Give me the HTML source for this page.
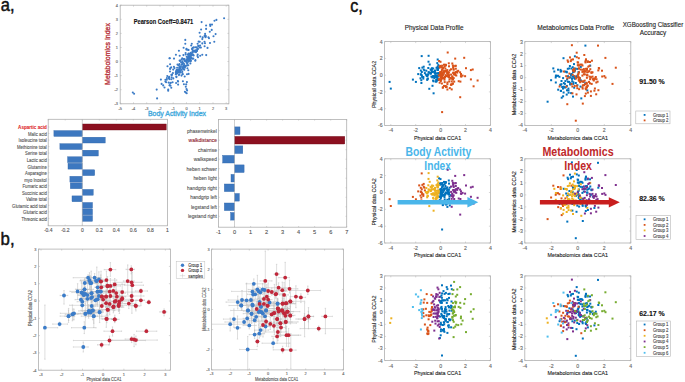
<!DOCTYPE html>
<html><head><meta charset="utf-8"><style>
html,body{margin:0;padding:0;background:#fff;width:685px;height:382px;overflow:hidden}
svg{display:block;font-family:"Liberation Sans",sans-serif}
</style></head><body>
<svg width="685" height="382" viewBox="0 0 685 382">
<rect width="685" height="382" fill="#fff"/>
<text x="0.8" y="10.7" font-size="17.5" fill="#111" textLength="13.8" lengthAdjust="spacingAndGlyphs" stroke="#111" stroke-width="0.45">a,</text>
<text x="0.6" y="244.7" font-size="17.5" fill="#111" textLength="14.0" lengthAdjust="spacingAndGlyphs" stroke="#111" stroke-width="0.45">b,</text>
<text x="350.2" y="11.6" font-size="17.5" fill="#111" textLength="12.6" lengthAdjust="spacingAndGlyphs" stroke="#111" stroke-width="0.45">c,</text>
<rect x="120.2" y="5.2" width="108.7" height="98.6" fill="none" stroke="#b0b0b0" stroke-width="0.8"/>
<line x1="120.2" y1="103.8" x2="120.2" y2="102.3" stroke="#b0b0b0" stroke-width="0.5"/>
<line x1="120.2" y1="5.2" x2="120.2" y2="6.7" stroke="#b0b0b0" stroke-width="0.5"/>
<text x="120.2" y="109.8" font-size="3.9" fill="#666" stroke="#666" stroke-width="0.12" text-anchor="middle">-5</text>
<line x1="133.5" y1="103.8" x2="133.5" y2="102.3" stroke="#b0b0b0" stroke-width="0.5"/>
<line x1="133.5" y1="5.2" x2="133.5" y2="6.7" stroke="#b0b0b0" stroke-width="0.5"/>
<text x="133.5" y="109.8" font-size="3.9" fill="#666" stroke="#666" stroke-width="0.12" text-anchor="middle">-4</text>
<line x1="146.7" y1="103.8" x2="146.7" y2="102.3" stroke="#b0b0b0" stroke-width="0.5"/>
<line x1="146.7" y1="5.2" x2="146.7" y2="6.7" stroke="#b0b0b0" stroke-width="0.5"/>
<text x="146.7" y="109.8" font-size="3.9" fill="#666" stroke="#666" stroke-width="0.12" text-anchor="middle">-3</text>
<line x1="160.0" y1="103.8" x2="160.0" y2="102.3" stroke="#b0b0b0" stroke-width="0.5"/>
<line x1="160.0" y1="5.2" x2="160.0" y2="6.7" stroke="#b0b0b0" stroke-width="0.5"/>
<text x="160.0" y="109.8" font-size="3.9" fill="#666" stroke="#666" stroke-width="0.12" text-anchor="middle">-2</text>
<line x1="173.2" y1="103.8" x2="173.2" y2="102.3" stroke="#b0b0b0" stroke-width="0.5"/>
<line x1="173.2" y1="5.2" x2="173.2" y2="6.7" stroke="#b0b0b0" stroke-width="0.5"/>
<text x="173.2" y="109.8" font-size="3.9" fill="#666" stroke="#666" stroke-width="0.12" text-anchor="middle">-1</text>
<line x1="186.5" y1="103.8" x2="186.5" y2="102.3" stroke="#b0b0b0" stroke-width="0.5"/>
<line x1="186.5" y1="5.2" x2="186.5" y2="6.7" stroke="#b0b0b0" stroke-width="0.5"/>
<text x="186.5" y="109.8" font-size="3.9" fill="#666" stroke="#666" stroke-width="0.12" text-anchor="middle">0</text>
<line x1="199.7" y1="103.8" x2="199.7" y2="102.3" stroke="#b0b0b0" stroke-width="0.5"/>
<line x1="199.7" y1="5.2" x2="199.7" y2="6.7" stroke="#b0b0b0" stroke-width="0.5"/>
<text x="199.7" y="109.8" font-size="3.9" fill="#666" stroke="#666" stroke-width="0.12" text-anchor="middle">1</text>
<line x1="213.0" y1="103.8" x2="213.0" y2="102.3" stroke="#b0b0b0" stroke-width="0.5"/>
<line x1="213.0" y1="5.2" x2="213.0" y2="6.7" stroke="#b0b0b0" stroke-width="0.5"/>
<text x="213.0" y="109.8" font-size="3.9" fill="#666" stroke="#666" stroke-width="0.12" text-anchor="middle">2</text>
<line x1="226.2" y1="103.8" x2="226.2" y2="102.3" stroke="#b0b0b0" stroke-width="0.5"/>
<line x1="226.2" y1="5.2" x2="226.2" y2="6.7" stroke="#b0b0b0" stroke-width="0.5"/>
<text x="226.2" y="109.8" font-size="3.9" fill="#666" stroke="#666" stroke-width="0.12" text-anchor="middle">3</text>
<line x1="120.2" y1="103.8" x2="121.7" y2="103.8" stroke="#b0b0b0" stroke-width="0.5"/>
<line x1="228.9" y1="103.8" x2="227.4" y2="103.8" stroke="#b0b0b0" stroke-width="0.5"/>
<text x="118.0" y="105.2" font-size="3.9" fill="#666" stroke="#666" stroke-width="0.12" text-anchor="end">-3</text>
<line x1="120.2" y1="89.7" x2="121.7" y2="89.7" stroke="#b0b0b0" stroke-width="0.5"/>
<line x1="228.9" y1="89.7" x2="227.4" y2="89.7" stroke="#b0b0b0" stroke-width="0.5"/>
<text x="118.0" y="91.1" font-size="3.9" fill="#666" stroke="#666" stroke-width="0.12" text-anchor="end">-2</text>
<line x1="120.2" y1="75.6" x2="121.7" y2="75.6" stroke="#b0b0b0" stroke-width="0.5"/>
<line x1="228.9" y1="75.6" x2="227.4" y2="75.6" stroke="#b0b0b0" stroke-width="0.5"/>
<text x="118.0" y="77.0" font-size="3.9" fill="#666" stroke="#666" stroke-width="0.12" text-anchor="end">-1</text>
<line x1="120.2" y1="61.5" x2="121.7" y2="61.5" stroke="#b0b0b0" stroke-width="0.5"/>
<line x1="228.9" y1="61.5" x2="227.4" y2="61.5" stroke="#b0b0b0" stroke-width="0.5"/>
<text x="118.0" y="62.9" font-size="3.9" fill="#666" stroke="#666" stroke-width="0.12" text-anchor="end">0</text>
<line x1="120.2" y1="47.5" x2="121.7" y2="47.5" stroke="#b0b0b0" stroke-width="0.5"/>
<line x1="228.9" y1="47.5" x2="227.4" y2="47.5" stroke="#b0b0b0" stroke-width="0.5"/>
<text x="118.0" y="48.9" font-size="3.9" fill="#666" stroke="#666" stroke-width="0.12" text-anchor="end">1</text>
<line x1="120.2" y1="33.4" x2="121.7" y2="33.4" stroke="#b0b0b0" stroke-width="0.5"/>
<line x1="228.9" y1="33.4" x2="227.4" y2="33.4" stroke="#b0b0b0" stroke-width="0.5"/>
<text x="118.0" y="34.8" font-size="3.9" fill="#666" stroke="#666" stroke-width="0.12" text-anchor="end">2</text>
<line x1="120.2" y1="19.3" x2="121.7" y2="19.3" stroke="#b0b0b0" stroke-width="0.5"/>
<line x1="228.9" y1="19.3" x2="227.4" y2="19.3" stroke="#b0b0b0" stroke-width="0.5"/>
<text x="118.0" y="20.7" font-size="3.9" fill="#666" stroke="#666" stroke-width="0.12" text-anchor="end">3</text>
<line x1="120.2" y1="5.2" x2="121.7" y2="5.2" stroke="#b0b0b0" stroke-width="0.5"/>
<line x1="228.9" y1="5.2" x2="227.4" y2="5.2" stroke="#b0b0b0" stroke-width="0.5"/>
<text x="118.0" y="6.6" font-size="3.9" fill="#666" stroke="#666" stroke-width="0.12" text-anchor="end">4</text>
<g fill="#3b7bc6"><circle cx="184.8" cy="60.9" r="1.05"/><circle cx="198.0" cy="57.3" r="1.05"/><circle cx="196.7" cy="50.5" r="1.05"/><circle cx="179.4" cy="64.1" r="1.05"/><circle cx="181.5" cy="64.5" r="1.05"/><circle cx="179.2" cy="67.7" r="1.05"/><circle cx="190.2" cy="53.8" r="1.05"/><circle cx="183.9" cy="63.6" r="1.05"/><circle cx="191.9" cy="54.9" r="1.05"/><circle cx="166.1" cy="82.3" r="1.05"/><circle cx="200.1" cy="45.6" r="1.05"/><circle cx="183.5" cy="69.1" r="1.05"/><circle cx="191.3" cy="53.5" r="1.05"/><circle cx="183.1" cy="67.4" r="1.05"/><circle cx="180.7" cy="72.5" r="1.05"/><circle cx="189.1" cy="57.6" r="1.05"/><circle cx="192.7" cy="47.9" r="1.05"/><circle cx="182.5" cy="61.3" r="1.05"/><circle cx="183.0" cy="67.7" r="1.05"/><circle cx="191.3" cy="53.9" r="1.05"/><circle cx="175.8" cy="74.3" r="1.05"/><circle cx="169.4" cy="79.1" r="1.05"/><circle cx="188.4" cy="59.5" r="1.05"/><circle cx="177.8" cy="81.1" r="1.05"/><circle cx="165.4" cy="81.5" r="1.05"/><circle cx="176.4" cy="76.5" r="1.05"/><circle cx="179.8" cy="71.6" r="1.05"/><circle cx="172.6" cy="82.2" r="1.05"/><circle cx="169.7" cy="85.3" r="1.05"/><circle cx="184.9" cy="67.8" r="1.05"/><circle cx="193.4" cy="51.2" r="1.05"/><circle cx="182.2" cy="58.3" r="1.05"/><circle cx="177.1" cy="71.1" r="1.05"/><circle cx="188.3" cy="55.0" r="1.05"/><circle cx="191.6" cy="58.0" r="1.05"/><circle cx="181.5" cy="75.6" r="1.05"/><circle cx="189.9" cy="57.8" r="1.05"/><circle cx="194.9" cy="51.6" r="1.05"/><circle cx="182.4" cy="67.8" r="1.05"/><circle cx="176.4" cy="70.3" r="1.05"/><circle cx="187.9" cy="57.7" r="1.05"/><circle cx="187.0" cy="65.4" r="1.05"/><circle cx="195.4" cy="60.0" r="1.05"/><circle cx="171.7" cy="77.3" r="1.05"/><circle cx="177.9" cy="71.2" r="1.05"/><circle cx="176.2" cy="73.6" r="1.05"/><circle cx="167.3" cy="76.0" r="1.05"/><circle cx="185.7" cy="54.5" r="1.05"/><circle cx="189.7" cy="60.6" r="1.05"/><circle cx="177.1" cy="67.7" r="1.05"/><circle cx="198.3" cy="45.9" r="1.05"/><circle cx="192.7" cy="52.5" r="1.05"/><circle cx="190.7" cy="52.8" r="1.05"/><circle cx="188.5" cy="61.7" r="1.05"/><circle cx="194.0" cy="51.0" r="1.05"/><circle cx="171.2" cy="67.3" r="1.05"/><circle cx="190.6" cy="54.1" r="1.05"/><circle cx="190.5" cy="60.8" r="1.05"/><circle cx="166.9" cy="78.1" r="1.05"/><circle cx="187.9" cy="54.5" r="1.05"/><circle cx="182.0" cy="64.5" r="1.05"/><circle cx="192.3" cy="58.8" r="1.05"/><circle cx="180.1" cy="60.9" r="1.05"/><circle cx="184.3" cy="69.8" r="1.05"/><circle cx="187.9" cy="58.1" r="1.05"/><circle cx="175.8" cy="72.4" r="1.05"/><circle cx="190.4" cy="63.5" r="1.05"/><circle cx="183.4" cy="59.1" r="1.05"/><circle cx="189.4" cy="57.4" r="1.05"/><circle cx="179.3" cy="74.3" r="1.05"/><circle cx="195.3" cy="50.4" r="1.05"/><circle cx="190.5" cy="59.9" r="1.05"/><circle cx="182.7" cy="74.3" r="1.05"/><circle cx="190.8" cy="60.8" r="1.05"/><circle cx="197.0" cy="50.3" r="1.05"/><circle cx="202.3" cy="43.4" r="1.05"/><circle cx="168.8" cy="78.3" r="1.05"/><circle cx="193.3" cy="55.0" r="1.05"/><circle cx="189.1" cy="57.1" r="1.05"/><circle cx="183.6" cy="65.7" r="1.05"/><circle cx="174.5" cy="68.1" r="1.05"/><circle cx="197.0" cy="50.9" r="1.05"/><circle cx="171.9" cy="74.7" r="1.05"/><circle cx="190.1" cy="55.7" r="1.05"/><circle cx="197.4" cy="56.0" r="1.05"/><circle cx="168.6" cy="82.6" r="1.05"/><circle cx="181.5" cy="59.6" r="1.05"/><circle cx="171.5" cy="74.9" r="1.05"/><circle cx="186.9" cy="62.7" r="1.05"/><circle cx="199.5" cy="47.5" r="1.05"/><circle cx="204.6" cy="46.3" r="1.05"/><circle cx="166.8" cy="79.8" r="1.05"/><circle cx="178.8" cy="72.5" r="1.05"/><circle cx="191.5" cy="55.6" r="1.05"/><circle cx="200.2" cy="55.8" r="1.05"/><circle cx="188.7" cy="53.5" r="1.05"/><circle cx="177.1" cy="73.4" r="1.05"/><circle cx="187.4" cy="68.2" r="1.05"/><circle cx="184.3" cy="65.0" r="1.05"/><circle cx="182.5" cy="67.5" r="1.05"/><circle cx="177.2" cy="70.2" r="1.05"/><circle cx="188.3" cy="65.3" r="1.05"/><circle cx="187.6" cy="58.9" r="1.05"/><circle cx="183.6" cy="47.8" r="1.05"/><circle cx="182.3" cy="71.9" r="1.05"/><circle cx="171.7" cy="74.7" r="1.05"/><circle cx="179.7" cy="69.9" r="1.05"/><circle cx="196.5" cy="51.1" r="1.05"/><circle cx="182.6" cy="74.0" r="1.05"/><circle cx="170.2" cy="83.1" r="1.05"/><circle cx="197.8" cy="48.7" r="1.05"/><circle cx="189.8" cy="58.8" r="1.05"/><circle cx="205.5" cy="35.7" r="1.05"/><circle cx="185.1" cy="66.4" r="1.05"/><circle cx="179.9" cy="67.4" r="1.05"/><circle cx="170.1" cy="64.3" r="1.05"/><circle cx="197.7" cy="54.5" r="1.05"/><circle cx="210.0" cy="43.0" r="1.05"/><circle cx="176.3" cy="71.9" r="1.05"/><circle cx="178.1" cy="70.3" r="1.05"/><circle cx="190.4" cy="54.1" r="1.05"/><circle cx="176.2" cy="71.2" r="1.05"/><circle cx="181.8" cy="69.9" r="1.05"/><circle cx="181.0" cy="66.2" r="1.05"/><circle cx="186.4" cy="49.6" r="1.05"/><circle cx="195.4" cy="47.2" r="1.05"/><circle cx="184.7" cy="76.5" r="1.05"/><circle cx="193.6" cy="55.5" r="1.05"/><circle cx="180.3" cy="71.9" r="1.05"/><circle cx="187.8" cy="57.7" r="1.05"/><circle cx="163.2" cy="85.4" r="1.05"/><circle cx="170.1" cy="68.9" r="1.05"/><circle cx="192.4" cy="51.7" r="1.05"/><circle cx="178.6" cy="65.4" r="1.05"/><circle cx="190.3" cy="57.3" r="1.05"/><circle cx="189.9" cy="58.7" r="1.05"/><circle cx="197.6" cy="49.3" r="1.05"/><circle cx="192.6" cy="49.9" r="1.05"/><circle cx="194.6" cy="51.4" r="1.05"/><circle cx="183.4" cy="66.5" r="1.05"/><circle cx="177.5" cy="64.6" r="1.05"/><circle cx="177.2" cy="70.0" r="1.05"/><circle cx="179.6" cy="68.9" r="1.05"/><circle cx="173.3" cy="78.4" r="1.05"/><circle cx="179.0" cy="71.7" r="1.05"/><circle cx="183.6" cy="67.6" r="1.05"/><circle cx="187.0" cy="74.3" r="1.05"/><circle cx="181.1" cy="62.3" r="1.05"/><circle cx="165.4" cy="79.8" r="1.05"/><circle cx="183.8" cy="65.5" r="1.05"/><circle cx="186.7" cy="56.7" r="1.05"/><circle cx="195.3" cy="51.2" r="1.05"/><circle cx="190.2" cy="56.4" r="1.05"/><circle cx="178.1" cy="81.5" r="1.05"/><circle cx="177.3" cy="71.9" r="1.05"/><circle cx="204.5" cy="41.8" r="1.05"/><circle cx="192.0" cy="48.9" r="1.05"/><circle cx="202.7" cy="37.4" r="1.05"/><circle cx="205.7" cy="36.4" r="1.05"/><circle cx="176.4" cy="77.1" r="1.05"/><circle cx="188.3" cy="70.2" r="1.05"/><circle cx="189.0" cy="56.7" r="1.05"/><circle cx="190.1" cy="58.2" r="1.05"/><circle cx="189.9" cy="54.0" r="1.05"/><circle cx="186.5" cy="62.4" r="1.05"/><circle cx="186.2" cy="61.1" r="1.05"/><circle cx="169.6" cy="85.3" r="1.05"/><circle cx="182.8" cy="63.3" r="1.05"/><circle cx="177.1" cy="73.1" r="1.05"/><circle cx="185.7" cy="60.9" r="1.05"/><circle cx="179.8" cy="66.2" r="1.05"/><circle cx="190.6" cy="58.3" r="1.05"/><circle cx="192.6" cy="54.3" r="1.05"/><circle cx="187.6" cy="60.8" r="1.05"/><circle cx="187.6" cy="57.2" r="1.05"/><circle cx="185.4" cy="60.5" r="1.05"/><circle cx="180.0" cy="70.7" r="1.05"/><circle cx="182.9" cy="68.1" r="1.05"/><circle cx="179.6" cy="60.5" r="1.05"/><circle cx="188.3" cy="60.5" r="1.05"/><circle cx="184.6" cy="59.0" r="1.05"/><circle cx="190.3" cy="56.3" r="1.05"/><circle cx="171.3" cy="79.3" r="1.05"/><circle cx="193.3" cy="58.6" r="1.05"/><circle cx="176.9" cy="70.6" r="1.05"/><circle cx="177.2" cy="69.7" r="1.05"/><circle cx="182.5" cy="62.8" r="1.05"/><circle cx="178.9" cy="75.1" r="1.05"/><circle cx="187.4" cy="63.7" r="1.05"/><circle cx="178.8" cy="69.8" r="1.05"/><circle cx="173.9" cy="66.7" r="1.05"/><circle cx="176.1" cy="83.0" r="1.05"/><circle cx="197.5" cy="49.0" r="1.05"/><circle cx="184.9" cy="65.8" r="1.05"/><circle cx="172.9" cy="73.1" r="1.05"/><circle cx="184.6" cy="66.0" r="1.05"/><circle cx="169.0" cy="77.2" r="1.05"/><circle cx="202.3" cy="39.1" r="1.05"/><circle cx="169.3" cy="76.9" r="1.05"/><circle cx="189.3" cy="57.1" r="1.05"/><circle cx="193.8" cy="47.4" r="1.05"/><circle cx="179.7" cy="68.7" r="1.05"/><circle cx="196.0" cy="52.3" r="1.05"/><circle cx="186.5" cy="48.8" r="1.05"/><circle cx="178.9" cy="50.7" r="1.05"/><circle cx="188.6" cy="54.2" r="1.05"/><circle cx="186.3" cy="60.7" r="1.05"/><circle cx="198.6" cy="41.6" r="1.05"/><circle cx="188.6" cy="73.9" r="1.05"/><circle cx="182.5" cy="62.8" r="1.05"/><circle cx="207.5" cy="47.9" r="1.05"/><circle cx="201.6" cy="22.1" r="1.05"/><circle cx="205.1" cy="33.9" r="1.05"/><circle cx="196.8" cy="47.4" r="1.05"/><circle cx="187.8" cy="59.3" r="1.05"/><circle cx="183.9" cy="84.3" r="1.05"/><circle cx="185.6" cy="53.0" r="1.05"/><circle cx="201.1" cy="29.5" r="1.05"/><circle cx="190.5" cy="61.4" r="1.05"/><circle cx="170.5" cy="68.1" r="1.05"/><circle cx="188.6" cy="50.0" r="1.05"/><circle cx="171.3" cy="87.7" r="1.05"/><circle cx="191.2" cy="45.5" r="1.05"/><circle cx="174.0" cy="58.6" r="1.05"/><circle cx="173.2" cy="69.6" r="1.05"/><circle cx="190.6" cy="55.3" r="1.05"/><circle cx="188.1" cy="49.9" r="1.05"/><circle cx="168.2" cy="90.7" r="1.05"/><circle cx="198.6" cy="46.1" r="1.05"/><circle cx="216.4" cy="19.9" r="1.05"/><circle cx="170.5" cy="85.7" r="1.05"/><circle cx="212.0" cy="24.6" r="1.05"/><circle cx="180.5" cy="68.4" r="1.05"/><circle cx="182.9" cy="81.3" r="1.05"/><circle cx="186.9" cy="59.3" r="1.05"/><circle cx="170.9" cy="82.8" r="1.05"/><circle cx="205.5" cy="37.2" r="1.05"/><circle cx="195.3" cy="60.8" r="1.05"/><circle cx="179.7" cy="55.8" r="1.05"/><circle cx="185.6" cy="66.3" r="1.05"/><circle cx="170.0" cy="71.5" r="1.05"/><circle cx="184.8" cy="65.9" r="1.05"/><circle cx="200.9" cy="47.6" r="1.05"/><circle cx="167.5" cy="66.3" r="1.05"/><circle cx="183.6" cy="59.5" r="1.05"/><circle cx="191.0" cy="57.9" r="1.05"/><circle cx="202.3" cy="54.7" r="1.05"/><circle cx="206.1" cy="28.9" r="1.05"/><circle cx="183.4" cy="55.1" r="1.05"/><circle cx="179.8" cy="68.2" r="1.05"/><circle cx="224.1" cy="18.3" r="1.05"/><circle cx="214.5" cy="20.7" r="1.05"/><circle cx="210.1" cy="24.5" r="1.05"/><circle cx="210.3" cy="25.9" r="1.05"/><circle cx="206.1" cy="25.5" r="1.05"/><circle cx="211.7" cy="29.9" r="1.05"/><circle cx="209.8" cy="31.7" r="1.05"/><circle cx="215.6" cy="34.1" r="1.05"/><circle cx="213.5" cy="36.2" r="1.05"/><circle cx="199.6" cy="32.7" r="1.05"/><circle cx="204.6" cy="35.9" r="1.05"/><circle cx="200.3" cy="36.5" r="1.05"/><circle cx="208.4" cy="37.3" r="1.05"/><circle cx="209.0" cy="38.3" r="1.05"/><circle cx="214.3" cy="41.8" r="1.05"/><circle cx="199.7" cy="41.8" r="1.05"/><circle cx="205.0" cy="43.2" r="1.05"/><circle cx="185.3" cy="39.9" r="1.05"/><circle cx="185.3" cy="43.8" r="1.05"/><circle cx="191.8" cy="43.8" r="1.05"/><circle cx="197.6" cy="43.8" r="1.05"/><circle cx="175.9" cy="54.8" r="1.05"/><circle cx="169.8" cy="58.3" r="1.05"/><circle cx="169.5" cy="58.2" r="1.05"/><circle cx="206.2" cy="55.1" r="1.05"/><circle cx="156.7" cy="89.6" r="1.05"/><circle cx="157.1" cy="98.4" r="1.05"/><circle cx="160.9" cy="79.6" r="1.05"/><circle cx="161.6" cy="83.9" r="1.05"/><circle cx="164.5" cy="87.5" r="1.05"/><circle cx="168.2" cy="89.6" r="1.05"/><circle cx="178.1" cy="84.6" r="1.05"/><circle cx="186.9" cy="82.1" r="1.05"/><circle cx="185.8" cy="86.8" r="1.05"/><circle cx="184.9" cy="91.8" r="1.05"/><circle cx="185.8" cy="92.5" r="1.05"/><circle cx="186.7" cy="93.2" r="1.05"/><circle cx="186.5" cy="89.0" r="1.05"/><circle cx="187.1" cy="90.4" r="1.05"/><circle cx="186.2" cy="84.4" r="1.05"/><circle cx="132.8" cy="92.5" r="1.05"/><circle cx="134.1" cy="93.7" r="1.05"/></g>
<text x="133.7" y="24.0" font-size="6.8" fill="#111" stroke="#111" stroke-width="0.12" font-weight="bold" textLength="59.6" lengthAdjust="spacingAndGlyphs">Pearson Coeff=0.8471</text>
<text x="110.4" y="54.0" font-size="7.9" fill="#b8333a" text-anchor="middle" textLength="61.8" lengthAdjust="spacingAndGlyphs" transform="rotate(-90 110.4 54.0)" stroke="#b8333a" stroke-width="0.35">Metabolomics Index</text>
<text x="148.0" y="116.0" font-size="7.5" fill="#42a9dc" textLength="58.0" lengthAdjust="spacingAndGlyphs" stroke="#42a9dc" stroke-width="0.35">Body Activity Index</text>
<rect x="48.2" y="119.3" width="119.2" height="106.5" fill="none" stroke="#b0b0b0" stroke-width="0.8"/>
<rect x="82.3" y="124.0" width="83.9" height="6.0" fill="#8c1020" stroke="#6e0c18" stroke-width="0.4"/>
<line x1="48.2" y1="127.0" x2="49.4" y2="127.0" stroke="#b0b0b0" stroke-width="0.5"/>
<text x="46.8" y="129.2" font-size="6.2" fill="#e0282a" stroke="#e0282a" stroke-width="0.12" text-anchor="end" font-weight="bold" textLength="28.7" lengthAdjust="spacingAndGlyphs">Aspartic acid</text>
<rect x="53.9" y="130.6" width="28.4" height="5.8" fill="#3d78c0" stroke="#2f64a8" stroke-width="0.4"/>
<line x1="48.2" y1="133.5" x2="49.4" y2="133.5" stroke="#b0b0b0" stroke-width="0.5"/>
<text x="46.8" y="135.8" font-size="5.4" fill="#555" stroke="#555" stroke-width="0.12" text-anchor="end" textLength="18.8" lengthAdjust="spacingAndGlyphs">Malic acid</text>
<rect x="82.3" y="137.2" width="22.9" height="5.8" fill="#3d78c0" stroke="#2f64a8" stroke-width="0.4"/>
<line x1="48.2" y1="140.1" x2="49.4" y2="140.1" stroke="#b0b0b0" stroke-width="0.5"/>
<text x="46.8" y="142.4" font-size="5.4" fill="#555" stroke="#555" stroke-width="0.12" text-anchor="end" textLength="28.3" lengthAdjust="spacingAndGlyphs">Isoleucine total</text>
<rect x="59.9" y="143.7" width="22.3" height="5.8" fill="#3d78c0" stroke="#2f64a8" stroke-width="0.4"/>
<line x1="48.2" y1="146.6" x2="49.4" y2="146.6" stroke="#b0b0b0" stroke-width="0.5"/>
<text x="46.8" y="148.9" font-size="5.4" fill="#555" stroke="#555" stroke-width="0.12" text-anchor="end" textLength="29.8" lengthAdjust="spacingAndGlyphs">Methionine total</text>
<rect x="82.3" y="150.2" width="16.0" height="5.8" fill="#3d78c0" stroke="#2f64a8" stroke-width="0.4"/>
<line x1="48.2" y1="153.1" x2="49.4" y2="153.1" stroke="#b0b0b0" stroke-width="0.5"/>
<text x="46.8" y="155.4" font-size="5.4" fill="#555" stroke="#555" stroke-width="0.12" text-anchor="end" textLength="21.7" lengthAdjust="spacingAndGlyphs">Serine total</text>
<rect x="67.6" y="156.8" width="14.6" height="5.8" fill="#3d78c0" stroke="#2f64a8" stroke-width="0.4"/>
<line x1="48.2" y1="159.7" x2="49.4" y2="159.7" stroke="#b0b0b0" stroke-width="0.5"/>
<text x="46.8" y="162.0" font-size="5.4" fill="#555" stroke="#555" stroke-width="0.12" text-anchor="end" textLength="20.1" lengthAdjust="spacingAndGlyphs">Lactic acid</text>
<rect x="68.0" y="163.3" width="14.3" height="5.8" fill="#3d78c0" stroke="#2f64a8" stroke-width="0.4"/>
<line x1="48.2" y1="166.2" x2="49.4" y2="166.2" stroke="#b0b0b0" stroke-width="0.5"/>
<text x="46.8" y="168.5" font-size="5.4" fill="#555" stroke="#555" stroke-width="0.12" text-anchor="end" textLength="19.3" lengthAdjust="spacingAndGlyphs">Glutamine</text>
<rect x="82.3" y="169.8" width="12.4" height="5.8" fill="#3d78c0" stroke="#2f64a8" stroke-width="0.4"/>
<line x1="48.2" y1="172.7" x2="49.4" y2="172.7" stroke="#b0b0b0" stroke-width="0.5"/>
<text x="46.8" y="175.0" font-size="5.4" fill="#555" stroke="#555" stroke-width="0.12" text-anchor="end" textLength="21.7" lengthAdjust="spacingAndGlyphs">Asparagine</text>
<rect x="69.9" y="176.3" width="12.3" height="5.8" fill="#3d78c0" stroke="#2f64a8" stroke-width="0.4"/>
<line x1="48.2" y1="179.2" x2="49.4" y2="179.2" stroke="#b0b0b0" stroke-width="0.5"/>
<text x="46.8" y="181.5" font-size="5.4" fill="#555" stroke="#555" stroke-width="0.12" text-anchor="end" textLength="22.5" lengthAdjust="spacingAndGlyphs">myo Inositol</text>
<rect x="70.3" y="182.9" width="11.9" height="5.8" fill="#3d78c0" stroke="#2f64a8" stroke-width="0.4"/>
<line x1="48.2" y1="185.8" x2="49.4" y2="185.8" stroke="#b0b0b0" stroke-width="0.5"/>
<text x="46.8" y="188.1" font-size="5.4" fill="#555" stroke="#555" stroke-width="0.12" text-anchor="end" textLength="24.3" lengthAdjust="spacingAndGlyphs">Fumaric acid</text>
<rect x="82.3" y="189.4" width="10.9" height="5.8" fill="#3d78c0" stroke="#2f64a8" stroke-width="0.4"/>
<line x1="48.2" y1="192.3" x2="49.4" y2="192.3" stroke="#b0b0b0" stroke-width="0.5"/>
<text x="46.8" y="194.6" font-size="5.4" fill="#555" stroke="#555" stroke-width="0.12" text-anchor="end" textLength="24.8" lengthAdjust="spacingAndGlyphs">Succinic acid</text>
<rect x="72.0" y="195.9" width="10.2" height="5.8" fill="#3d78c0" stroke="#2f64a8" stroke-width="0.4"/>
<line x1="48.2" y1="198.8" x2="49.4" y2="198.8" stroke="#b0b0b0" stroke-width="0.5"/>
<text x="46.8" y="201.1" font-size="5.4" fill="#555" stroke="#555" stroke-width="0.12" text-anchor="end" textLength="20.9" lengthAdjust="spacingAndGlyphs">Valine total</text>
<rect x="82.3" y="202.5" width="10.2" height="5.8" fill="#3d78c0" stroke="#2f64a8" stroke-width="0.4"/>
<line x1="48.2" y1="205.4" x2="49.4" y2="205.4" stroke="#b0b0b0" stroke-width="0.5"/>
<text x="46.8" y="207.7" font-size="5.4" fill="#555" stroke="#555" stroke-width="0.12" text-anchor="end" textLength="34.7" lengthAdjust="spacingAndGlyphs">Glutamic acid total</text>
<rect x="82.3" y="209.0" width="10.2" height="5.8" fill="#3d78c0" stroke="#2f64a8" stroke-width="0.4"/>
<line x1="48.2" y1="211.9" x2="49.4" y2="211.9" stroke="#b0b0b0" stroke-width="0.5"/>
<text x="46.8" y="214.2" font-size="5.4" fill="#555" stroke="#555" stroke-width="0.12" text-anchor="end" textLength="23.7" lengthAdjust="spacingAndGlyphs">Glutaric acid</text>
<rect x="82.3" y="215.5" width="10.2" height="5.8" fill="#3d78c0" stroke="#2f64a8" stroke-width="0.4"/>
<line x1="48.2" y1="218.4" x2="49.4" y2="218.4" stroke="#b0b0b0" stroke-width="0.5"/>
<text x="46.8" y="220.7" font-size="5.4" fill="#555" stroke="#555" stroke-width="0.12" text-anchor="end" textLength="25.3" lengthAdjust="spacingAndGlyphs">Threonic acid</text>
<line x1="82.3" y1="119.3" x2="82.3" y2="225.8" stroke="#b0b0b0" stroke-width="0.6"/>
<line x1="48.2" y1="119.3" x2="48.2" y2="120.5" stroke="#b0b0b0" stroke-width="0.5"/>
<line x1="48.2" y1="225.8" x2="48.2" y2="224.6" stroke="#b0b0b0" stroke-width="0.5"/>
<text x="48.2" y="232.3" font-size="5.0" fill="#555" stroke="#555" stroke-width="0.12" text-anchor="middle">-0.4</text>
<line x1="65.2" y1="119.3" x2="65.2" y2="120.5" stroke="#b0b0b0" stroke-width="0.5"/>
<line x1="65.2" y1="225.8" x2="65.2" y2="224.6" stroke="#b0b0b0" stroke-width="0.5"/>
<text x="65.2" y="232.3" font-size="5.0" fill="#555" stroke="#555" stroke-width="0.12" text-anchor="middle">-0.2</text>
<line x1="82.3" y1="119.3" x2="82.3" y2="120.5" stroke="#b0b0b0" stroke-width="0.5"/>
<line x1="82.3" y1="225.8" x2="82.3" y2="224.6" stroke="#b0b0b0" stroke-width="0.5"/>
<text x="82.3" y="232.3" font-size="5.0" fill="#555" stroke="#555" stroke-width="0.12" text-anchor="middle">0</text>
<line x1="99.3" y1="119.3" x2="99.3" y2="120.5" stroke="#b0b0b0" stroke-width="0.5"/>
<line x1="99.3" y1="225.8" x2="99.3" y2="224.6" stroke="#b0b0b0" stroke-width="0.5"/>
<text x="99.3" y="232.3" font-size="5.0" fill="#555" stroke="#555" stroke-width="0.12" text-anchor="middle">0.2</text>
<line x1="116.3" y1="119.3" x2="116.3" y2="120.5" stroke="#b0b0b0" stroke-width="0.5"/>
<line x1="116.3" y1="225.8" x2="116.3" y2="224.6" stroke="#b0b0b0" stroke-width="0.5"/>
<text x="116.3" y="232.3" font-size="5.0" fill="#555" stroke="#555" stroke-width="0.12" text-anchor="middle">0.4</text>
<line x1="133.3" y1="119.3" x2="133.3" y2="120.5" stroke="#b0b0b0" stroke-width="0.5"/>
<line x1="133.3" y1="225.8" x2="133.3" y2="224.6" stroke="#b0b0b0" stroke-width="0.5"/>
<text x="133.3" y="232.3" font-size="5.0" fill="#555" stroke="#555" stroke-width="0.12" text-anchor="middle">0.6</text>
<line x1="150.4" y1="119.3" x2="150.4" y2="120.5" stroke="#b0b0b0" stroke-width="0.5"/>
<line x1="150.4" y1="225.8" x2="150.4" y2="224.6" stroke="#b0b0b0" stroke-width="0.5"/>
<text x="150.4" y="232.3" font-size="5.0" fill="#555" stroke="#555" stroke-width="0.12" text-anchor="middle">0.8</text>
<line x1="167.4" y1="119.3" x2="167.4" y2="120.5" stroke="#b0b0b0" stroke-width="0.5"/>
<line x1="167.4" y1="225.8" x2="167.4" y2="224.6" stroke="#b0b0b0" stroke-width="0.5"/>
<text x="167.4" y="232.3" font-size="5.0" fill="#555" stroke="#555" stroke-width="0.12" text-anchor="middle">1</text>
<rect x="218.5" y="119.4" width="128.2" height="107.8" fill="none" stroke="#b0b0b0" stroke-width="0.8"/>
<rect x="234.5" y="126.9" width="5.5" height="7.6" fill="#3d78c0" stroke="#2f64a8" stroke-width="0.4"/>
<line x1="218.5" y1="130.7" x2="219.7" y2="130.7" stroke="#b0b0b0" stroke-width="0.5"/>
<line x1="346.7" y1="130.7" x2="345.5" y2="130.7" stroke="#b0b0b0" stroke-width="0.5"/>
<text x="216.9" y="132.8" font-size="5.8" fill="#555" stroke="#555" stroke-width="0.12" text-anchor="end" textLength="29.8" lengthAdjust="spacingAndGlyphs">phasenwinkel</text>
<rect x="234.5" y="136.4" width="110.3" height="7.6" fill="#8c1020" stroke="#6e0c18" stroke-width="0.4"/>
<line x1="218.5" y1="140.2" x2="219.7" y2="140.2" stroke="#b0b0b0" stroke-width="0.5"/>
<line x1="346.7" y1="140.2" x2="345.5" y2="140.2" stroke="#b0b0b0" stroke-width="0.5"/>
<text x="216.9" y="142.3" font-size="5.8" fill="#8c1a2a" stroke="#8c1a2a" stroke-width="0.12" text-anchor="end" textLength="28.3" lengthAdjust="spacingAndGlyphs">walkdistance</text>
<rect x="234.5" y="145.9" width="8.3" height="7.6" fill="#3d78c0" stroke="#2f64a8" stroke-width="0.4"/>
<line x1="218.5" y1="149.7" x2="219.7" y2="149.7" stroke="#b0b0b0" stroke-width="0.5"/>
<line x1="346.7" y1="149.7" x2="345.5" y2="149.7" stroke="#b0b0b0" stroke-width="0.5"/>
<text x="216.9" y="151.8" font-size="5.8" fill="#555" stroke="#555" stroke-width="0.12" text-anchor="end" textLength="18.8" lengthAdjust="spacingAndGlyphs">chairrise</text>
<rect x="222.7" y="155.4" width="11.9" height="7.6" fill="#3d78c0" stroke="#2f64a8" stroke-width="0.4"/>
<line x1="218.5" y1="159.2" x2="219.7" y2="159.2" stroke="#b0b0b0" stroke-width="0.5"/>
<line x1="346.7" y1="159.2" x2="345.5" y2="159.2" stroke="#b0b0b0" stroke-width="0.5"/>
<text x="216.9" y="161.3" font-size="5.8" fill="#555" stroke="#555" stroke-width="0.12" text-anchor="end" textLength="23.1" lengthAdjust="spacingAndGlyphs">walkspeed</text>
<rect x="234.5" y="164.9" width="9.6" height="7.6" fill="#3d78c0" stroke="#2f64a8" stroke-width="0.4"/>
<line x1="218.5" y1="168.7" x2="219.7" y2="168.7" stroke="#b0b0b0" stroke-width="0.5"/>
<line x1="346.7" y1="168.7" x2="345.5" y2="168.7" stroke="#b0b0b0" stroke-width="0.5"/>
<text x="216.9" y="170.8" font-size="5.8" fill="#555" stroke="#555" stroke-width="0.12" text-anchor="end" textLength="30.3" lengthAdjust="spacingAndGlyphs">heben schwer</text>
<rect x="231.0" y="174.4" width="3.5" height="7.6" fill="#3d78c0" stroke="#2f64a8" stroke-width="0.4"/>
<line x1="218.5" y1="178.2" x2="219.7" y2="178.2" stroke="#b0b0b0" stroke-width="0.5"/>
<line x1="346.7" y1="178.2" x2="345.5" y2="178.2" stroke="#b0b0b0" stroke-width="0.5"/>
<text x="216.9" y="180.3" font-size="5.8" fill="#555" stroke="#555" stroke-width="0.12" text-anchor="end" textLength="23.5" lengthAdjust="spacingAndGlyphs">heben light</text>
<rect x="224.3" y="184.0" width="10.3" height="7.6" fill="#3d78c0" stroke="#2f64a8" stroke-width="0.4"/>
<line x1="218.5" y1="187.8" x2="219.7" y2="187.8" stroke="#b0b0b0" stroke-width="0.5"/>
<line x1="346.7" y1="187.8" x2="345.5" y2="187.8" stroke="#b0b0b0" stroke-width="0.5"/>
<text x="216.9" y="189.9" font-size="5.8" fill="#555" stroke="#555" stroke-width="0.12" text-anchor="end" textLength="29.8" lengthAdjust="spacingAndGlyphs">handgrip right</text>
<rect x="234.5" y="193.5" width="4.8" height="7.6" fill="#3d78c0" stroke="#2f64a8" stroke-width="0.4"/>
<line x1="218.5" y1="197.3" x2="219.7" y2="197.3" stroke="#b0b0b0" stroke-width="0.5"/>
<line x1="346.7" y1="197.3" x2="345.5" y2="197.3" stroke="#b0b0b0" stroke-width="0.5"/>
<text x="216.9" y="199.4" font-size="5.8" fill="#555" stroke="#555" stroke-width="0.12" text-anchor="end" textLength="26.7" lengthAdjust="spacingAndGlyphs">handgrip left</text>
<rect x="224.3" y="203.0" width="10.3" height="7.6" fill="#3d78c0" stroke="#2f64a8" stroke-width="0.4"/>
<line x1="218.5" y1="206.8" x2="219.7" y2="206.8" stroke="#b0b0b0" stroke-width="0.5"/>
<line x1="346.7" y1="206.8" x2="345.5" y2="206.8" stroke="#b0b0b0" stroke-width="0.5"/>
<text x="216.9" y="208.9" font-size="5.8" fill="#555" stroke="#555" stroke-width="0.12" text-anchor="end" textLength="25.9" lengthAdjust="spacingAndGlyphs">legstand left</text>
<rect x="230.6" y="212.5" width="3.9" height="7.6" fill="#3d78c0" stroke="#2f64a8" stroke-width="0.4"/>
<line x1="218.5" y1="216.3" x2="219.7" y2="216.3" stroke="#b0b0b0" stroke-width="0.5"/>
<line x1="346.7" y1="216.3" x2="345.5" y2="216.3" stroke="#b0b0b0" stroke-width="0.5"/>
<text x="216.9" y="218.4" font-size="5.8" fill="#555" stroke="#555" stroke-width="0.12" text-anchor="end" textLength="29.0" lengthAdjust="spacingAndGlyphs">legstand right</text>
<line x1="234.5" y1="119.4" x2="234.5" y2="227.2" stroke="#b0b0b0" stroke-width="0.6"/>
<line x1="218.5" y1="119.4" x2="218.5" y2="120.6" stroke="#b0b0b0" stroke-width="0.5"/>
<line x1="218.5" y1="227.2" x2="218.5" y2="226.0" stroke="#b0b0b0" stroke-width="0.5"/>
<text x="218.5" y="234.4" font-size="5.6" fill="#555" stroke="#555" stroke-width="0.12" text-anchor="middle">-1</text>
<line x1="234.5" y1="119.4" x2="234.5" y2="120.6" stroke="#b0b0b0" stroke-width="0.5"/>
<line x1="234.5" y1="227.2" x2="234.5" y2="226.0" stroke="#b0b0b0" stroke-width="0.5"/>
<text x="234.5" y="234.4" font-size="5.6" fill="#555" stroke="#555" stroke-width="0.12" text-anchor="middle">0</text>
<line x1="250.6" y1="119.4" x2="250.6" y2="120.6" stroke="#b0b0b0" stroke-width="0.5"/>
<line x1="250.6" y1="227.2" x2="250.6" y2="226.0" stroke="#b0b0b0" stroke-width="0.5"/>
<text x="250.6" y="234.4" font-size="5.6" fill="#555" stroke="#555" stroke-width="0.12" text-anchor="middle">1</text>
<line x1="266.6" y1="119.4" x2="266.6" y2="120.6" stroke="#b0b0b0" stroke-width="0.5"/>
<line x1="266.6" y1="227.2" x2="266.6" y2="226.0" stroke="#b0b0b0" stroke-width="0.5"/>
<text x="266.6" y="234.4" font-size="5.6" fill="#555" stroke="#555" stroke-width="0.12" text-anchor="middle">2</text>
<line x1="282.6" y1="119.4" x2="282.6" y2="120.6" stroke="#b0b0b0" stroke-width="0.5"/>
<line x1="282.6" y1="227.2" x2="282.6" y2="226.0" stroke="#b0b0b0" stroke-width="0.5"/>
<text x="282.6" y="234.4" font-size="5.6" fill="#555" stroke="#555" stroke-width="0.12" text-anchor="middle">3</text>
<line x1="298.6" y1="119.4" x2="298.6" y2="120.6" stroke="#b0b0b0" stroke-width="0.5"/>
<line x1="298.6" y1="227.2" x2="298.6" y2="226.0" stroke="#b0b0b0" stroke-width="0.5"/>
<text x="298.6" y="234.4" font-size="5.6" fill="#555" stroke="#555" stroke-width="0.12" text-anchor="middle">4</text>
<line x1="314.6" y1="119.4" x2="314.6" y2="120.6" stroke="#b0b0b0" stroke-width="0.5"/>
<line x1="314.6" y1="227.2" x2="314.6" y2="226.0" stroke="#b0b0b0" stroke-width="0.5"/>
<text x="314.6" y="234.4" font-size="5.6" fill="#555" stroke="#555" stroke-width="0.12" text-anchor="middle">5</text>
<line x1="330.7" y1="119.4" x2="330.7" y2="120.6" stroke="#b0b0b0" stroke-width="0.5"/>
<line x1="330.7" y1="227.2" x2="330.7" y2="226.0" stroke="#b0b0b0" stroke-width="0.5"/>
<text x="330.7" y="234.4" font-size="5.6" fill="#555" stroke="#555" stroke-width="0.12" text-anchor="middle">6</text>
<line x1="346.7" y1="119.4" x2="346.7" y2="120.6" stroke="#b0b0b0" stroke-width="0.5"/>
<line x1="346.7" y1="227.2" x2="346.7" y2="226.0" stroke="#b0b0b0" stroke-width="0.5"/>
<text x="346.7" y="234.4" font-size="5.6" fill="#555" stroke="#555" stroke-width="0.12" text-anchor="middle">7</text>
<rect x="38.5" y="249.1" width="131.9" height="121.1" fill="none" stroke="#b0b0b0" stroke-width="0.8"/>
<line x1="41.0" y1="370.2" x2="41.0" y2="368.7" stroke="#b0b0b0" stroke-width="0.5"/>
<line x1="41.0" y1="249.1" x2="41.0" y2="250.6" stroke="#b0b0b0" stroke-width="0.5"/>
<text x="41.0" y="375.6" font-size="3.9" fill="#666" stroke="#666" stroke-width="0.12" text-anchor="middle">-3</text>
<line x1="61.7" y1="370.2" x2="61.7" y2="368.7" stroke="#b0b0b0" stroke-width="0.5"/>
<line x1="61.7" y1="249.1" x2="61.7" y2="250.6" stroke="#b0b0b0" stroke-width="0.5"/>
<text x="61.7" y="375.6" font-size="3.9" fill="#666" stroke="#666" stroke-width="0.12" text-anchor="middle">-2</text>
<line x1="82.5" y1="370.2" x2="82.5" y2="368.7" stroke="#b0b0b0" stroke-width="0.5"/>
<line x1="82.5" y1="249.1" x2="82.5" y2="250.6" stroke="#b0b0b0" stroke-width="0.5"/>
<text x="82.5" y="375.6" font-size="3.9" fill="#666" stroke="#666" stroke-width="0.12" text-anchor="middle">-1</text>
<line x1="103.2" y1="370.2" x2="103.2" y2="368.7" stroke="#b0b0b0" stroke-width="0.5"/>
<line x1="103.2" y1="249.1" x2="103.2" y2="250.6" stroke="#b0b0b0" stroke-width="0.5"/>
<text x="103.2" y="375.6" font-size="3.9" fill="#666" stroke="#666" stroke-width="0.12" text-anchor="middle">0</text>
<line x1="123.9" y1="370.2" x2="123.9" y2="368.7" stroke="#b0b0b0" stroke-width="0.5"/>
<line x1="123.9" y1="249.1" x2="123.9" y2="250.6" stroke="#b0b0b0" stroke-width="0.5"/>
<text x="123.9" y="375.6" font-size="3.9" fill="#666" stroke="#666" stroke-width="0.12" text-anchor="middle">1</text>
<line x1="144.7" y1="370.2" x2="144.7" y2="368.7" stroke="#b0b0b0" stroke-width="0.5"/>
<line x1="144.7" y1="249.1" x2="144.7" y2="250.6" stroke="#b0b0b0" stroke-width="0.5"/>
<text x="144.7" y="375.6" font-size="3.9" fill="#666" stroke="#666" stroke-width="0.12" text-anchor="middle">2</text>
<line x1="165.4" y1="370.2" x2="165.4" y2="368.7" stroke="#b0b0b0" stroke-width="0.5"/>
<line x1="165.4" y1="249.1" x2="165.4" y2="250.6" stroke="#b0b0b0" stroke-width="0.5"/>
<text x="165.4" y="375.6" font-size="3.9" fill="#666" stroke="#666" stroke-width="0.12" text-anchor="middle">3</text>
<line x1="38.5" y1="370.2" x2="40.0" y2="370.2" stroke="#b0b0b0" stroke-width="0.5"/>
<line x1="170.4" y1="370.2" x2="168.9" y2="370.2" stroke="#b0b0b0" stroke-width="0.5"/>
<text x="36.5" y="371.6" font-size="3.9" fill="#666" stroke="#666" stroke-width="0.12" text-anchor="end">-4</text>
<line x1="38.5" y1="352.9" x2="40.0" y2="352.9" stroke="#b0b0b0" stroke-width="0.5"/>
<line x1="170.4" y1="352.9" x2="168.9" y2="352.9" stroke="#b0b0b0" stroke-width="0.5"/>
<text x="36.5" y="354.3" font-size="3.9" fill="#666" stroke="#666" stroke-width="0.12" text-anchor="end">-3</text>
<line x1="38.5" y1="335.6" x2="40.0" y2="335.6" stroke="#b0b0b0" stroke-width="0.5"/>
<line x1="170.4" y1="335.6" x2="168.9" y2="335.6" stroke="#b0b0b0" stroke-width="0.5"/>
<text x="36.5" y="337.0" font-size="3.9" fill="#666" stroke="#666" stroke-width="0.12" text-anchor="end">-2</text>
<line x1="38.5" y1="318.3" x2="40.0" y2="318.3" stroke="#b0b0b0" stroke-width="0.5"/>
<line x1="170.4" y1="318.3" x2="168.9" y2="318.3" stroke="#b0b0b0" stroke-width="0.5"/>
<text x="36.5" y="319.7" font-size="3.9" fill="#666" stroke="#666" stroke-width="0.12" text-anchor="end">-1</text>
<line x1="38.5" y1="301.0" x2="40.0" y2="301.0" stroke="#b0b0b0" stroke-width="0.5"/>
<line x1="170.4" y1="301.0" x2="168.9" y2="301.0" stroke="#b0b0b0" stroke-width="0.5"/>
<text x="36.5" y="302.4" font-size="3.9" fill="#666" stroke="#666" stroke-width="0.12" text-anchor="end">0</text>
<line x1="38.5" y1="283.7" x2="40.0" y2="283.7" stroke="#b0b0b0" stroke-width="0.5"/>
<line x1="170.4" y1="283.7" x2="168.9" y2="283.7" stroke="#b0b0b0" stroke-width="0.5"/>
<text x="36.5" y="285.1" font-size="3.9" fill="#666" stroke="#666" stroke-width="0.12" text-anchor="end">1</text>
<line x1="38.5" y1="266.4" x2="40.0" y2="266.4" stroke="#b0b0b0" stroke-width="0.5"/>
<line x1="170.4" y1="266.4" x2="168.9" y2="266.4" stroke="#b0b0b0" stroke-width="0.5"/>
<text x="36.5" y="267.8" font-size="3.9" fill="#666" stroke="#666" stroke-width="0.12" text-anchor="end">2</text>
<line x1="38.5" y1="249.1" x2="40.0" y2="249.1" stroke="#b0b0b0" stroke-width="0.5"/>
<line x1="170.4" y1="249.1" x2="168.9" y2="249.1" stroke="#b0b0b0" stroke-width="0.5"/>
<text x="36.5" y="250.5" font-size="3.9" fill="#666" stroke="#666" stroke-width="0.12" text-anchor="end">3</text>
<text x="32.4" y="308.0" font-size="4.8" fill="#555" stroke="#555" stroke-width="0.12" text-anchor="middle" textLength="35.8" lengthAdjust="spacingAndGlyphs" transform="rotate(-90 32.4 308.0)">Physical data CCA2</text>
<text x="104.0" y="381.0" font-size="4.8" fill="#555" stroke="#555" stroke-width="0.12" text-anchor="middle" textLength="35.0" lengthAdjust="spacingAndGlyphs">Physical data CCA1</text>
<path d="M60.1 295.5H67.8M64.0 290.6V304.1M60.1 294.8V296.2M67.8 294.8V296.2M63.3 290.6H64.7M63.3 304.1H64.7M60.1 316.1H74.8M68.6 308.4V320.5M60.1 315.4V316.8M74.8 315.4V316.8M67.9 308.4H69.3M67.9 320.5H69.3M69.6 314.0H75.3M73.0 308.9V319.9M69.6 313.3V314.7M75.3 313.3V314.7M72.3 308.9H73.7M72.3 319.9H73.7M60.3 313.3H80.7M74.0 309.0V319.9M60.3 312.6V314.0M80.7 312.6V314.0M73.3 309.0H74.7M73.3 319.9H74.7M69.9 291.4H83.9M77.6 283.7V299.3M69.9 290.7V292.1M83.9 290.7V292.1M76.9 283.7H78.3M76.9 299.3H78.3M75.0 299.6H90.3M80.9 292.7V305.3M75.0 298.9V300.3M90.3 298.9V300.3M80.2 292.7H81.6M80.2 305.3H81.6M77.1 301.7H88.1M82.3 292.4V307.8M77.1 301.0V302.4M88.1 301.0V302.4M81.6 292.4H83.0M81.6 307.8H83.0M69.7 305.3H89.9M82.3 301.5V311.4M69.7 304.6V306.0M89.9 304.6V306.0M81.6 301.5H83.0M81.6 311.4H83.0M71.8 292.4H92.5M81.6 281.2V300.8M71.8 291.7V293.1M92.5 291.7V293.1M80.9 281.2H82.3M80.9 300.8H82.3M79.4 293.1H86.3M83.0 283.7V299.0M79.4 292.4V293.8M86.3 292.4V293.8M82.3 283.7H83.7M82.3 299.0H83.7M78.7 295.2H89.4M83.8 291.3V298.8M78.7 294.5V295.9M89.4 294.5V295.9M83.1 291.3H84.5M83.1 298.8H84.5M76.4 289.5H91.8M84.5 287.6V291.4M76.4 288.8V290.2M91.8 288.8V290.2M83.8 287.6H85.2M83.8 291.4H85.2M81.1 283.0H87.7M84.8 278.3V291.1M81.1 282.3V283.7M87.7 282.3V283.7M84.1 278.3H85.5M84.1 291.1H85.5M82.3 293.8H88.3M85.2 286.6V303.4M82.3 293.1V294.5M88.3 293.1V294.5M84.5 286.6H85.9M84.5 303.4H85.9M75.4 313.7H98.4M85.6 310.1V317.2M75.4 313.0V314.4M98.4 313.0V314.4M84.9 310.1H86.3M84.9 317.2H86.3M81.9 298.8H92.4M87.4 289.5V308.2M81.9 298.1V299.5M92.4 298.1V299.5M86.7 289.5H88.1M86.7 308.2H88.1M73.2 277.7H100.4M88.1 274.8V281.1M73.2 277.0V278.4M100.4 277.0V278.4M87.4 274.8H88.8M87.4 281.1H88.8M83.9 312.5H93.3M88.8 308.3V315.9M83.9 311.8V313.2M93.3 311.8V313.2M88.1 308.3H89.5M88.1 315.9H89.5M80.6 280.1H100.9M89.5 272.7V289.0M80.6 279.4V280.8M100.9 279.4V280.8M88.8 272.7H90.2M88.8 289.0H90.2M87.2 283.0H94.1M90.2 275.8V290.9M87.2 282.3V283.7M94.1 282.3V283.7M89.5 275.8H90.9M89.5 290.9H90.9M81.3 298.1H100.7M91.0 287.6V310.0M81.3 297.4V298.8M100.7 297.4V298.8M90.3 287.6H91.7M90.3 310.0H91.7M83.0 293.1H98.5M91.7 290.4V295.3M83.0 292.4V293.8M98.5 292.4V293.8M91.0 290.4H92.4M91.0 295.3H92.4M88.1 306.0H95.4M91.7 298.7V314.2M88.1 305.3V306.7M95.4 305.3V306.7M91.0 298.7H92.4M91.0 314.2H92.4M85.1 283.0H96.7M91.0 276.8V286.7M85.1 282.3V283.7M96.7 282.3V283.7M90.3 276.8H91.7M90.3 286.7H91.7M84.4 311.1H94.1M90.2 308.9V313.3M84.4 310.4V311.8M94.1 310.4V311.8M89.5 308.9H90.9M89.5 313.3H90.9M80.9 310.4H102.8M92.8 297.8V319.8M80.9 309.7V311.1M102.8 309.7V311.1M92.1 297.8H93.5M92.1 319.8H93.5M88.0 316.1H97.6M93.8 304.7V327.5M88.0 315.4V316.8M97.6 315.4V316.8M93.1 304.7H94.5M93.1 327.5H94.5M85.7 277.7H101.1M94.6 273.6V280.4M85.7 277.0V278.4M101.1 277.0V278.4M93.9 273.6H95.3M93.9 280.4H95.3M87.5 300.3H108.4M95.3 294.9V304.6M87.5 299.6V301.0M108.4 299.6V301.0M94.6 294.9H96.0M94.6 304.6H96.0M87.1 299.6H103.8M96.7 291.3V304.9M87.1 298.9V300.3M103.8 298.9V300.3M96.0 291.3H97.4M96.0 304.9H97.4M85.8 280.8H105.2M96.0 277.4V283.9M85.8 280.1V281.5M105.2 280.1V281.5M95.3 277.4H96.7M95.3 283.9H96.7M94.9 279.4H103.0M98.9 271.8V289.8M94.9 278.7V280.1M103.0 278.7V280.1M98.2 271.8H99.6M98.2 289.8H99.6M94.9 287.3H100.0M97.7 281.7V292.1M94.9 286.6V288.0M100.0 286.6V288.0M97.0 281.7H98.4M97.0 292.1H98.4M92.8 291.6H100.8M97.7 289.4V294.6M92.8 290.9V292.3M100.8 290.9V292.3M97.0 289.4H98.4M97.0 294.6H98.4M82.9 296.0H110.9M98.9 292.1V298.9M82.9 295.3V296.7M110.9 295.3V296.7M98.2 292.1H99.6M98.2 298.9H99.6M94.1 299.3H102.6M97.7 290.7V304.7M94.1 298.6V300.0M102.6 298.6V300.0M97.0 290.7H98.4M97.0 304.7H98.4M94.2 311.8H103.1M99.6 304.7V318.2M94.2 311.1V312.5M103.1 311.1V312.5M98.9 304.7H100.3M98.9 318.2H100.3M95.6 291.6H105.7M101.0 284.4V298.8M95.6 290.9V292.3M105.7 290.9V292.3M100.3 284.4H101.7M100.3 298.8H101.7M44.9 327.7H57.7M44.9 305.0V359.2M44.9 327.0V328.4M57.7 327.0V328.4M44.2 305.0H45.6M44.2 359.2H45.6M52.7 324.1H67.5M59.6 322.0V326.0M52.7 323.4V324.8M67.5 323.4V324.8M58.9 322.0H60.3M58.9 326.0H60.3M64.8 316.2H73.7M68.5 310.1V322.4M64.8 315.5V316.9M73.7 315.5V316.9M67.8 310.1H69.2M67.8 322.4H69.2M65.2 314.3H77.6M72.4 304.9V320.9M65.2 313.6V315.0M77.6 313.6V315.0M71.7 304.9H73.1M71.7 320.9H73.1M71.5 327.7H96.1M84.3 321.8V333.6M71.5 327.0V328.4M96.1 327.0V328.4M83.6 321.8H85.0M83.6 333.6H85.0M73.4 347.0H88.2M83.3 342.0V352.0M73.4 346.3V347.7M88.2 346.3V347.7M82.6 342.0H84.0M82.6 352.0H84.0M78.5 313.9H94.4M85.3 304.0V328.2M78.5 313.2V314.6M94.4 313.2V314.6M84.6 304.0H86.0M84.6 328.2H86.0M78.7 310.9H95.3M88.6 304.4V318.2M78.7 310.2V311.6M95.3 310.2V311.6M87.9 304.4H89.3M87.9 318.2H89.3M83.0 312.5H97.1M90.6 308.1V315.2M83.0 311.8V313.2M97.1 311.8V313.2M89.9 308.1H91.3M89.9 315.2H91.3M89.9 310.5H95.5M92.7 306.1V314.1M89.9 309.8V311.2M95.5 309.8V311.2M92.0 306.1H93.4M92.0 314.1H93.4M81.2 316.2H105.4M93.7 309.7V323.3M81.2 315.5V316.9M105.4 315.5V316.9M93.0 309.7H94.4M93.0 323.3H94.4M93.7 312.3H103.1M99.6 301.7V322.6M93.7 311.6V313.0M103.1 311.6V313.0M98.9 301.7H100.3M98.9 322.6H100.3M80.0 280.8H95.2M89.4 275.7V284.8M80.0 280.1V281.5M95.2 280.1V281.5M88.7 275.7H90.1M88.7 284.8H90.1M85.1 283.1H98.7M91.2 271.1V290.9M85.1 282.4V283.8M98.7 282.4V283.8M90.5 271.1H91.9M90.5 290.9H91.9M90.6 281.1H101.2M96.8 267.0V292.7M90.6 280.4V281.8M101.2 280.4V281.8M96.1 267.0H97.5M96.1 292.7H97.5M75.4 289.3H93.7M84.5 279.6V296.2M75.4 288.6V290.0M93.7 288.6V290.0M83.8 279.6H85.2M83.8 296.2H85.2M76.5 293.1H89.2M82.1 291.1V294.9M76.5 292.4V293.8M89.2 292.4V293.8M81.4 291.1H82.8M81.4 294.9H82.8M77.7 295.1H101.8M87.4 281.1V308.5M77.7 294.4V295.8M101.8 294.4V295.8M86.7 281.1H88.1M86.7 308.5H88.1M86.6 293.3H93.8M91.4 282.5V302.3M86.6 292.6V294.0M93.8 292.6V294.0M90.7 282.5H92.1M90.7 302.3H92.1M88.0 297.1H98.3M92.1 295.0V301.6M88.0 296.4V297.8M98.3 296.4V297.8M91.4 295.0H92.8M91.4 301.6H92.8M90.1 291.7H107.3M97.4 280.6V306.3M90.1 291.0V292.4M107.3 291.0V292.4M96.7 280.6H98.1M96.7 306.3H98.1M91.9 291.5H106.6M100.1 288.6V296.9M91.9 290.8V292.2M106.6 290.8V292.2M99.4 288.6H100.8M99.4 296.9H100.8M104.2 269.6H115.8M110.4 262.6V276.3M104.2 268.9V270.3M115.8 268.9V270.3M109.7 262.6H111.1M109.7 276.3H111.1M123.3 281.1H134.2M127.7 264.9V294.3M123.3 280.4V281.8M134.2 280.4V281.8M127.0 264.9H128.4M127.0 294.3H128.4M96.5 281.6H105.0M101.0 271.2V291.1M96.5 280.9V282.3M105.0 280.9V282.3M100.3 271.2H101.7M100.3 291.1H101.7M100.1 280.1H116.8M106.4 271.0V291.5M100.1 279.4V280.8M116.8 279.4V280.8M105.7 271.0H107.1M105.7 291.5H107.1M95.4 287.3H111.6M101.3 284.3V288.7M95.4 286.6V288.0M111.6 286.6V288.0M100.6 284.3H102.0M100.6 288.7H102.0M100.4 286.3H113.4M107.5 279.1V292.5M100.4 285.6V287.0M113.4 285.6V287.0M106.8 279.1H108.2M106.8 292.5H108.2M102.5 285.9H120.6M110.4 278.5V290.6M102.5 285.2V286.6M120.6 285.2V286.6M109.7 278.5H111.1M109.7 290.6H111.1M105.8 284.4H124.9M114.7 278.5V287.9M105.8 283.7V285.1M124.9 283.7V285.1M114.0 278.5H115.4M114.0 287.9H115.4M104.4 291.6H112.8M109.7 285.8V297.8M104.4 290.9V292.3M112.8 290.9V292.3M109.0 285.8H110.4M109.0 297.8H110.4M103.0 290.9H123.5M113.3 282.5V298.5M103.0 290.2V291.6M123.5 290.2V291.6M112.6 282.5H114.0M112.6 298.5H114.0M103.4 293.1H125.4M116.2 285.0V297.8M103.4 292.4V293.8M125.4 292.4V293.8M115.5 285.0H116.9M115.5 297.8H116.9M109.8 292.1H138.9M122.2 283.9V302.8M109.8 291.4V292.8M138.9 291.4V292.8M121.5 283.9H122.9M121.5 302.8H122.9M87.3 296.7H117.6M101.8 294.7V299.6M87.3 296.0V297.4M117.6 296.0V297.4M101.1 294.7H102.5M101.1 299.6H102.5M101.6 299.6H105.7M103.2 296.2V303.8M101.6 298.9V300.3M105.7 298.9V300.3M102.5 296.2H103.9M102.5 303.8H103.9M99.5 296.7H115.7M106.1 290.0V306.8M99.5 296.0V297.4M115.7 296.0V297.4M105.4 290.0H106.8M105.4 306.8H106.8M93.4 296.0H120.9M110.4 289.1V305.7M93.4 295.3V296.7M120.9 295.3V296.7M109.7 289.1H111.1M109.7 305.7H111.1M107.8 296.7H125.6M116.9 294.0V299.9M107.8 296.0V297.4M125.6 296.0V297.4M116.2 294.0H117.6M116.2 299.9H117.6M113.6 299.3H130.1M121.9 290.8V307.5M113.6 298.6V300.0M130.1 298.6V300.0M121.2 290.8H122.6M121.2 307.5H122.6M104.1 303.2H108.8M106.1 297.9V307.8M104.1 302.5V303.9M108.8 302.5V303.9M105.4 297.9H106.8M105.4 307.8H106.8M102.1 303.9H116.9M109.7 297.9V314.8M102.1 303.2V304.6M116.9 303.2V304.6M109.0 297.9H110.4M109.0 314.8H110.4M111.7 301.7H118.4M114.7 291.3V310.5M111.7 301.0V302.4M118.4 301.0V302.4M114.0 291.3H115.4M114.0 310.5H115.4M114.6 303.6H125.6M119.1 301.3V306.9M114.6 302.9V304.3M125.6 302.9V304.3M118.4 301.3H119.8M118.4 306.9H119.8M94.9 306.0H108.8M101.8 299.8V317.0M94.9 305.3V306.7M108.8 305.3V306.7M101.1 299.8H102.5M101.1 317.0H102.5M98.3 309.6H112.5M107.5 305.1V318.5M98.3 308.9V310.3M112.5 308.9V310.3M106.8 305.1H108.2M106.8 318.5H108.2M105.5 307.1H123.8M113.3 305.5V308.8M105.5 306.4V307.8M123.8 306.4V307.8M112.6 305.5H114.0M112.6 308.8H114.0M112.7 306.0H122.6M118.8 303.0V310.3M112.7 305.3V306.7M122.6 305.3V306.7M118.1 303.0H119.5M118.1 310.3H119.5M124.0 303.6H135.0M128.8 300.4V308.6M124.0 302.9V304.3M135.0 302.9V304.3M128.1 300.4H129.5M128.1 308.6H129.5M102.5 319.0H112.0M106.8 314.7V322.7M102.5 318.3V319.7M112.0 318.3V319.7M106.1 314.7H107.5M106.1 322.7H107.5M111.6 319.4H117.3M114.7 317.2V322.7M111.6 318.7V320.1M117.3 318.7V320.1M114.0 317.2H115.4M114.0 322.7H115.4M126.0 269.4H134.5M131.3 265.8V273.9M126.0 268.7V270.1M134.5 268.7V270.1M130.6 265.8H132.0M130.6 273.9H132.0M115.6 282.3H142.0M131.6 267.9V298.0M115.6 281.6V283.0M142.0 281.6V283.0M130.9 267.9H132.3M130.9 298.0H132.3M124.2 285.2H143.5M132.3 272.3V294.9M124.2 284.5V285.9M143.5 284.5V285.9M131.6 272.3H133.0M131.6 294.9H133.0M135.4 291.0H147.5M140.9 288.8V293.2M135.4 290.3V291.7M147.5 290.3V291.7M140.2 288.8H141.6M140.2 293.2H141.6M118.9 296.0H144.0M131.6 294.4V298.0M118.9 295.3V296.7M144.0 295.3V296.7M130.9 294.4H132.3M130.9 298.0H132.3M120.6 300.3H144.6M131.9 291.9V313.3M120.6 299.6V301.0M144.6 299.6V301.0M131.2 291.9H132.6M131.2 313.3H132.6M136.8 300.3H144.2M140.9 294.9V305.7M136.8 299.6V301.0M144.2 299.6V301.0M140.2 294.9H141.6M140.2 305.7H141.6M145.9 302.2H150.1M148.8 300.0V304.2M145.9 301.5V302.9M150.1 301.5V302.9M148.1 300.0H149.5M148.1 304.2H149.5M130.1 305.6H138.4M135.6 303.6V309.2M130.1 304.9V306.3M138.4 304.9V306.3M134.9 303.6H136.3M134.9 309.2H136.3M119.5 298.2H123.9M122.2 296.1V300.9M119.5 297.5V298.9M123.9 297.5V298.9M121.5 296.1H122.9M121.5 300.9H122.9M105.6 301.3H132.8M119.4 294.5V313.5M105.6 300.6V302.0M132.8 300.6V302.0M118.7 294.5H120.1M118.7 313.5H120.1M109.9 301.0H120.8M115.8 289.3V308.5M109.9 300.3V301.7M120.8 300.3V301.7M115.1 289.3H116.5M115.1 308.5H116.5M108.7 306.5H118.8M113.6 300.7V311.2M108.7 305.8V307.2M118.8 305.8V307.2M112.9 300.7H114.3M112.9 311.2H114.3M112.1 305.4H126.8M118.6 301.3V311.5M112.1 304.7V306.1M126.8 304.7V306.1M117.9 301.3H119.3M117.9 311.5H119.3M159.8 311.9H166.7M164.1 308.9V315.9M159.8 311.2V312.6M166.7 311.2V312.6M163.4 308.9H164.8M163.4 315.9H164.8M101.2 318.8H112.4M106.3 303.3V327.3M101.2 318.1V319.5M112.4 318.1V319.5M105.6 303.3H107.0M105.6 327.3H107.0M112.2 319.4H119.1M114.8 315.1V321.8M112.2 318.7V320.1M119.1 318.7V320.1M114.1 315.1H115.5M114.1 321.8H115.5M103.9 331.2H121.6M112.5 326.9V336.1M103.9 330.5V331.9M121.6 330.5V331.9M111.8 326.9H113.2M111.8 336.1H113.2M136.5 331.2H156.8M146.4 329.0V333.0M136.5 330.5V331.9M156.8 330.5V331.9M145.7 329.0H147.1M145.7 333.0H147.1M73.4 340.5H145.4M109.5 336.0V345.0M73.4 339.8V341.2M145.4 339.8V341.2M108.8 336.0H110.2M108.8 345.0H110.2M97.5 344.8H108.5M101.6 342.2V347.7M97.5 344.1V345.5M108.5 344.1V345.5M100.9 342.2H102.3M100.9 347.7H102.3M125.1 339.1H137.6M131.6 336.5V342.6M125.1 338.4V339.8M137.6 338.4V339.8M130.9 336.5H132.3M130.9 342.6H132.3M129.9 339.5H136.7M134.1 334.4V346.7M129.9 338.8V340.2M136.7 338.8V340.2M133.4 334.4H134.8M133.4 346.7H134.8M111.9 340.1H157.3M135.9 336.0V344.8M111.9 339.4V340.8M157.3 339.4V340.8M135.2 336.0H136.6M135.2 344.8H136.6M94.1 309.9H119.8M107.9 298.0V316.2M94.1 309.2V310.6M119.8 309.2V310.6M107.2 298.0H108.6M107.2 316.2H108.6M109.5 307.0H117.6M113.4 303.3V312.9M109.5 306.3V307.7M117.6 306.3V307.7M112.7 303.3H114.1M112.7 312.9H114.1M133.1 306.0H139.8M135.9 300.2V311.0M133.1 305.3V306.7M139.8 305.3V306.7M135.2 300.2H136.6M135.2 311.0H136.6M97.0 281.3H103.7M100.8 274.9V286.7M97.0 280.6V282.0M103.7 280.6V282.0M100.1 274.9H101.5M100.1 286.7H101.5M98.7 285.7H114.3M107.5 276.6V291.2M98.7 285.0V286.4M114.3 285.0V286.4M106.8 276.6H108.2M106.8 291.2H108.2M99.2 296.4H106.0M101.9 289.6V300.6M99.2 295.7V297.1M106.0 295.7V297.1M101.2 289.6H102.6M101.2 300.6H102.6M102.6 296.4H110.0M106.1 292.0V302.9M102.6 295.7V297.1M110.0 295.7V297.1M105.4 292.0H106.8M105.4 302.9H106.8" stroke="#bdbdbd" stroke-width="0.5" fill="none"/>
<g fill="#3b7cc8"><circle cx="64.0" cy="295.5" r="1.9"/><circle cx="68.6" cy="316.1" r="1.9"/><circle cx="73.0" cy="314.0" r="1.9"/><circle cx="74.0" cy="313.3" r="1.9"/><circle cx="77.6" cy="291.4" r="1.9"/><circle cx="80.9" cy="299.6" r="1.9"/><circle cx="82.3" cy="301.7" r="1.9"/><circle cx="82.3" cy="305.3" r="1.9"/><circle cx="81.6" cy="292.4" r="1.9"/><circle cx="83.0" cy="293.1" r="1.9"/><circle cx="83.8" cy="295.2" r="1.9"/><circle cx="84.5" cy="289.5" r="1.9"/><circle cx="84.8" cy="283.0" r="1.9"/><circle cx="85.2" cy="293.8" r="1.9"/><circle cx="85.6" cy="313.7" r="1.9"/><circle cx="87.4" cy="298.8" r="1.9"/><circle cx="88.1" cy="277.7" r="1.9"/><circle cx="88.8" cy="312.5" r="1.9"/><circle cx="89.5" cy="280.1" r="1.9"/><circle cx="90.2" cy="283.0" r="1.9"/><circle cx="91.0" cy="298.1" r="1.9"/><circle cx="91.7" cy="293.1" r="1.9"/><circle cx="91.7" cy="306.0" r="1.9"/><circle cx="91.0" cy="283.0" r="1.9"/><circle cx="90.2" cy="311.1" r="1.9"/><circle cx="92.8" cy="310.4" r="1.9"/><circle cx="93.8" cy="316.1" r="1.9"/><circle cx="94.6" cy="277.7" r="1.9"/><circle cx="95.3" cy="300.3" r="1.9"/><circle cx="96.7" cy="299.6" r="1.9"/><circle cx="96.0" cy="280.8" r="1.9"/><circle cx="98.9" cy="279.4" r="1.9"/><circle cx="97.7" cy="287.3" r="1.9"/><circle cx="97.7" cy="291.6" r="1.9"/><circle cx="98.9" cy="296.0" r="1.9"/><circle cx="97.7" cy="299.3" r="1.9"/><circle cx="99.6" cy="311.8" r="1.9"/><circle cx="101.0" cy="291.6" r="1.9"/><circle cx="44.9" cy="327.7" r="1.9"/><circle cx="59.6" cy="324.1" r="1.9"/><circle cx="68.5" cy="316.2" r="1.9"/><circle cx="72.4" cy="314.3" r="1.9"/><circle cx="84.3" cy="327.7" r="1.9"/><circle cx="83.3" cy="347.0" r="1.9"/><circle cx="85.3" cy="313.9" r="1.9"/><circle cx="88.6" cy="310.9" r="1.9"/><circle cx="90.6" cy="312.5" r="1.9"/><circle cx="92.7" cy="310.5" r="1.9"/><circle cx="93.7" cy="316.2" r="1.9"/><circle cx="99.6" cy="312.3" r="1.9"/><circle cx="89.4" cy="280.8" r="1.9"/><circle cx="91.2" cy="283.1" r="1.9"/><circle cx="96.8" cy="281.1" r="1.9"/><circle cx="84.5" cy="289.3" r="1.9"/><circle cx="82.1" cy="293.1" r="1.9"/><circle cx="87.4" cy="295.1" r="1.9"/><circle cx="91.4" cy="293.3" r="1.9"/><circle cx="92.1" cy="297.1" r="1.9"/><circle cx="97.4" cy="291.7" r="1.9"/><circle cx="100.1" cy="291.5" r="1.9"/></g>
<g fill="#c0273a"><circle cx="110.4" cy="269.6" r="1.9"/><circle cx="127.7" cy="281.1" r="1.9"/><circle cx="101.0" cy="281.6" r="1.9"/><circle cx="106.4" cy="280.1" r="1.9"/><circle cx="101.3" cy="287.3" r="1.9"/><circle cx="107.5" cy="286.3" r="1.9"/><circle cx="110.4" cy="285.9" r="1.9"/><circle cx="114.7" cy="284.4" r="1.9"/><circle cx="109.7" cy="291.6" r="1.9"/><circle cx="113.3" cy="290.9" r="1.9"/><circle cx="116.2" cy="293.1" r="1.9"/><circle cx="122.2" cy="292.1" r="1.9"/><circle cx="101.8" cy="296.7" r="1.9"/><circle cx="103.2" cy="299.6" r="1.9"/><circle cx="106.1" cy="296.7" r="1.9"/><circle cx="110.4" cy="296.0" r="1.9"/><circle cx="116.9" cy="296.7" r="1.9"/><circle cx="121.9" cy="299.3" r="1.9"/><circle cx="106.1" cy="303.2" r="1.9"/><circle cx="109.7" cy="303.9" r="1.9"/><circle cx="114.7" cy="301.7" r="1.9"/><circle cx="119.1" cy="303.6" r="1.9"/><circle cx="101.8" cy="306.0" r="1.9"/><circle cx="107.5" cy="309.6" r="1.9"/><circle cx="113.3" cy="307.1" r="1.9"/><circle cx="118.8" cy="306.0" r="1.9"/><circle cx="128.8" cy="303.6" r="1.9"/><circle cx="106.8" cy="319.0" r="1.9"/><circle cx="114.7" cy="319.4" r="1.9"/><circle cx="131.3" cy="269.4" r="1.9"/><circle cx="131.6" cy="282.3" r="1.9"/><circle cx="132.3" cy="285.2" r="1.9"/><circle cx="140.9" cy="291.0" r="1.9"/><circle cx="131.6" cy="296.0" r="1.9"/><circle cx="131.9" cy="300.3" r="1.9"/><circle cx="140.9" cy="300.3" r="1.9"/><circle cx="148.8" cy="302.2" r="1.9"/><circle cx="135.6" cy="305.6" r="1.9"/><circle cx="122.2" cy="298.2" r="1.9"/><circle cx="119.4" cy="301.3" r="1.9"/><circle cx="115.8" cy="301.0" r="1.9"/><circle cx="113.6" cy="306.5" r="1.9"/><circle cx="118.6" cy="305.4" r="1.9"/><circle cx="164.1" cy="311.9" r="1.9"/><circle cx="106.3" cy="318.8" r="1.9"/><circle cx="114.8" cy="319.4" r="1.9"/><circle cx="112.5" cy="331.2" r="1.9"/><circle cx="146.4" cy="331.2" r="1.9"/><circle cx="109.5" cy="340.5" r="1.9"/><circle cx="101.6" cy="344.8" r="1.9"/><circle cx="131.6" cy="339.1" r="1.9"/><circle cx="134.1" cy="339.5" r="1.9"/><circle cx="135.9" cy="340.1" r="1.9"/><circle cx="107.9" cy="309.9" r="1.9"/><circle cx="113.4" cy="307.0" r="1.9"/><circle cx="135.9" cy="306.0" r="1.9"/><circle cx="100.8" cy="281.3" r="1.9"/><circle cx="107.5" cy="285.7" r="1.9"/><circle cx="101.9" cy="296.4" r="1.9"/><circle cx="106.1" cy="296.4" r="1.9"/></g>
<rect x="176.2" y="261.3" width="28.6" height="17.2" fill="#fff" stroke="#c0c0c0" stroke-width="0.5"/>
<circle cx="182.5" cy="265.2" r="1.7" fill="#3b7cc8"/>
<circle cx="182.5" cy="270.4" r="1.7" fill="#c0273a"/>
<line x1="179.8" y1="275.7" x2="185.2" y2="275.7" stroke="#bbb" stroke-width="0.4"/>
<line x1="182.5" y1="273.6" x2="182.5" y2="277.8" stroke="#bbb" stroke-width="0.4"/>
<text x="188.3" y="267.0" font-size="5.0" fill="#333" stroke="#333" stroke-width="0.12" textLength="13.8" lengthAdjust="spacingAndGlyphs">Group 1</text>
<text x="188.3" y="272.2" font-size="5.0" fill="#333" stroke="#333" stroke-width="0.12" textLength="13.8" lengthAdjust="spacingAndGlyphs">Group 2</text>
<text x="188.3" y="277.5" font-size="5.0" fill="#333" stroke="#333" stroke-width="0.12" textLength="14.6" lengthAdjust="spacingAndGlyphs">samples</text>
<rect x="211.6" y="249.1" width="131.8" height="120.8" fill="none" stroke="#b0b0b0" stroke-width="0.8"/>
<line x1="211.6" y1="369.9" x2="211.6" y2="368.4" stroke="#b0b0b0" stroke-width="0.5"/>
<line x1="211.6" y1="249.1" x2="211.6" y2="250.6" stroke="#b0b0b0" stroke-width="0.5"/>
<text x="211.6" y="375.3" font-size="3.9" fill="#666" stroke="#666" stroke-width="0.12" text-anchor="middle">-3</text>
<line x1="230.4" y1="369.9" x2="230.4" y2="368.4" stroke="#b0b0b0" stroke-width="0.5"/>
<line x1="230.4" y1="249.1" x2="230.4" y2="250.6" stroke="#b0b0b0" stroke-width="0.5"/>
<text x="230.4" y="375.3" font-size="3.9" fill="#666" stroke="#666" stroke-width="0.12" text-anchor="middle">-2</text>
<line x1="249.3" y1="369.9" x2="249.3" y2="368.4" stroke="#b0b0b0" stroke-width="0.5"/>
<line x1="249.3" y1="249.1" x2="249.3" y2="250.6" stroke="#b0b0b0" stroke-width="0.5"/>
<text x="249.3" y="375.3" font-size="3.9" fill="#666" stroke="#666" stroke-width="0.12" text-anchor="middle">-1</text>
<line x1="268.1" y1="369.9" x2="268.1" y2="368.4" stroke="#b0b0b0" stroke-width="0.5"/>
<line x1="268.1" y1="249.1" x2="268.1" y2="250.6" stroke="#b0b0b0" stroke-width="0.5"/>
<text x="268.1" y="375.3" font-size="3.9" fill="#666" stroke="#666" stroke-width="0.12" text-anchor="middle">0</text>
<line x1="286.9" y1="369.9" x2="286.9" y2="368.4" stroke="#b0b0b0" stroke-width="0.5"/>
<line x1="286.9" y1="249.1" x2="286.9" y2="250.6" stroke="#b0b0b0" stroke-width="0.5"/>
<text x="286.9" y="375.3" font-size="3.9" fill="#666" stroke="#666" stroke-width="0.12" text-anchor="middle">1</text>
<line x1="305.7" y1="369.9" x2="305.7" y2="368.4" stroke="#b0b0b0" stroke-width="0.5"/>
<line x1="305.7" y1="249.1" x2="305.7" y2="250.6" stroke="#b0b0b0" stroke-width="0.5"/>
<text x="305.7" y="375.3" font-size="3.9" fill="#666" stroke="#666" stroke-width="0.12" text-anchor="middle">2</text>
<line x1="324.6" y1="369.9" x2="324.6" y2="368.4" stroke="#b0b0b0" stroke-width="0.5"/>
<line x1="324.6" y1="249.1" x2="324.6" y2="250.6" stroke="#b0b0b0" stroke-width="0.5"/>
<text x="324.6" y="375.3" font-size="3.9" fill="#666" stroke="#666" stroke-width="0.12" text-anchor="middle">3</text>
<line x1="343.4" y1="369.9" x2="343.4" y2="368.4" stroke="#b0b0b0" stroke-width="0.5"/>
<line x1="343.4" y1="249.1" x2="343.4" y2="250.6" stroke="#b0b0b0" stroke-width="0.5"/>
<text x="343.4" y="375.3" font-size="3.9" fill="#666" stroke="#666" stroke-width="0.12" text-anchor="middle">4</text>
<line x1="211.6" y1="369.9" x2="213.1" y2="369.9" stroke="#b0b0b0" stroke-width="0.5"/>
<line x1="343.4" y1="369.9" x2="341.9" y2="369.9" stroke="#b0b0b0" stroke-width="0.5"/>
<text x="209.6" y="371.3" font-size="3.9" fill="#666" stroke="#666" stroke-width="0.12" text-anchor="end">-3</text>
<line x1="211.6" y1="349.8" x2="213.1" y2="349.8" stroke="#b0b0b0" stroke-width="0.5"/>
<line x1="343.4" y1="349.8" x2="341.9" y2="349.8" stroke="#b0b0b0" stroke-width="0.5"/>
<text x="209.6" y="351.2" font-size="3.9" fill="#666" stroke="#666" stroke-width="0.12" text-anchor="end">-2</text>
<line x1="211.6" y1="329.6" x2="213.1" y2="329.6" stroke="#b0b0b0" stroke-width="0.5"/>
<line x1="343.4" y1="329.6" x2="341.9" y2="329.6" stroke="#b0b0b0" stroke-width="0.5"/>
<text x="209.6" y="331.0" font-size="3.9" fill="#666" stroke="#666" stroke-width="0.12" text-anchor="end">-1</text>
<line x1="211.6" y1="309.5" x2="213.1" y2="309.5" stroke="#b0b0b0" stroke-width="0.5"/>
<line x1="343.4" y1="309.5" x2="341.9" y2="309.5" stroke="#b0b0b0" stroke-width="0.5"/>
<text x="209.6" y="310.9" font-size="3.9" fill="#666" stroke="#666" stroke-width="0.12" text-anchor="end">0</text>
<line x1="211.6" y1="289.4" x2="213.1" y2="289.4" stroke="#b0b0b0" stroke-width="0.5"/>
<line x1="343.4" y1="289.4" x2="341.9" y2="289.4" stroke="#b0b0b0" stroke-width="0.5"/>
<text x="209.6" y="290.8" font-size="3.9" fill="#666" stroke="#666" stroke-width="0.12" text-anchor="end">1</text>
<line x1="211.6" y1="269.2" x2="213.1" y2="269.2" stroke="#b0b0b0" stroke-width="0.5"/>
<line x1="343.4" y1="269.2" x2="341.9" y2="269.2" stroke="#b0b0b0" stroke-width="0.5"/>
<text x="209.6" y="270.6" font-size="3.9" fill="#666" stroke="#666" stroke-width="0.12" text-anchor="end">2</text>
<line x1="211.6" y1="249.1" x2="213.1" y2="249.1" stroke="#b0b0b0" stroke-width="0.5"/>
<line x1="343.4" y1="249.1" x2="341.9" y2="249.1" stroke="#b0b0b0" stroke-width="0.5"/>
<text x="209.6" y="250.5" font-size="3.9" fill="#666" stroke="#666" stroke-width="0.12" text-anchor="end">3</text>
<text x="205.6" y="309.2" font-size="4.8" fill="#555" stroke="#555" stroke-width="0.12" text-anchor="middle" textLength="43.0" lengthAdjust="spacingAndGlyphs" transform="rotate(-90 205.6 309.2)">Metabolomics data CCA2</text>
<text x="276.6" y="380.8" font-size="4.8" fill="#555" stroke="#555" stroke-width="0.12" text-anchor="middle" textLength="43.0" lengthAdjust="spacingAndGlyphs">Metabolomics data CCA1</text>
<path d="M246.0 283.8H262.8M253.8 278.9V289.9M246.0 283.1V284.5M262.8 283.1V284.5M253.1 278.9H254.5M253.1 289.9H254.5M248.1 289.5H263.7M257.4 275.3V304.2M248.1 288.8V290.2M263.7 288.8V290.2M256.7 275.3H258.1M256.7 304.2H258.1M248.7 291.7H258.3M252.4 285.4V300.4M248.7 291.0V292.4M258.3 291.0V292.4M251.7 285.4H253.1M251.7 300.4H253.1M249.9 294.6H258.3M253.1 290.3V300.5M249.9 293.9V295.3M258.3 293.9V295.3M252.4 290.3H253.8M252.4 300.5H253.8M247.4 294.3H261.0M255.2 288.6V298.8M247.4 293.6V295.0M261.0 293.6V295.0M254.5 288.6H255.9M254.5 298.8H255.9M231.6 291.4H277.4M258.8 286.9V298.5M231.6 290.7V292.1M277.4 290.7V292.1M258.1 286.9H259.5M258.1 298.5H259.5M258.1 289.5H265.8M262.7 283.7V294.6M258.1 288.8V290.2M265.8 288.8V290.2M262.0 283.7H263.4M262.0 294.6H263.4M258.9 290.0H270.7M264.6 283.2V297.3M258.9 289.3V290.7M270.7 289.3V290.7M263.9 283.2H265.3M263.9 297.3H265.3M254.5 292.4H264.7M260.3 287.7V299.8M254.5 291.7V293.1M264.7 291.7V293.1M259.6 287.7H261.0M259.6 299.8H261.0M226.0 302.1H250.0M237.7 296.0V309.0M226.0 301.4V302.8M250.0 301.4V302.8M237.0 296.0H238.4M237.0 309.0H238.4M228.1 300.0H255.0M242.0 290.5V310.3M228.1 299.3V300.7M255.0 299.3V300.7M241.3 290.5H242.7M241.3 310.3H242.7M241.5 300.3H252.7M246.6 283.1V318.6M241.5 299.6V301.0M252.7 299.6V301.0M245.9 283.1H247.3M245.9 318.6H247.3M243.5 300.0H257.3M250.9 297.1V301.7M243.5 299.3V300.7M257.3 299.3V300.7M250.2 297.1H251.6M250.2 301.7H251.6M237.3 305.4H245.9M241.1 301.3V307.9M237.3 304.7V306.1M245.9 304.7V306.1M240.4 301.3H241.8M240.4 307.9H241.8M246.8 304.6H263.2M252.4 300.3V311.6M246.8 303.9V305.3M263.2 303.9V305.3M251.7 300.3H253.1M251.7 311.6H253.1M244.7 301.8H275.8M259.6 299.7V303.7M244.7 301.1V302.5M275.8 301.1V302.5M258.9 299.7H260.3M258.9 303.7H260.3M255.4 306.8H264.7M261.0 304.0V312.4M255.4 306.1V307.5M264.7 306.1V307.5M260.3 304.0H261.7M260.3 312.4H261.7M266.3 302.5H274.0M269.6 300.2V306.4M266.3 301.8V303.2M274.0 301.8V303.2M268.9 300.2H270.3M268.9 306.4H270.3M274.7 303.5H279.5M277.6 298.2V309.2M274.7 302.8V304.2M279.5 302.8V304.2M276.9 298.2H278.3M276.9 309.2H278.3M246.1 310.4H250.8M248.0 307.6V313.4M246.1 309.7V311.1M250.8 309.7V311.1M247.3 307.6H248.7M247.3 313.4H248.7M243.3 311.1H283.1M259.6 308.6V312.9M243.3 310.4V311.8M283.1 310.4V311.8M258.9 308.6H260.3M258.9 312.9H260.3M262.0 310.4H270.0M266.0 302.8V316.6M262.0 309.7V311.1M270.0 309.7V311.1M265.3 302.8H266.7M265.3 316.6H266.7M249.9 314.0H254.6M251.6 301.3V323.5M249.9 313.3V314.7M254.6 313.3V314.7M250.9 301.3H252.3M250.9 323.5H252.3M259.9 312.3H265.7M261.7 298.0V320.8M259.9 311.6V313.0M265.7 311.6V313.0M261.0 298.0H262.4M261.0 320.8H262.4M223.4 319.1H244.3M233.9 308.9V327.3M223.4 318.4V319.8M244.3 318.4V319.8M233.2 308.9H234.6M233.2 327.3H234.6M211.6 324.2H246.0M230.2 318.0V331.0M211.6 323.5V324.9M246.0 323.5V324.9M229.5 318.0H230.9M229.5 331.0H230.9M234.4 327.8H240.6M237.5 315.9V339.1M234.4 327.1V328.5M240.6 327.1V328.5M236.8 315.9H238.2M236.8 339.1H238.2M224.9 322.0H255.6M244.1 319.9V324.5M224.9 321.3V322.7M255.6 321.3V322.7M243.4 319.9H244.8M243.4 324.5H244.8M243.1 318.4H254.2M247.2 311.1V325.4M243.1 317.7V319.1M254.2 317.7V319.1M246.5 311.1H247.9M246.5 325.4H247.9M243.0 325.4H256.2M249.3 320.5V328.9M243.0 324.7V326.1M256.2 324.7V326.1M248.6 320.5H250.0M248.6 328.9H250.0M230.7 310.5H260.3M248.0 306.5V315.0M230.7 309.8V311.2M260.3 309.8V311.2M247.3 306.5H248.7M247.3 315.0H248.7M243.2 313.6H259.5M251.5 307.7V320.8M243.2 312.9V314.3M259.5 312.9V314.3M250.8 307.7H252.2M250.8 320.8H252.2M247.3 320.2H265.2M254.6 312.7V333.6M247.3 319.5V320.9M265.2 319.5V320.9M253.9 312.7H255.3M253.9 333.6H255.3M247.2 316.8H261.4M256.2 308.9V322.2M247.2 316.1V317.5M261.4 316.1V317.5M255.5 308.9H256.9M255.5 322.2H256.9M246.1 312.1H269.6M258.7 292.5V334.7M246.1 311.4V312.8M269.6 311.4V312.8M258.0 292.5H259.4M258.0 334.7H259.4M252.5 312.1H268.7M261.4 304.7V318.1M252.5 311.4V312.8M268.7 311.4V312.8M260.7 304.7H262.1M260.7 318.1H262.1M255.3 313.6H270.0M262.9 309.5V317.5M255.3 312.9V314.3M270.0 312.9V314.3M262.2 309.5H263.6M262.2 317.5H263.6M253.4 316.3H279.6M265.0 307.9V325.5M253.4 315.6V317.0M279.6 315.6V317.0M264.3 307.9H265.7M264.3 325.5H265.7M255.1 310.5H285.1M266.1 301.9V324.1M255.1 309.8V311.2M285.1 309.8V311.2M265.4 301.9H266.8M265.4 324.1H266.8M260.0 326.5H270.2M265.6 322.2V332.0M260.0 325.8V327.2M270.2 325.8V327.2M264.9 322.2H266.3M264.9 332.0H266.3M254.5 330.1H268.6M260.6 326.9V336.2M254.5 329.4V330.8M268.6 329.4V330.8M259.9 326.9H261.3M259.9 336.2H261.3M254.8 333.6H264.6M259.3 327.3V338.1M254.8 332.9V334.3M264.6 332.9V334.3M258.6 327.3H260.0M258.6 338.1H260.0M249.2 334.6H261.6M254.6 330.4V338.6M249.2 333.9V335.3M261.6 333.9V335.3M253.9 330.4H255.3M253.9 338.6H255.3M262.0 343.2H290.0M273.2 338.0V348.0M262.0 342.5V343.9M290.0 342.5V343.9M272.5 338.0H273.9M272.5 348.0H273.9M239.6 349.5H257.1M247.7 336.4V369.9M239.6 348.8V350.2M257.1 348.8V350.2M247.0 336.4H248.4M247.0 369.9H248.4M228.9 305.5H258.7M241.4 299.3V310.4M228.9 304.8V306.2M258.7 304.8V306.2M240.7 299.3H242.1M240.7 310.4H242.1M247.0 305.5H261.7M252.7 301.3V311.8M247.0 304.8V306.2M261.7 304.8V306.2M252.0 301.3H253.4M252.0 311.8H253.4M248.1 306.6H268.3M260.9 302.1V310.0M248.1 305.9V307.3M268.3 305.9V307.3M260.2 302.1H261.6M260.2 310.0H261.6M262.1 303.8H287.8M277.6 298.6V314.7M262.1 303.1V304.5M287.8 303.1V304.5M276.9 298.6H278.3M276.9 314.7H278.3M274.1 274.1H279.3M276.6 264.3V284.8M274.1 273.4V274.8M279.3 273.4V274.8M275.9 264.3H277.3M275.9 284.8H277.3M278.7 277.6H289.4M285.2 262.3V291.4M278.7 276.9V278.3M289.4 276.9V278.3M284.5 262.3H285.9M284.5 291.4H285.9M260.0 280.9H272.0M265.3 251.0V300.0M260.0 280.2V281.6M272.0 280.2V281.6M264.6 251.0H266.0M264.6 300.0H266.0M266.2 287.7H290.7M278.6 282.8V292.5M266.2 287.0V288.4M290.7 287.0V288.4M277.9 282.8H279.3M277.9 292.5H279.3M276.9 290.2H286.4M282.3 282.1V300.7M276.9 289.5V290.9M286.4 289.5V290.9M281.6 282.1H283.0M281.6 300.7H283.0M284.0 288.8H297.9M289.5 280.1V293.0M284.0 288.1V289.5M297.9 288.1V289.5M288.8 280.1H290.2M288.8 293.0H290.2M251.7 291.0H287.1M268.2 282.9V301.7M251.7 290.3V291.7M287.1 290.3V291.7M267.5 282.9H268.9M267.5 301.7H268.9M267.5 292.0H274.7M271.8 287.9V295.2M267.5 291.3V292.7M274.7 291.3V292.7M271.1 287.9H272.5M271.1 295.2H272.5M272.8 294.3H278.7M275.7 291.1V298.2M272.8 293.6V295.0M278.7 293.6V295.0M275.0 291.1H276.4M275.0 298.2H276.4M279.5 294.9H288.3M284.1 282.6V304.7M279.5 294.2V295.6M288.3 294.2V295.6M283.4 282.6H284.8M283.4 304.7H284.8M257.0 298.9H268.8M263.9 293.5V302.0M257.0 298.2V299.6M268.8 298.2V299.6M263.2 293.5H264.6M263.2 302.0H264.6M263.4 296.7H270.0M266.8 284.7V313.5M263.4 296.0V297.4M270.0 296.0V297.4M266.1 284.7H267.5M266.1 313.5H267.5M263.4 299.6H272.1M268.2 291.2V304.8M263.4 298.9V300.3M272.1 298.9V300.3M267.5 291.2H268.9M267.5 304.8H268.9M261.4 303.9H266.8M263.9 296.8V317.5M261.4 303.2V304.6M266.8 303.2V304.6M263.2 296.8H264.6M263.2 317.5H264.6M237.0 303.9H288.5M259.6 296.9V311.7M237.0 303.2V304.6M288.5 303.2V304.6M258.9 296.9H260.3M258.9 311.7H260.3M256.4 305.7H276.9M267.5 300.4V311.0M256.4 305.0V306.4M276.9 305.0V306.4M266.8 300.4H268.2M266.8 311.0H268.2M253.4 309.0H260.2M256.7 301.6V319.4M253.4 308.3V309.7M260.2 308.3V309.7M256.0 301.6H257.4M256.0 319.4H257.4M276.9 303.5H291.2M282.6 296.5V310.9M276.9 302.8V304.2M291.2 302.8V304.2M281.9 296.5H283.3M281.9 310.9H283.3M276.1 303.2H293.3M286.2 296.1V310.0M276.1 302.5V303.9M293.3 302.5V303.9M285.5 296.1H286.9M285.5 310.0H286.9M286.5 301.5H293.1M290.5 289.0V319.7M286.5 300.8V302.2M293.1 300.8V302.2M289.8 289.0H291.2M289.8 319.7H291.2M266.0 308.7H289.9M278.0 304.6V316.3M266.0 308.0V309.4M289.9 308.0V309.4M277.3 304.6H278.7M277.3 316.3H278.7M276.1 310.7H288.1M281.9 308.1V314.3M276.1 310.0V311.4M288.1 310.0V311.4M281.2 308.1H282.6M281.2 314.3H282.6M280.8 311.6H293.6M287.2 307.7V315.9M280.8 310.9V312.3M293.6 310.9V312.3M286.5 307.7H287.9M286.5 315.9H287.9M267.2 313.3H279.0M273.7 302.1V330.8M267.2 312.6V314.0M279.0 312.6V314.0M273.0 302.1H274.4M273.0 330.8H274.4M291.4 290.5H320.4M307.8 286.0V294.5M291.4 289.8V291.2M320.4 289.8V291.2M307.1 286.0H308.5M307.1 294.5H308.5M270.0 293.8H282.7M276.2 272.3V310.4M270.0 293.1V294.5M282.7 293.1V294.5M275.5 272.3H276.9M275.5 310.4H276.9M290.0 296.6H300.1M295.9 285.8V307.7M290.0 295.9V297.3M300.1 295.9V297.3M295.2 285.8H296.6M295.2 307.7H296.6M296.2 297.4H305.6M300.9 293.8V302.6M296.2 296.7V298.1M305.6 296.7V298.1M300.2 293.8H301.6M300.2 302.6H301.6M283.6 301.3H304.7M290.1 298.3V307.2M283.6 300.6V302.0M304.7 300.6V302.0M289.4 298.3H290.8M289.4 307.2H290.8M267.3 303.8H295.0M282.5 298.2V311.6M267.3 303.1V304.5M295.0 303.1V304.5M281.8 298.2H283.2M281.8 311.6H283.2M276.1 303.4H295.6M285.8 301.4V306.5M276.1 302.7V304.1M295.6 302.7V304.1M285.1 301.4H286.5M285.1 306.5H286.5M272.1 308.6H284.4M277.9 299.7V315.6M272.1 307.9V309.3M284.4 307.9V309.3M277.2 299.7H278.6M277.2 315.6H278.6M278.2 310.3H284.1M281.9 308.2V313.0M278.2 309.6V311.0M284.1 309.6V311.0M281.2 308.2H282.6M281.2 313.0H282.6M273.1 311.5H286.7M278.6 303.5V320.9M273.1 310.8V312.2M286.7 310.8V312.2M277.9 303.5H279.3M277.9 320.9H279.3M284.6 311.8H289.9M287.7 302.9V320.1M284.6 311.1V312.5M289.9 311.1V312.5M287.0 302.9H288.4M287.0 320.1H288.4M280.0 313.2H288.5M283.9 298.2V324.4M280.0 312.5V313.9M288.5 312.5V313.9M283.2 298.2H284.6M283.2 324.4H284.6M282.5 315.8H287.7M285.4 304.6V322.9M282.5 315.1V316.5M287.7 315.1V316.5M284.7 304.6H286.1M284.7 322.9H286.1M285.7 315.4H295.0M290.1 312.2V318.0M285.7 314.7V316.1M295.0 314.7V316.1M289.4 312.2H290.8M289.4 318.0H290.8M304.1 316.4H313.5M308.4 311.3V322.0M304.1 315.7V317.1M313.5 315.7V317.1M307.7 311.3H309.1M307.7 322.0H309.1M321.8 316.4H332.4M325.4 308.3V333.8M321.8 315.7V317.1M332.4 315.7V317.1M324.7 308.3H326.1M324.7 333.8H326.1M295.9 319.0H310.4M304.5 313.5V328.3M295.9 318.3V319.7M310.4 318.3V319.7M303.8 313.5H305.2M303.8 328.3H305.2M274.3 319.0H281.4M277.2 316.2V322.7M274.3 318.3V319.7M281.4 318.3V319.7M276.5 316.2H277.9M276.5 322.7H277.9M273.8 321.9H298.1M285.8 314.0V328.5M273.8 321.2V322.6M298.1 321.2V322.6M285.1 314.0H286.5M285.1 328.5H286.5M276.6 323.3H283.7M280.5 312.1V334.4M276.6 322.6V324.0M283.7 322.6V324.0M279.8 312.1H281.2M279.8 334.4H281.2M254.2 321.5H271.6M266.1 315.7V325.4M254.2 320.8V322.2M271.6 320.8V322.2M265.4 315.7H266.8M265.4 325.4H266.8M258.6 325.0H265.4M263.0 314.3V337.0M258.6 324.3V325.7M265.4 324.3V325.7M262.3 314.3H263.7M262.3 337.0H263.7M266.5 323.9H276.4M270.3 317.5V329.5M266.5 323.2V324.6M276.4 323.2V324.6M269.6 317.5H271.0M269.6 329.5H271.0M268.2 325.8H278.8M273.9 322.5V328.1M268.2 325.1V326.5M278.8 325.1V326.5M273.2 322.5H274.6M273.2 328.1H274.6M273.2 319.1H281.1M277.1 307.0V325.1M273.2 318.4V319.8M281.1 318.4V319.8M276.4 307.0H277.8M276.4 325.1H277.8M259.6 323.1H296.4M280.2 320.3V326.0M259.6 322.4V323.8M296.4 322.4V323.8M279.5 320.3H280.9M279.5 326.0H280.9M280.2 322.0H292.1M285.7 314.3V332.0M280.2 321.3V322.7M292.1 321.3V322.7M285.0 314.3H286.4M285.0 332.0H286.4M276.5 327.5H285.2M281.0 321.7V332.4M276.5 326.8V328.2M285.2 326.8V328.2M280.3 321.7H281.7M280.3 332.4H281.7M264.2 332.0H286.9M277.9 321.9V340.7M264.2 331.3V332.7M286.9 331.3V332.7M277.2 321.9H278.6M277.2 340.7H278.6M271.8 336.4H280.8M277.1 329.1V343.4M271.8 335.7V337.1M280.8 335.7V337.1M276.4 329.1H277.8M276.4 343.4H277.8M278.2 335.2H298.6M286.5 326.4V346.3M278.2 334.5V335.9M298.6 334.5V335.9M285.8 326.4H287.2M285.8 346.3H287.2M278.9 335.2H300.8M288.6 328.4V346.8M278.9 334.5V335.9M300.8 334.5V335.9M287.9 328.4H289.3M287.9 346.8H289.3M255.4 341.5H259.7M257.4 334.2V346.6M255.4 340.8V342.2M259.7 340.8V342.2M256.7 334.2H258.1M256.7 346.6H258.1M273.2 349.8H289.9M282.6 346.2V352.9M273.2 349.1V350.5M289.9 349.1V350.5M281.9 346.2H283.3M281.9 352.9H283.3M284.8 350.1H296.1M290.8 333.7V368.4M284.8 349.4V350.8M296.1 349.4V350.8M290.1 333.7H291.5M290.1 368.4H291.5M298.1 319.1H308.1M304.6 302.7V336.8M298.1 318.4V319.8M308.1 318.4V319.8M303.9 302.7H305.3M303.9 336.8H305.3M304.1 316.5H313.7M308.5 307.6V328.8M304.1 315.8V317.2M313.7 315.8V317.2M307.8 307.6H309.2M307.8 328.8H309.2M300.0 328.6H343.0M318.7 326.0V331.0M300.0 327.9V329.3M343.0 327.9V329.3M318.0 326.0H319.4M318.0 331.0H319.4M264.3 314.4H280.2M271.6 311.9V316.6M264.3 313.7V315.1M280.2 313.7V315.1M270.9 311.9H272.3M270.9 316.6H272.3M267.2 312.9H282.3M274.4 284.4V334.7M267.2 312.2V313.6M282.3 312.2V313.6M273.7 284.4H275.1M273.7 334.7H275.1M262.0 308.5H289.2M277.9 305.7V310.1M262.0 307.8V309.2M289.2 307.8V309.2M277.2 305.7H278.6M277.2 310.1H278.6M278.9 310.5H286.9M282.3 301.0V323.7M278.9 309.8V311.2M286.9 309.8V311.2M281.6 301.0H283.0M281.6 323.7H283.0M278.7 313.6H292.7M284.9 306.8V321.3M278.7 312.9V314.3M292.7 312.9V314.3M284.2 306.8H285.6M284.2 321.3H285.6M272.2 311.6H299.9M287.6 307.3V314.7M272.2 310.9V312.3M299.9 310.9V312.3M286.9 307.3H288.3M286.9 314.7H288.3M288.0 315.7H293.4M290.4 306.1V324.0M288.0 315.0V316.4M293.4 315.0V316.4M289.7 306.1H291.1M289.7 324.0H291.1M263.4 305.8H273.6M267.7 303.5V307.6M263.4 305.1V306.5M273.6 305.1V306.5M267.0 303.5H268.4M267.0 307.6H268.4" stroke="#bdbdbd" stroke-width="0.5" fill="none"/>
<g fill="#3b7cc8"><circle cx="253.8" cy="283.8" r="1.9"/><circle cx="257.4" cy="289.5" r="1.9"/><circle cx="252.4" cy="291.7" r="1.9"/><circle cx="253.1" cy="294.6" r="1.9"/><circle cx="255.2" cy="294.3" r="1.9"/><circle cx="258.8" cy="291.4" r="1.9"/><circle cx="262.7" cy="289.5" r="1.9"/><circle cx="264.6" cy="290.0" r="1.9"/><circle cx="260.3" cy="292.4" r="1.9"/><circle cx="237.7" cy="302.1" r="1.9"/><circle cx="242.0" cy="300.0" r="1.9"/><circle cx="246.6" cy="300.3" r="1.9"/><circle cx="250.9" cy="300.0" r="1.9"/><circle cx="241.1" cy="305.4" r="1.9"/><circle cx="252.4" cy="304.6" r="1.9"/><circle cx="259.6" cy="301.8" r="1.9"/><circle cx="261.0" cy="306.8" r="1.9"/><circle cx="269.6" cy="302.5" r="1.9"/><circle cx="277.6" cy="303.5" r="1.9"/><circle cx="248.0" cy="310.4" r="1.9"/><circle cx="259.6" cy="311.1" r="1.9"/><circle cx="266.0" cy="310.4" r="1.9"/><circle cx="251.6" cy="314.0" r="1.9"/><circle cx="261.7" cy="312.3" r="1.9"/><circle cx="233.9" cy="319.1" r="1.9"/><circle cx="230.2" cy="324.2" r="1.9"/><circle cx="237.5" cy="327.8" r="1.9"/><circle cx="244.1" cy="322.0" r="1.9"/><circle cx="247.2" cy="318.4" r="1.9"/><circle cx="249.3" cy="325.4" r="1.9"/><circle cx="248.0" cy="310.5" r="1.9"/><circle cx="251.5" cy="313.6" r="1.9"/><circle cx="254.6" cy="320.2" r="1.9"/><circle cx="256.2" cy="316.8" r="1.9"/><circle cx="258.7" cy="312.1" r="1.9"/><circle cx="261.4" cy="312.1" r="1.9"/><circle cx="262.9" cy="313.6" r="1.9"/><circle cx="265.0" cy="316.3" r="1.9"/><circle cx="266.1" cy="310.5" r="1.9"/><circle cx="265.6" cy="326.5" r="1.9"/><circle cx="260.6" cy="330.1" r="1.9"/><circle cx="259.3" cy="333.6" r="1.9"/><circle cx="254.6" cy="334.6" r="1.9"/><circle cx="273.2" cy="343.2" r="1.9"/><circle cx="247.7" cy="349.5" r="1.9"/><circle cx="241.4" cy="305.5" r="1.9"/><circle cx="252.7" cy="305.5" r="1.9"/><circle cx="260.9" cy="306.6" r="1.9"/><circle cx="277.6" cy="303.8" r="1.9"/></g>
<g fill="#c0273a"><circle cx="276.6" cy="274.1" r="1.9"/><circle cx="285.2" cy="277.6" r="1.9"/><circle cx="265.3" cy="280.9" r="1.9"/><circle cx="278.6" cy="287.7" r="1.9"/><circle cx="282.3" cy="290.2" r="1.9"/><circle cx="289.5" cy="288.8" r="1.9"/><circle cx="268.2" cy="291.0" r="1.9"/><circle cx="271.8" cy="292.0" r="1.9"/><circle cx="275.7" cy="294.3" r="1.9"/><circle cx="284.1" cy="294.9" r="1.9"/><circle cx="263.9" cy="298.9" r="1.9"/><circle cx="266.8" cy="296.7" r="1.9"/><circle cx="268.2" cy="299.6" r="1.9"/><circle cx="263.9" cy="303.9" r="1.9"/><circle cx="259.6" cy="303.9" r="1.9"/><circle cx="267.5" cy="305.7" r="1.9"/><circle cx="256.7" cy="309.0" r="1.9"/><circle cx="282.6" cy="303.5" r="1.9"/><circle cx="286.2" cy="303.2" r="1.9"/><circle cx="290.5" cy="301.5" r="1.9"/><circle cx="278.0" cy="308.7" r="1.9"/><circle cx="281.9" cy="310.7" r="1.9"/><circle cx="287.2" cy="311.6" r="1.9"/><circle cx="273.7" cy="313.3" r="1.9"/><circle cx="307.8" cy="290.5" r="1.9"/><circle cx="276.2" cy="293.8" r="1.9"/><circle cx="295.9" cy="296.6" r="1.9"/><circle cx="300.9" cy="297.4" r="1.9"/><circle cx="290.1" cy="301.3" r="1.9"/><circle cx="282.5" cy="303.8" r="1.9"/><circle cx="285.8" cy="303.4" r="1.9"/><circle cx="277.9" cy="308.6" r="1.9"/><circle cx="281.9" cy="310.3" r="1.9"/><circle cx="278.6" cy="311.5" r="1.9"/><circle cx="287.7" cy="311.8" r="1.9"/><circle cx="283.9" cy="313.2" r="1.9"/><circle cx="285.4" cy="315.8" r="1.9"/><circle cx="290.1" cy="315.4" r="1.9"/><circle cx="308.4" cy="316.4" r="1.9"/><circle cx="325.4" cy="316.4" r="1.9"/><circle cx="304.5" cy="319.0" r="1.9"/><circle cx="277.2" cy="319.0" r="1.9"/><circle cx="285.8" cy="321.9" r="1.9"/><circle cx="280.5" cy="323.3" r="1.9"/><circle cx="266.1" cy="321.5" r="1.9"/><circle cx="263.0" cy="325.0" r="1.9"/><circle cx="270.3" cy="323.9" r="1.9"/><circle cx="273.9" cy="325.8" r="1.9"/><circle cx="277.1" cy="319.1" r="1.9"/><circle cx="280.2" cy="323.1" r="1.9"/><circle cx="285.7" cy="322.0" r="1.9"/><circle cx="281.0" cy="327.5" r="1.9"/><circle cx="277.9" cy="332.0" r="1.9"/><circle cx="277.1" cy="336.4" r="1.9"/><circle cx="286.5" cy="335.2" r="1.9"/><circle cx="288.6" cy="335.2" r="1.9"/><circle cx="257.4" cy="341.5" r="1.9"/><circle cx="282.6" cy="349.8" r="1.9"/><circle cx="290.8" cy="350.1" r="1.9"/><circle cx="304.6" cy="319.1" r="1.9"/><circle cx="308.5" cy="316.5" r="1.9"/><circle cx="318.7" cy="328.6" r="1.9"/><circle cx="271.6" cy="314.4" r="1.9"/><circle cx="274.4" cy="312.9" r="1.9"/><circle cx="277.9" cy="308.5" r="1.9"/><circle cx="282.3" cy="310.5" r="1.9"/><circle cx="284.9" cy="313.6" r="1.9"/><circle cx="287.6" cy="311.6" r="1.9"/><circle cx="290.4" cy="315.7" r="1.9"/><circle cx="267.7" cy="305.8" r="1.9"/></g>
<text x="404.7" y="30.3" font-size="7.0" fill="#222" stroke="#222" stroke-width="0.12" textLength="58.9" lengthAdjust="spacingAndGlyphs">Physical Data Profile</text>
<text x="537.2" y="30.3" font-size="7.0" fill="#222" stroke="#222" stroke-width="0.12" textLength="77.1" lengthAdjust="spacingAndGlyphs">Metabolomics Data Profile</text>
<text x="622.7" y="26.8" font-size="7.0" fill="#222" stroke="#222" stroke-width="0.12" textLength="60.6" lengthAdjust="spacingAndGlyphs">XGBoosting Classifier</text>
<text x="639.8" y="35.0" font-size="7.0" fill="#222" stroke="#222" stroke-width="0.12" textLength="26.5" lengthAdjust="spacingAndGlyphs">Accuracy</text>
<text x="639.2" y="84.1" font-size="7.4" fill="#111" stroke="#111" stroke-width="0.12" font-weight="bold" textLength="25.6" lengthAdjust="spacingAndGlyphs">91.50 %</text>
<text x="639.2" y="201.4" font-size="7.4" fill="#111" stroke="#111" stroke-width="0.12" font-weight="bold" textLength="25.6" lengthAdjust="spacingAndGlyphs">82.36 %</text>
<text x="639.2" y="315.7" font-size="7.4" fill="#111" stroke="#111" stroke-width="0.12" font-weight="bold" textLength="25.6" lengthAdjust="spacingAndGlyphs">62.17 %</text>
<rect x="384.6" y="41.6" width="105.8" height="83.9" fill="none" stroke="#b0b0b0" stroke-width="0.8"/>
<line x1="390.8" y1="125.5" x2="390.8" y2="124.0" stroke="#b0b0b0" stroke-width="0.5"/>
<line x1="390.8" y1="41.6" x2="390.8" y2="43.1" stroke="#b0b0b0" stroke-width="0.5"/>
<text x="390.8" y="132.4" font-size="5.2" fill="#666" stroke="#666" stroke-width="0.12" text-anchor="middle">-4</text>
<line x1="415.7" y1="125.5" x2="415.7" y2="124.0" stroke="#b0b0b0" stroke-width="0.5"/>
<line x1="415.7" y1="41.6" x2="415.7" y2="43.1" stroke="#b0b0b0" stroke-width="0.5"/>
<text x="415.7" y="132.4" font-size="5.2" fill="#666" stroke="#666" stroke-width="0.12" text-anchor="middle">-2</text>
<line x1="440.6" y1="125.5" x2="440.6" y2="124.0" stroke="#b0b0b0" stroke-width="0.5"/>
<line x1="440.6" y1="41.6" x2="440.6" y2="43.1" stroke="#b0b0b0" stroke-width="0.5"/>
<text x="440.6" y="132.4" font-size="5.2" fill="#666" stroke="#666" stroke-width="0.12" text-anchor="middle">0</text>
<line x1="465.5" y1="125.5" x2="465.5" y2="124.0" stroke="#b0b0b0" stroke-width="0.5"/>
<line x1="465.5" y1="41.6" x2="465.5" y2="43.1" stroke="#b0b0b0" stroke-width="0.5"/>
<text x="465.5" y="132.4" font-size="5.2" fill="#666" stroke="#666" stroke-width="0.12" text-anchor="middle">2</text>
<line x1="490.4" y1="125.5" x2="490.4" y2="124.0" stroke="#b0b0b0" stroke-width="0.5"/>
<line x1="490.4" y1="41.6" x2="490.4" y2="43.1" stroke="#b0b0b0" stroke-width="0.5"/>
<text x="490.4" y="132.4" font-size="5.2" fill="#666" stroke="#666" stroke-width="0.12" text-anchor="middle">4</text>
<line x1="384.6" y1="125.5" x2="386.1" y2="125.5" stroke="#b0b0b0" stroke-width="0.5"/>
<line x1="490.4" y1="125.5" x2="488.9" y2="125.5" stroke="#b0b0b0" stroke-width="0.5"/>
<text x="382.6" y="127.4" font-size="5.2" fill="#666" stroke="#666" stroke-width="0.12" text-anchor="end">-6</text>
<line x1="384.6" y1="108.7" x2="386.1" y2="108.7" stroke="#b0b0b0" stroke-width="0.5"/>
<line x1="490.4" y1="108.7" x2="488.9" y2="108.7" stroke="#b0b0b0" stroke-width="0.5"/>
<text x="382.6" y="110.6" font-size="5.2" fill="#666" stroke="#666" stroke-width="0.12" text-anchor="end">-4</text>
<line x1="384.6" y1="91.9" x2="386.1" y2="91.9" stroke="#b0b0b0" stroke-width="0.5"/>
<line x1="490.4" y1="91.9" x2="488.9" y2="91.9" stroke="#b0b0b0" stroke-width="0.5"/>
<text x="382.6" y="93.8" font-size="5.2" fill="#666" stroke="#666" stroke-width="0.12" text-anchor="end">-2</text>
<line x1="384.6" y1="75.2" x2="386.1" y2="75.2" stroke="#b0b0b0" stroke-width="0.5"/>
<line x1="490.4" y1="75.2" x2="488.9" y2="75.2" stroke="#b0b0b0" stroke-width="0.5"/>
<text x="382.6" y="77.0" font-size="5.2" fill="#666" stroke="#666" stroke-width="0.12" text-anchor="end">0</text>
<line x1="384.6" y1="58.4" x2="386.1" y2="58.4" stroke="#b0b0b0" stroke-width="0.5"/>
<line x1="490.4" y1="58.4" x2="488.9" y2="58.4" stroke="#b0b0b0" stroke-width="0.5"/>
<text x="382.6" y="60.3" font-size="5.2" fill="#666" stroke="#666" stroke-width="0.12" text-anchor="end">2</text>
<line x1="384.6" y1="41.6" x2="386.1" y2="41.6" stroke="#b0b0b0" stroke-width="0.5"/>
<line x1="490.4" y1="41.6" x2="488.9" y2="41.6" stroke="#b0b0b0" stroke-width="0.5"/>
<text x="382.6" y="43.5" font-size="5.2" fill="#666" stroke="#666" stroke-width="0.12" text-anchor="end">4</text>
<text x="437.5" y="139.7" font-size="6.0" fill="#222" stroke="#222" stroke-width="0.12" text-anchor="middle" textLength="47.2" lengthAdjust="spacingAndGlyphs">Physical data CCA1</text>
<text x="376.0" y="84.5" font-size="5.9" fill="#222" stroke="#222" stroke-width="0.12" text-anchor="middle" textLength="47.2" lengthAdjust="spacingAndGlyphs" transform="rotate(-90 376.0 84.5)">Physical data CCA2</text>
<rect x="524.8" y="41.6" width="106.0" height="83.9" fill="none" stroke="#b0b0b0" stroke-width="0.8"/>
<line x1="524.8" y1="125.5" x2="524.8" y2="124.0" stroke="#b0b0b0" stroke-width="0.5"/>
<line x1="524.8" y1="41.6" x2="524.8" y2="43.1" stroke="#b0b0b0" stroke-width="0.5"/>
<text x="524.8" y="132.4" font-size="5.2" fill="#666" stroke="#666" stroke-width="0.12" text-anchor="middle">-4</text>
<line x1="551.3" y1="125.5" x2="551.3" y2="124.0" stroke="#b0b0b0" stroke-width="0.5"/>
<line x1="551.3" y1="41.6" x2="551.3" y2="43.1" stroke="#b0b0b0" stroke-width="0.5"/>
<text x="551.3" y="132.4" font-size="5.2" fill="#666" stroke="#666" stroke-width="0.12" text-anchor="middle">-2</text>
<line x1="577.8" y1="125.5" x2="577.8" y2="124.0" stroke="#b0b0b0" stroke-width="0.5"/>
<line x1="577.8" y1="41.6" x2="577.8" y2="43.1" stroke="#b0b0b0" stroke-width="0.5"/>
<text x="577.8" y="132.4" font-size="5.2" fill="#666" stroke="#666" stroke-width="0.12" text-anchor="middle">0</text>
<line x1="604.3" y1="125.5" x2="604.3" y2="124.0" stroke="#b0b0b0" stroke-width="0.5"/>
<line x1="604.3" y1="41.6" x2="604.3" y2="43.1" stroke="#b0b0b0" stroke-width="0.5"/>
<text x="604.3" y="132.4" font-size="5.2" fill="#666" stroke="#666" stroke-width="0.12" text-anchor="middle">2</text>
<line x1="630.8" y1="125.5" x2="630.8" y2="124.0" stroke="#b0b0b0" stroke-width="0.5"/>
<line x1="630.8" y1="41.6" x2="630.8" y2="43.1" stroke="#b0b0b0" stroke-width="0.5"/>
<text x="630.8" y="132.4" font-size="5.2" fill="#666" stroke="#666" stroke-width="0.12" text-anchor="middle">4</text>
<line x1="524.8" y1="125.5" x2="526.3" y2="125.5" stroke="#b0b0b0" stroke-width="0.5"/>
<line x1="630.8" y1="125.5" x2="629.3" y2="125.5" stroke="#b0b0b0" stroke-width="0.5"/>
<text x="522.8" y="127.4" font-size="5.2" fill="#666" stroke="#666" stroke-width="0.12" text-anchor="end">-4</text>
<line x1="524.8" y1="113.5" x2="526.3" y2="113.5" stroke="#b0b0b0" stroke-width="0.5"/>
<line x1="630.8" y1="113.5" x2="629.3" y2="113.5" stroke="#b0b0b0" stroke-width="0.5"/>
<text x="522.8" y="115.4" font-size="5.2" fill="#666" stroke="#666" stroke-width="0.12" text-anchor="end">-3</text>
<line x1="524.8" y1="101.5" x2="526.3" y2="101.5" stroke="#b0b0b0" stroke-width="0.5"/>
<line x1="630.8" y1="101.5" x2="629.3" y2="101.5" stroke="#b0b0b0" stroke-width="0.5"/>
<text x="522.8" y="103.4" font-size="5.2" fill="#666" stroke="#666" stroke-width="0.12" text-anchor="end">-2</text>
<line x1="524.8" y1="89.5" x2="526.3" y2="89.5" stroke="#b0b0b0" stroke-width="0.5"/>
<line x1="630.8" y1="89.5" x2="629.3" y2="89.5" stroke="#b0b0b0" stroke-width="0.5"/>
<text x="522.8" y="91.4" font-size="5.2" fill="#666" stroke="#666" stroke-width="0.12" text-anchor="end">-1</text>
<line x1="524.8" y1="77.6" x2="526.3" y2="77.6" stroke="#b0b0b0" stroke-width="0.5"/>
<line x1="630.8" y1="77.6" x2="629.3" y2="77.6" stroke="#b0b0b0" stroke-width="0.5"/>
<text x="522.8" y="79.4" font-size="5.2" fill="#666" stroke="#666" stroke-width="0.12" text-anchor="end">0</text>
<line x1="524.8" y1="65.6" x2="526.3" y2="65.6" stroke="#b0b0b0" stroke-width="0.5"/>
<line x1="630.8" y1="65.6" x2="629.3" y2="65.6" stroke="#b0b0b0" stroke-width="0.5"/>
<text x="522.8" y="67.4" font-size="5.2" fill="#666" stroke="#666" stroke-width="0.12" text-anchor="end">1</text>
<line x1="524.8" y1="53.6" x2="526.3" y2="53.6" stroke="#b0b0b0" stroke-width="0.5"/>
<line x1="630.8" y1="53.6" x2="629.3" y2="53.6" stroke="#b0b0b0" stroke-width="0.5"/>
<text x="522.8" y="55.5" font-size="5.2" fill="#666" stroke="#666" stroke-width="0.12" text-anchor="end">2</text>
<line x1="524.8" y1="41.6" x2="526.3" y2="41.6" stroke="#b0b0b0" stroke-width="0.5"/>
<line x1="630.8" y1="41.6" x2="629.3" y2="41.6" stroke="#b0b0b0" stroke-width="0.5"/>
<text x="522.8" y="43.5" font-size="5.2" fill="#666" stroke="#666" stroke-width="0.12" text-anchor="end">3</text>
<text x="577.8" y="139.7" font-size="6.0" fill="#222" stroke="#222" stroke-width="0.12" text-anchor="middle" textLength="60.5" lengthAdjust="spacingAndGlyphs">Metabolomics data CCA1</text>
<text x="516.2" y="84.5" font-size="5.9" fill="#222" stroke="#222" stroke-width="0.12" text-anchor="middle" textLength="61.5" lengthAdjust="spacingAndGlyphs" transform="rotate(-90 516.2 84.5)">Metabolomics data CCA2</text>
<rect x="384.6" y="158.8" width="105.8" height="84.2" fill="none" stroke="#b0b0b0" stroke-width="0.8"/>
<line x1="390.8" y1="243.0" x2="390.8" y2="241.5" stroke="#b0b0b0" stroke-width="0.5"/>
<line x1="390.8" y1="158.8" x2="390.8" y2="160.3" stroke="#b0b0b0" stroke-width="0.5"/>
<text x="390.8" y="249.9" font-size="5.2" fill="#666" stroke="#666" stroke-width="0.12" text-anchor="middle">-4</text>
<line x1="415.7" y1="243.0" x2="415.7" y2="241.5" stroke="#b0b0b0" stroke-width="0.5"/>
<line x1="415.7" y1="158.8" x2="415.7" y2="160.3" stroke="#b0b0b0" stroke-width="0.5"/>
<text x="415.7" y="249.9" font-size="5.2" fill="#666" stroke="#666" stroke-width="0.12" text-anchor="middle">-2</text>
<line x1="440.6" y1="243.0" x2="440.6" y2="241.5" stroke="#b0b0b0" stroke-width="0.5"/>
<line x1="440.6" y1="158.8" x2="440.6" y2="160.3" stroke="#b0b0b0" stroke-width="0.5"/>
<text x="440.6" y="249.9" font-size="5.2" fill="#666" stroke="#666" stroke-width="0.12" text-anchor="middle">0</text>
<line x1="465.5" y1="243.0" x2="465.5" y2="241.5" stroke="#b0b0b0" stroke-width="0.5"/>
<line x1="465.5" y1="158.8" x2="465.5" y2="160.3" stroke="#b0b0b0" stroke-width="0.5"/>
<text x="465.5" y="249.9" font-size="5.2" fill="#666" stroke="#666" stroke-width="0.12" text-anchor="middle">2</text>
<line x1="490.4" y1="243.0" x2="490.4" y2="241.5" stroke="#b0b0b0" stroke-width="0.5"/>
<line x1="490.4" y1="158.8" x2="490.4" y2="160.3" stroke="#b0b0b0" stroke-width="0.5"/>
<text x="490.4" y="249.9" font-size="5.2" fill="#666" stroke="#666" stroke-width="0.12" text-anchor="middle">4</text>
<line x1="384.6" y1="243.0" x2="386.1" y2="243.0" stroke="#b0b0b0" stroke-width="0.5"/>
<line x1="490.4" y1="243.0" x2="488.9" y2="243.0" stroke="#b0b0b0" stroke-width="0.5"/>
<text x="382.6" y="244.9" font-size="5.2" fill="#666" stroke="#666" stroke-width="0.12" text-anchor="end">-6</text>
<line x1="384.6" y1="226.2" x2="386.1" y2="226.2" stroke="#b0b0b0" stroke-width="0.5"/>
<line x1="490.4" y1="226.2" x2="488.9" y2="226.2" stroke="#b0b0b0" stroke-width="0.5"/>
<text x="382.6" y="228.0" font-size="5.2" fill="#666" stroke="#666" stroke-width="0.12" text-anchor="end">-4</text>
<line x1="384.6" y1="209.3" x2="386.1" y2="209.3" stroke="#b0b0b0" stroke-width="0.5"/>
<line x1="490.4" y1="209.3" x2="488.9" y2="209.3" stroke="#b0b0b0" stroke-width="0.5"/>
<text x="382.6" y="211.2" font-size="5.2" fill="#666" stroke="#666" stroke-width="0.12" text-anchor="end">-2</text>
<line x1="384.6" y1="192.5" x2="386.1" y2="192.5" stroke="#b0b0b0" stroke-width="0.5"/>
<line x1="490.4" y1="192.5" x2="488.9" y2="192.5" stroke="#b0b0b0" stroke-width="0.5"/>
<text x="382.6" y="194.4" font-size="5.2" fill="#666" stroke="#666" stroke-width="0.12" text-anchor="end">0</text>
<line x1="384.6" y1="175.6" x2="386.1" y2="175.6" stroke="#b0b0b0" stroke-width="0.5"/>
<line x1="490.4" y1="175.6" x2="488.9" y2="175.6" stroke="#b0b0b0" stroke-width="0.5"/>
<text x="382.6" y="177.5" font-size="5.2" fill="#666" stroke="#666" stroke-width="0.12" text-anchor="end">2</text>
<line x1="384.6" y1="158.8" x2="386.1" y2="158.8" stroke="#b0b0b0" stroke-width="0.5"/>
<line x1="490.4" y1="158.8" x2="488.9" y2="158.8" stroke="#b0b0b0" stroke-width="0.5"/>
<text x="382.6" y="160.7" font-size="5.2" fill="#666" stroke="#666" stroke-width="0.12" text-anchor="end">4</text>
<text x="437.5" y="257.2" font-size="6.0" fill="#222" stroke="#222" stroke-width="0.12" text-anchor="middle" textLength="47.2" lengthAdjust="spacingAndGlyphs">Physical data CCA1</text>
<text x="376.0" y="201.9" font-size="5.9" fill="#222" stroke="#222" stroke-width="0.12" text-anchor="middle" textLength="47.2" lengthAdjust="spacingAndGlyphs" transform="rotate(-90 376.0 201.9)">Physical data CCA2</text>
<rect x="524.8" y="158.8" width="106.0" height="84.2" fill="none" stroke="#b0b0b0" stroke-width="0.8"/>
<line x1="524.8" y1="243.0" x2="524.8" y2="241.5" stroke="#b0b0b0" stroke-width="0.5"/>
<line x1="524.8" y1="158.8" x2="524.8" y2="160.3" stroke="#b0b0b0" stroke-width="0.5"/>
<text x="524.8" y="249.9" font-size="5.2" fill="#666" stroke="#666" stroke-width="0.12" text-anchor="middle">-4</text>
<line x1="551.3" y1="243.0" x2="551.3" y2="241.5" stroke="#b0b0b0" stroke-width="0.5"/>
<line x1="551.3" y1="158.8" x2="551.3" y2="160.3" stroke="#b0b0b0" stroke-width="0.5"/>
<text x="551.3" y="249.9" font-size="5.2" fill="#666" stroke="#666" stroke-width="0.12" text-anchor="middle">-2</text>
<line x1="577.8" y1="243.0" x2="577.8" y2="241.5" stroke="#b0b0b0" stroke-width="0.5"/>
<line x1="577.8" y1="158.8" x2="577.8" y2="160.3" stroke="#b0b0b0" stroke-width="0.5"/>
<text x="577.8" y="249.9" font-size="5.2" fill="#666" stroke="#666" stroke-width="0.12" text-anchor="middle">0</text>
<line x1="604.3" y1="243.0" x2="604.3" y2="241.5" stroke="#b0b0b0" stroke-width="0.5"/>
<line x1="604.3" y1="158.8" x2="604.3" y2="160.3" stroke="#b0b0b0" stroke-width="0.5"/>
<text x="604.3" y="249.9" font-size="5.2" fill="#666" stroke="#666" stroke-width="0.12" text-anchor="middle">2</text>
<line x1="630.8" y1="243.0" x2="630.8" y2="241.5" stroke="#b0b0b0" stroke-width="0.5"/>
<line x1="630.8" y1="158.8" x2="630.8" y2="160.3" stroke="#b0b0b0" stroke-width="0.5"/>
<text x="630.8" y="249.9" font-size="5.2" fill="#666" stroke="#666" stroke-width="0.12" text-anchor="middle">4</text>
<line x1="524.8" y1="243.0" x2="526.3" y2="243.0" stroke="#b0b0b0" stroke-width="0.5"/>
<line x1="630.8" y1="243.0" x2="629.3" y2="243.0" stroke="#b0b0b0" stroke-width="0.5"/>
<text x="522.8" y="244.9" font-size="5.2" fill="#666" stroke="#666" stroke-width="0.12" text-anchor="end">-4</text>
<line x1="524.8" y1="231.0" x2="526.3" y2="231.0" stroke="#b0b0b0" stroke-width="0.5"/>
<line x1="630.8" y1="231.0" x2="629.3" y2="231.0" stroke="#b0b0b0" stroke-width="0.5"/>
<text x="522.8" y="232.8" font-size="5.2" fill="#666" stroke="#666" stroke-width="0.12" text-anchor="end">-3</text>
<line x1="524.8" y1="218.9" x2="526.3" y2="218.9" stroke="#b0b0b0" stroke-width="0.5"/>
<line x1="630.8" y1="218.9" x2="629.3" y2="218.9" stroke="#b0b0b0" stroke-width="0.5"/>
<text x="522.8" y="220.8" font-size="5.2" fill="#666" stroke="#666" stroke-width="0.12" text-anchor="end">-2</text>
<line x1="524.8" y1="206.9" x2="526.3" y2="206.9" stroke="#b0b0b0" stroke-width="0.5"/>
<line x1="630.8" y1="206.9" x2="629.3" y2="206.9" stroke="#b0b0b0" stroke-width="0.5"/>
<text x="522.8" y="208.8" font-size="5.2" fill="#666" stroke="#666" stroke-width="0.12" text-anchor="end">-1</text>
<line x1="524.8" y1="194.9" x2="526.3" y2="194.9" stroke="#b0b0b0" stroke-width="0.5"/>
<line x1="630.8" y1="194.9" x2="629.3" y2="194.9" stroke="#b0b0b0" stroke-width="0.5"/>
<text x="522.8" y="196.8" font-size="5.2" fill="#666" stroke="#666" stroke-width="0.12" text-anchor="end">0</text>
<line x1="524.8" y1="182.9" x2="526.3" y2="182.9" stroke="#b0b0b0" stroke-width="0.5"/>
<line x1="630.8" y1="182.9" x2="629.3" y2="182.9" stroke="#b0b0b0" stroke-width="0.5"/>
<text x="522.8" y="184.7" font-size="5.2" fill="#666" stroke="#666" stroke-width="0.12" text-anchor="end">1</text>
<line x1="524.8" y1="170.8" x2="526.3" y2="170.8" stroke="#b0b0b0" stroke-width="0.5"/>
<line x1="630.8" y1="170.8" x2="629.3" y2="170.8" stroke="#b0b0b0" stroke-width="0.5"/>
<text x="522.8" y="172.7" font-size="5.2" fill="#666" stroke="#666" stroke-width="0.12" text-anchor="end">2</text>
<line x1="524.8" y1="158.8" x2="526.3" y2="158.8" stroke="#b0b0b0" stroke-width="0.5"/>
<line x1="630.8" y1="158.8" x2="629.3" y2="158.8" stroke="#b0b0b0" stroke-width="0.5"/>
<text x="522.8" y="160.7" font-size="5.2" fill="#666" stroke="#666" stroke-width="0.12" text-anchor="end">3</text>
<text x="577.8" y="257.2" font-size="6.0" fill="#222" stroke="#222" stroke-width="0.12" text-anchor="middle" textLength="60.5" lengthAdjust="spacingAndGlyphs">Metabolomics data CCA1</text>
<text x="516.2" y="201.9" font-size="5.9" fill="#222" stroke="#222" stroke-width="0.12" text-anchor="middle" textLength="61.5" lengthAdjust="spacingAndGlyphs" transform="rotate(-90 516.2 201.9)">Metabolomics data CCA2</text>
<rect x="384.6" y="275.9" width="105.8" height="84.7" fill="none" stroke="#b0b0b0" stroke-width="0.8"/>
<line x1="390.8" y1="360.6" x2="390.8" y2="359.1" stroke="#b0b0b0" stroke-width="0.5"/>
<line x1="390.8" y1="275.9" x2="390.8" y2="277.4" stroke="#b0b0b0" stroke-width="0.5"/>
<text x="390.8" y="367.5" font-size="5.2" fill="#666" stroke="#666" stroke-width="0.12" text-anchor="middle">-4</text>
<line x1="415.7" y1="360.6" x2="415.7" y2="359.1" stroke="#b0b0b0" stroke-width="0.5"/>
<line x1="415.7" y1="275.9" x2="415.7" y2="277.4" stroke="#b0b0b0" stroke-width="0.5"/>
<text x="415.7" y="367.5" font-size="5.2" fill="#666" stroke="#666" stroke-width="0.12" text-anchor="middle">-2</text>
<line x1="440.6" y1="360.6" x2="440.6" y2="359.1" stroke="#b0b0b0" stroke-width="0.5"/>
<line x1="440.6" y1="275.9" x2="440.6" y2="277.4" stroke="#b0b0b0" stroke-width="0.5"/>
<text x="440.6" y="367.5" font-size="5.2" fill="#666" stroke="#666" stroke-width="0.12" text-anchor="middle">0</text>
<line x1="465.5" y1="360.6" x2="465.5" y2="359.1" stroke="#b0b0b0" stroke-width="0.5"/>
<line x1="465.5" y1="275.9" x2="465.5" y2="277.4" stroke="#b0b0b0" stroke-width="0.5"/>
<text x="465.5" y="367.5" font-size="5.2" fill="#666" stroke="#666" stroke-width="0.12" text-anchor="middle">2</text>
<line x1="490.4" y1="360.6" x2="490.4" y2="359.1" stroke="#b0b0b0" stroke-width="0.5"/>
<line x1="490.4" y1="275.9" x2="490.4" y2="277.4" stroke="#b0b0b0" stroke-width="0.5"/>
<text x="490.4" y="367.5" font-size="5.2" fill="#666" stroke="#666" stroke-width="0.12" text-anchor="middle">4</text>
<line x1="384.6" y1="360.6" x2="386.1" y2="360.6" stroke="#b0b0b0" stroke-width="0.5"/>
<line x1="490.4" y1="360.6" x2="488.9" y2="360.6" stroke="#b0b0b0" stroke-width="0.5"/>
<text x="382.6" y="362.5" font-size="5.2" fill="#666" stroke="#666" stroke-width="0.12" text-anchor="end">-4</text>
<line x1="384.6" y1="348.5" x2="386.1" y2="348.5" stroke="#b0b0b0" stroke-width="0.5"/>
<line x1="490.4" y1="348.5" x2="488.9" y2="348.5" stroke="#b0b0b0" stroke-width="0.5"/>
<text x="382.6" y="350.4" font-size="5.2" fill="#666" stroke="#666" stroke-width="0.12" text-anchor="end">-3</text>
<line x1="384.6" y1="336.4" x2="386.1" y2="336.4" stroke="#b0b0b0" stroke-width="0.5"/>
<line x1="490.4" y1="336.4" x2="488.9" y2="336.4" stroke="#b0b0b0" stroke-width="0.5"/>
<text x="382.6" y="338.3" font-size="5.2" fill="#666" stroke="#666" stroke-width="0.12" text-anchor="end">-2</text>
<line x1="384.6" y1="324.3" x2="386.1" y2="324.3" stroke="#b0b0b0" stroke-width="0.5"/>
<line x1="490.4" y1="324.3" x2="488.9" y2="324.3" stroke="#b0b0b0" stroke-width="0.5"/>
<text x="382.6" y="326.2" font-size="5.2" fill="#666" stroke="#666" stroke-width="0.12" text-anchor="end">-1</text>
<line x1="384.6" y1="312.2" x2="386.1" y2="312.2" stroke="#b0b0b0" stroke-width="0.5"/>
<line x1="490.4" y1="312.2" x2="488.9" y2="312.2" stroke="#b0b0b0" stroke-width="0.5"/>
<text x="382.6" y="314.1" font-size="5.2" fill="#666" stroke="#666" stroke-width="0.12" text-anchor="end">0</text>
<line x1="384.6" y1="300.1" x2="386.1" y2="300.1" stroke="#b0b0b0" stroke-width="0.5"/>
<line x1="490.4" y1="300.1" x2="488.9" y2="300.1" stroke="#b0b0b0" stroke-width="0.5"/>
<text x="382.6" y="302.0" font-size="5.2" fill="#666" stroke="#666" stroke-width="0.12" text-anchor="end">1</text>
<line x1="384.6" y1="288.0" x2="386.1" y2="288.0" stroke="#b0b0b0" stroke-width="0.5"/>
<line x1="490.4" y1="288.0" x2="488.9" y2="288.0" stroke="#b0b0b0" stroke-width="0.5"/>
<text x="382.6" y="289.9" font-size="5.2" fill="#666" stroke="#666" stroke-width="0.12" text-anchor="end">2</text>
<line x1="384.6" y1="275.9" x2="386.1" y2="275.9" stroke="#b0b0b0" stroke-width="0.5"/>
<line x1="490.4" y1="275.9" x2="488.9" y2="275.9" stroke="#b0b0b0" stroke-width="0.5"/>
<text x="382.6" y="277.8" font-size="5.2" fill="#666" stroke="#666" stroke-width="0.12" text-anchor="end">3</text>
<text x="437.5" y="374.8" font-size="6.0" fill="#222" stroke="#222" stroke-width="0.12" text-anchor="middle" textLength="47.2" lengthAdjust="spacingAndGlyphs">Physical data CCA1</text>
<text x="376.0" y="319.2" font-size="5.9" fill="#222" stroke="#222" stroke-width="0.12" text-anchor="middle" textLength="47.2" lengthAdjust="spacingAndGlyphs" transform="rotate(-90 376.0 319.2)">Physical data CCA2</text>
<rect x="524.8" y="275.9" width="106.0" height="84.7" fill="none" stroke="#b0b0b0" stroke-width="0.8"/>
<line x1="524.8" y1="360.6" x2="524.8" y2="359.1" stroke="#b0b0b0" stroke-width="0.5"/>
<line x1="524.8" y1="275.9" x2="524.8" y2="277.4" stroke="#b0b0b0" stroke-width="0.5"/>
<text x="524.8" y="367.5" font-size="5.2" fill="#666" stroke="#666" stroke-width="0.12" text-anchor="middle">-4</text>
<line x1="551.3" y1="360.6" x2="551.3" y2="359.1" stroke="#b0b0b0" stroke-width="0.5"/>
<line x1="551.3" y1="275.9" x2="551.3" y2="277.4" stroke="#b0b0b0" stroke-width="0.5"/>
<text x="551.3" y="367.5" font-size="5.2" fill="#666" stroke="#666" stroke-width="0.12" text-anchor="middle">-2</text>
<line x1="577.8" y1="360.6" x2="577.8" y2="359.1" stroke="#b0b0b0" stroke-width="0.5"/>
<line x1="577.8" y1="275.9" x2="577.8" y2="277.4" stroke="#b0b0b0" stroke-width="0.5"/>
<text x="577.8" y="367.5" font-size="5.2" fill="#666" stroke="#666" stroke-width="0.12" text-anchor="middle">0</text>
<line x1="604.3" y1="360.6" x2="604.3" y2="359.1" stroke="#b0b0b0" stroke-width="0.5"/>
<line x1="604.3" y1="275.9" x2="604.3" y2="277.4" stroke="#b0b0b0" stroke-width="0.5"/>
<text x="604.3" y="367.5" font-size="5.2" fill="#666" stroke="#666" stroke-width="0.12" text-anchor="middle">2</text>
<line x1="630.8" y1="360.6" x2="630.8" y2="359.1" stroke="#b0b0b0" stroke-width="0.5"/>
<line x1="630.8" y1="275.9" x2="630.8" y2="277.4" stroke="#b0b0b0" stroke-width="0.5"/>
<text x="630.8" y="367.5" font-size="5.2" fill="#666" stroke="#666" stroke-width="0.12" text-anchor="middle">4</text>
<line x1="524.8" y1="360.6" x2="526.3" y2="360.6" stroke="#b0b0b0" stroke-width="0.5"/>
<line x1="630.8" y1="360.6" x2="629.3" y2="360.6" stroke="#b0b0b0" stroke-width="0.5"/>
<text x="522.8" y="362.5" font-size="5.2" fill="#666" stroke="#666" stroke-width="0.12" text-anchor="end">-4</text>
<line x1="524.8" y1="348.5" x2="526.3" y2="348.5" stroke="#b0b0b0" stroke-width="0.5"/>
<line x1="630.8" y1="348.5" x2="629.3" y2="348.5" stroke="#b0b0b0" stroke-width="0.5"/>
<text x="522.8" y="350.4" font-size="5.2" fill="#666" stroke="#666" stroke-width="0.12" text-anchor="end">-3</text>
<line x1="524.8" y1="336.4" x2="526.3" y2="336.4" stroke="#b0b0b0" stroke-width="0.5"/>
<line x1="630.8" y1="336.4" x2="629.3" y2="336.4" stroke="#b0b0b0" stroke-width="0.5"/>
<text x="522.8" y="338.3" font-size="5.2" fill="#666" stroke="#666" stroke-width="0.12" text-anchor="end">-2</text>
<line x1="524.8" y1="324.3" x2="526.3" y2="324.3" stroke="#b0b0b0" stroke-width="0.5"/>
<line x1="630.8" y1="324.3" x2="629.3" y2="324.3" stroke="#b0b0b0" stroke-width="0.5"/>
<text x="522.8" y="326.2" font-size="5.2" fill="#666" stroke="#666" stroke-width="0.12" text-anchor="end">-1</text>
<line x1="524.8" y1="312.2" x2="526.3" y2="312.2" stroke="#b0b0b0" stroke-width="0.5"/>
<line x1="630.8" y1="312.2" x2="629.3" y2="312.2" stroke="#b0b0b0" stroke-width="0.5"/>
<text x="522.8" y="314.1" font-size="5.2" fill="#666" stroke="#666" stroke-width="0.12" text-anchor="end">0</text>
<line x1="524.8" y1="300.1" x2="526.3" y2="300.1" stroke="#b0b0b0" stroke-width="0.5"/>
<line x1="630.8" y1="300.1" x2="629.3" y2="300.1" stroke="#b0b0b0" stroke-width="0.5"/>
<text x="522.8" y="302.0" font-size="5.2" fill="#666" stroke="#666" stroke-width="0.12" text-anchor="end">1</text>
<line x1="524.8" y1="288.0" x2="526.3" y2="288.0" stroke="#b0b0b0" stroke-width="0.5"/>
<line x1="630.8" y1="288.0" x2="629.3" y2="288.0" stroke="#b0b0b0" stroke-width="0.5"/>
<text x="522.8" y="289.9" font-size="5.2" fill="#666" stroke="#666" stroke-width="0.12" text-anchor="end">2</text>
<line x1="524.8" y1="275.9" x2="526.3" y2="275.9" stroke="#b0b0b0" stroke-width="0.5"/>
<line x1="630.8" y1="275.9" x2="629.3" y2="275.9" stroke="#b0b0b0" stroke-width="0.5"/>
<text x="522.8" y="277.8" font-size="5.2" fill="#666" stroke="#666" stroke-width="0.12" text-anchor="end">3</text>
<text x="577.8" y="374.8" font-size="6.0" fill="#222" stroke="#222" stroke-width="0.12" text-anchor="middle" textLength="60.5" lengthAdjust="spacingAndGlyphs">Metabolomics data CCA1</text>
<text x="516.2" y="319.2" font-size="5.9" fill="#222" stroke="#222" stroke-width="0.12" text-anchor="middle" textLength="61.5" lengthAdjust="spacingAndGlyphs" transform="rotate(-90 516.2 319.2)">Metabolomics data CCA2</text>
<g fill="#0072bd"><rect x="436.4" y="77.9" width="2.0" height="2.0"/><rect x="435.7" y="80.3" width="2.0" height="2.0"/><rect x="426.8" y="77.6" width="2.0" height="2.0"/><rect x="430.9" y="67.2" width="2.0" height="2.0"/><rect x="435.2" y="76.0" width="2.0" height="2.0"/><rect x="437.6" y="72.5" width="2.0" height="2.0"/><rect x="432.2" y="67.5" width="2.0" height="2.0"/><rect x="424.9" y="73.6" width="2.0" height="2.0"/><rect x="431.0" y="71.0" width="2.0" height="2.0"/><rect x="418.2" y="67.1" width="2.0" height="2.0"/><rect x="417.2" y="73.1" width="2.0" height="2.0"/><rect x="437.1" y="79.0" width="2.0" height="2.0"/><rect x="435.5" y="74.7" width="2.0" height="2.0"/><rect x="434.2" y="69.6" width="2.0" height="2.0"/><rect x="436.5" y="75.1" width="2.0" height="2.0"/><rect x="433.1" y="75.2" width="2.0" height="2.0"/><rect x="437.7" y="73.6" width="2.0" height="2.0"/><rect x="425.3" y="69.7" width="2.0" height="2.0"/><rect x="419.5" y="77.3" width="2.0" height="2.0"/><rect x="430.6" y="68.8" width="2.0" height="2.0"/><rect x="432.0" y="75.1" width="2.0" height="2.0"/><rect x="420.8" y="71.0" width="2.0" height="2.0"/><rect x="414.9" y="80.9" width="2.0" height="2.0"/><rect x="423.9" y="72.1" width="2.0" height="2.0"/><rect x="421.4" y="66.6" width="2.0" height="2.0"/><rect x="411.9" y="78.6" width="2.0" height="2.0"/><rect x="420.3" y="79.2" width="2.0" height="2.0"/><rect x="433.3" y="77.1" width="2.0" height="2.0"/><rect x="434.2" y="75.9" width="2.0" height="2.0"/><rect x="437.4" y="72.0" width="2.0" height="2.0"/><rect x="427.6" y="54.8" width="2.0" height="2.0"/><rect x="427.3" y="67.0" width="2.0" height="2.0"/><rect x="436.2" y="75.6" width="2.0" height="2.0"/><rect x="432.4" y="75.8" width="2.0" height="2.0"/><rect x="432.9" y="70.8" width="2.0" height="2.0"/><rect x="419.9" y="73.6" width="2.0" height="2.0"/><rect x="434.9" y="80.7" width="2.0" height="2.0"/><rect x="437.1" y="66.5" width="2.0" height="2.0"/><rect x="435.3" y="72.4" width="2.0" height="2.0"/><rect x="419.9" y="73.3" width="2.0" height="2.0"/><rect x="420.4" y="82.0" width="2.0" height="2.0"/><rect x="429.9" y="72.3" width="2.0" height="2.0"/><rect x="431.5" y="84.8" width="2.0" height="2.0"/><rect x="437.3" y="64.1" width="2.0" height="2.0"/><rect x="436.8" y="69.0" width="2.0" height="2.0"/><rect x="437.5" y="74.9" width="2.0" height="2.0"/><rect x="428.7" y="63.5" width="2.0" height="2.0"/><rect x="429.6" y="68.5" width="2.0" height="2.0"/><rect x="436.6" y="77.1" width="2.0" height="2.0"/><rect x="432.1" y="79.6" width="2.0" height="2.0"/><rect x="435.2" y="78.9" width="2.0" height="2.0"/><rect x="423.4" y="69.4" width="2.0" height="2.0"/><rect x="426.8" y="73.6" width="2.0" height="2.0"/><rect x="422.7" y="65.7" width="2.0" height="2.0"/><rect x="434.3" y="74.1" width="2.0" height="2.0"/><rect x="420.9" y="74.4" width="2.0" height="2.0"/><rect x="425.7" y="74.7" width="2.0" height="2.0"/><rect x="435.7" y="79.1" width="2.0" height="2.0"/><rect x="435.5" y="66.8" width="2.0" height="2.0"/><rect x="432.6" y="80.3" width="2.0" height="2.0"/><rect x="430.4" y="69.2" width="2.0" height="2.0"/><rect x="430.7" y="68.7" width="2.0" height="2.0"/><rect x="433.8" y="69.8" width="2.0" height="2.0"/><rect x="426.6" y="77.7" width="2.0" height="2.0"/><rect x="429.3" y="72.0" width="2.0" height="2.0"/><rect x="436.5" y="68.5" width="2.0" height="2.0"/><rect x="426.3" y="74.9" width="2.0" height="2.0"/><rect x="433.7" y="71.9" width="2.0" height="2.0"/><rect x="434.2" y="72.4" width="2.0" height="2.0"/><rect x="429.7" y="72.7" width="2.0" height="2.0"/><rect x="427.5" y="60.7" width="2.0" height="2.0"/><rect x="426.2" y="78.9" width="2.0" height="2.0"/><rect x="434.5" y="76.2" width="2.0" height="2.0"/><rect x="432.6" y="92.3" width="2.0" height="2.0"/><rect x="419.8" y="69.5" width="2.0" height="2.0"/><rect x="427.3" y="73.4" width="2.0" height="2.0"/><rect x="436.6" y="72.5" width="2.0" height="2.0"/><rect x="422.7" y="68.5" width="2.0" height="2.0"/><rect x="430.4" y="75.6" width="2.0" height="2.0"/><rect x="436.3" y="62.1" width="2.0" height="2.0"/><rect x="422.3" y="77.6" width="2.0" height="2.0"/><rect x="428.3" y="87.8" width="2.0" height="2.0"/><rect x="436.8" y="69.0" width="2.0" height="2.0"/><rect x="431.3" y="76.4" width="2.0" height="2.0"/><rect x="433.8" y="71.2" width="2.0" height="2.0"/><rect x="436.7" y="67.9" width="2.0" height="2.0"/><rect x="427.9" y="71.4" width="2.0" height="2.0"/><rect x="437.7" y="66.8" width="2.0" height="2.0"/><rect x="426.2" y="75.0" width="2.0" height="2.0"/><rect x="420.7" y="55.1" width="2.0" height="2.0"/><rect x="427.6" y="71.2" width="2.0" height="2.0"/><rect x="436.6" y="65.8" width="2.0" height="2.0"/><rect x="422.3" y="76.0" width="2.0" height="2.0"/><rect x="430.5" y="71.2" width="2.0" height="2.0"/><rect x="436.7" y="58.5" width="2.0" height="2.0"/><rect x="421.1" y="75.8" width="2.0" height="2.0"/></g>
<g fill="#d95319"><rect x="438.7" y="81.7" width="2.0" height="2.0"/><rect x="451.2" y="75.4" width="2.0" height="2.0"/><rect x="443.6" y="70.5" width="2.0" height="2.0"/><rect x="446.1" y="72.0" width="2.0" height="2.0"/><rect x="450.1" y="83.7" width="2.0" height="2.0"/><rect x="443.0" y="63.7" width="2.0" height="2.0"/><rect x="444.7" y="85.0" width="2.0" height="2.0"/><rect x="448.7" y="69.4" width="2.0" height="2.0"/><rect x="448.1" y="74.9" width="2.0" height="2.0"/><rect x="444.0" y="75.9" width="2.0" height="2.0"/><rect x="454.8" y="64.8" width="2.0" height="2.0"/><rect x="441.3" y="68.2" width="2.0" height="2.0"/><rect x="452.6" y="71.7" width="2.0" height="2.0"/><rect x="454.0" y="73.0" width="2.0" height="2.0"/><rect x="438.2" y="78.2" width="2.0" height="2.0"/><rect x="446.4" y="88.5" width="2.0" height="2.0"/><rect x="451.3" y="62.5" width="2.0" height="2.0"/><rect x="438.4" y="78.7" width="2.0" height="2.0"/><rect x="437.8" y="78.4" width="2.0" height="2.0"/><rect x="443.2" y="76.4" width="2.0" height="2.0"/><rect x="444.2" y="76.2" width="2.0" height="2.0"/><rect x="443.0" y="84.9" width="2.0" height="2.0"/><rect x="444.4" y="67.7" width="2.0" height="2.0"/><rect x="439.8" y="80.0" width="2.0" height="2.0"/><rect x="469.9" y="78.4" width="2.0" height="2.0"/><rect x="452.0" y="78.5" width="2.0" height="2.0"/><rect x="437.9" y="74.4" width="2.0" height="2.0"/><rect x="447.4" y="74.1" width="2.0" height="2.0"/><rect x="454.7" y="71.2" width="2.0" height="2.0"/><rect x="443.2" y="77.2" width="2.0" height="2.0"/><rect x="440.0" y="70.9" width="2.0" height="2.0"/><rect x="439.5" y="76.2" width="2.0" height="2.0"/><rect x="464.1" y="75.2" width="2.0" height="2.0"/><rect x="457.2" y="69.8" width="2.0" height="2.0"/><rect x="450.0" y="68.3" width="2.0" height="2.0"/><rect x="441.1" y="77.5" width="2.0" height="2.0"/><rect x="452.4" y="65.3" width="2.0" height="2.0"/><rect x="440.0" y="75.1" width="2.0" height="2.0"/><rect x="451.5" y="76.2" width="2.0" height="2.0"/><rect x="438.1" y="60.0" width="2.0" height="2.0"/><rect x="455.2" y="70.9" width="2.0" height="2.0"/><rect x="438.9" y="66.4" width="2.0" height="2.0"/><rect x="459.1" y="71.3" width="2.0" height="2.0"/><rect x="451.5" y="77.9" width="2.0" height="2.0"/><rect x="454.8" y="67.7" width="2.0" height="2.0"/><rect x="454.0" y="72.5" width="2.0" height="2.0"/><rect x="440.6" y="75.8" width="2.0" height="2.0"/><rect x="446.4" y="81.5" width="2.0" height="2.0"/><rect x="441.9" y="86.3" width="2.0" height="2.0"/><rect x="453.1" y="73.3" width="2.0" height="2.0"/><rect x="469.9" y="69.1" width="2.0" height="2.0"/><rect x="456.3" y="70.4" width="2.0" height="2.0"/><rect x="441.2" y="64.7" width="2.0" height="2.0"/><rect x="451.9" y="64.5" width="2.0" height="2.0"/><rect x="439.9" y="73.1" width="2.0" height="2.0"/><rect x="445.7" y="85.9" width="2.0" height="2.0"/><rect x="452.1" y="66.4" width="2.0" height="2.0"/><rect x="440.5" y="76.6" width="2.0" height="2.0"/><rect x="448.5" y="78.3" width="2.0" height="2.0"/><rect x="463.2" y="56.8" width="2.0" height="2.0"/><rect x="445.7" y="70.1" width="2.0" height="2.0"/><rect x="461.6" y="74.6" width="2.0" height="2.0"/><rect x="441.7" y="66.8" width="2.0" height="2.0"/><rect x="452.7" y="68.7" width="2.0" height="2.0"/><rect x="450.7" y="88.4" width="2.0" height="2.0"/><rect x="447.8" y="62.3" width="2.0" height="2.0"/><rect x="444.6" y="74.2" width="2.0" height="2.0"/><rect x="444.6" y="63.7" width="2.0" height="2.0"/><rect x="456.2" y="71.6" width="2.0" height="2.0"/><rect x="452.6" y="71.9" width="2.0" height="2.0"/><rect x="450.5" y="77.6" width="2.0" height="2.0"/><rect x="451.8" y="82.6" width="2.0" height="2.0"/><rect x="472.6" y="85.3" width="2.0" height="2.0"/><rect x="446.4" y="83.2" width="2.0" height="2.0"/><rect x="446.2" y="69.1" width="2.0" height="2.0"/><rect x="440.9" y="75.3" width="2.0" height="2.0"/><rect x="450.1" y="73.6" width="2.0" height="2.0"/><rect x="448.2" y="80.5" width="2.0" height="2.0"/><rect x="441.8" y="86.7" width="2.0" height="2.0"/><rect x="439.7" y="64.9" width="2.0" height="2.0"/><rect x="465.0" y="67.2" width="2.0" height="2.0"/><rect x="442.1" y="66.9" width="2.0" height="2.0"/><rect x="453.2" y="80.6" width="2.0" height="2.0"/><rect x="440.1" y="78.8" width="2.0" height="2.0"/><rect x="442.9" y="77.1" width="2.0" height="2.0"/><rect x="448.8" y="87.1" width="2.0" height="2.0"/><rect x="439.3" y="72.4" width="2.0" height="2.0"/><rect x="443.4" y="71.4" width="2.0" height="2.0"/><rect x="452.3" y="71.9" width="2.0" height="2.0"/><rect x="445.2" y="74.9" width="2.0" height="2.0"/><rect x="443.5" y="78.7" width="2.0" height="2.0"/><rect x="459.2" y="96.2" width="2.0" height="2.0"/><rect x="440.9" y="82.5" width="2.0" height="2.0"/><rect x="446.8" y="72.8" width="2.0" height="2.0"/><rect x="452.4" y="67.7" width="2.0" height="2.0"/><rect x="457.7" y="80.2" width="2.0" height="2.0"/><rect x="447.3" y="75.8" width="2.0" height="2.0"/><rect x="450.7" y="80.4" width="2.0" height="2.0"/><rect x="441.0" y="72.4" width="2.0" height="2.0"/><rect x="446.6" y="71.4" width="2.0" height="2.0"/><rect x="447.1" y="74.6" width="2.0" height="2.0"/><rect x="460.0" y="73.0" width="2.0" height="2.0"/><rect x="440.5" y="66.1" width="2.0" height="2.0"/><rect x="454.2" y="57.6" width="2.0" height="2.0"/><rect x="440.2" y="74.7" width="2.0" height="2.0"/><rect x="454.4" y="74.1" width="2.0" height="2.0"/><rect x="442.9" y="70.1" width="2.0" height="2.0"/><rect x="445.8" y="75.0" width="2.0" height="2.0"/><rect x="451.8" y="82.7" width="2.0" height="2.0"/><rect x="443.6" y="65.8" width="2.0" height="2.0"/><rect x="447.8" y="73.8" width="2.0" height="2.0"/><rect x="441.0" y="76.4" width="2.0" height="2.0"/><rect x="439.0" y="71.2" width="2.0" height="2.0"/><rect x="452.9" y="73.2" width="2.0" height="2.0"/><rect x="440.9" y="71.3" width="2.0" height="2.0"/><rect x="440.8" y="74.4" width="2.0" height="2.0"/><rect x="459.4" y="80.6" width="2.0" height="2.0"/><rect x="439.7" y="73.5" width="2.0" height="2.0"/><rect x="444.9" y="64.1" width="2.0" height="2.0"/><rect x="447.3" y="71.3" width="2.0" height="2.0"/><rect x="442.8" y="71.0" width="2.0" height="2.0"/><rect x="460.3" y="75.6" width="2.0" height="2.0"/><rect x="443.2" y="76.8" width="2.0" height="2.0"/><rect x="444.5" y="64.6" width="2.0" height="2.0"/><rect x="441.9" y="74.0" width="2.0" height="2.0"/><rect x="442.0" y="67.5" width="2.0" height="2.0"/><rect x="454.2" y="64.9" width="2.0" height="2.0"/><rect x="443.0" y="71.6" width="2.0" height="2.0"/><rect x="440.9" y="69.2" width="2.0" height="2.0"/><rect x="440.2" y="77.6" width="2.0" height="2.0"/><rect x="439.8" y="75.3" width="2.0" height="2.0"/><rect x="448.0" y="65.3" width="2.0" height="2.0"/><rect x="447.9" y="71.6" width="2.0" height="2.0"/><rect x="439.5" y="60.8" width="2.0" height="2.0"/><rect x="471.7" y="68.5" width="2.0" height="2.0"/><rect x="440.3" y="71.0" width="2.0" height="2.0"/><rect x="455.3" y="74.5" width="2.0" height="2.0"/><rect x="452.7" y="77.1" width="2.0" height="2.0"/><rect x="449.6" y="76.9" width="2.0" height="2.0"/><rect x="444.9" y="86.1" width="2.0" height="2.0"/><rect x="442.5" y="73.1" width="2.0" height="2.0"/><rect x="459.9" y="75.1" width="2.0" height="2.0"/><rect x="444.5" y="70.0" width="2.0" height="2.0"/><rect x="449.9" y="83.7" width="2.0" height="2.0"/><rect x="438.7" y="65.2" width="2.0" height="2.0"/><rect x="445.5" y="74.5" width="2.0" height="2.0"/><rect x="450.8" y="83.4" width="2.0" height="2.0"/><rect x="448.0" y="76.2" width="2.0" height="2.0"/><rect x="443.7" y="81.1" width="2.0" height="2.0"/></g>
<g fill="#0072bd"><rect x="575.7" y="75.2" width="2.0" height="2.0"/><rect x="571.0" y="77.9" width="2.0" height="2.0"/><rect x="565.6" y="70.7" width="2.0" height="2.0"/><rect x="569.5" y="82.2" width="2.0" height="2.0"/><rect x="573.0" y="63.1" width="2.0" height="2.0"/><rect x="569.6" y="76.3" width="2.0" height="2.0"/><rect x="562.9" y="82.1" width="2.0" height="2.0"/><rect x="562.1" y="77.1" width="2.0" height="2.0"/><rect x="564.1" y="70.6" width="2.0" height="2.0"/><rect x="559.4" y="83.8" width="2.0" height="2.0"/><rect x="570.5" y="67.5" width="2.0" height="2.0"/><rect x="579.8" y="65.9" width="2.0" height="2.0"/><rect x="579.0" y="79.5" width="2.0" height="2.0"/><rect x="573.4" y="70.5" width="2.0" height="2.0"/><rect x="574.0" y="69.4" width="2.0" height="2.0"/><rect x="572.3" y="82.9" width="2.0" height="2.0"/><rect x="571.2" y="80.2" width="2.0" height="2.0"/><rect x="568.3" y="67.4" width="2.0" height="2.0"/><rect x="554.7" y="76.5" width="2.0" height="2.0"/><rect x="568.9" y="65.0" width="2.0" height="2.0"/><rect x="586.3" y="89.4" width="2.0" height="2.0"/><rect x="555.1" y="74.9" width="2.0" height="2.0"/><rect x="559.5" y="68.9" width="2.0" height="2.0"/><rect x="559.8" y="90.0" width="2.0" height="2.0"/><rect x="550.1" y="79.2" width="2.0" height="2.0"/><rect x="546.6" y="100.7" width="2.0" height="2.0"/><rect x="552.3" y="67.4" width="2.0" height="2.0"/><rect x="565.9" y="84.9" width="2.0" height="2.0"/><rect x="565.7" y="93.6" width="2.0" height="2.0"/><rect x="573.0" y="75.2" width="2.0" height="2.0"/><rect x="567.5" y="89.4" width="2.0" height="2.0"/><rect x="564.5" y="86.4" width="2.0" height="2.0"/><rect x="573.9" y="55.3" width="2.0" height="2.0"/><rect x="569.2" y="83.2" width="2.0" height="2.0"/><rect x="574.4" y="67.6" width="2.0" height="2.0"/><rect x="557.0" y="74.8" width="2.0" height="2.0"/><rect x="566.0" y="89.3" width="2.0" height="2.0"/><rect x="576.4" y="84.2" width="2.0" height="2.0"/><rect x="570.5" y="73.0" width="2.0" height="2.0"/><rect x="555.4" y="74.8" width="2.0" height="2.0"/><rect x="562.5" y="57.2" width="2.0" height="2.0"/><rect x="560.0" y="89.8" width="2.0" height="2.0"/><rect x="567.6" y="91.7" width="2.0" height="2.0"/><rect x="571.7" y="66.2" width="2.0" height="2.0"/><rect x="589.2" y="64.6" width="2.0" height="2.0"/><rect x="571.6" y="75.8" width="2.0" height="2.0"/><rect x="567.0" y="75.2" width="2.0" height="2.0"/><rect x="563.9" y="82.9" width="2.0" height="2.0"/><rect x="579.5" y="85.6" width="2.0" height="2.0"/><rect x="567.4" y="87.6" width="2.0" height="2.0"/><rect x="576.2" y="67.9" width="2.0" height="2.0"/><rect x="558.4" y="75.8" width="2.0" height="2.0"/><rect x="580.3" y="97.4" width="2.0" height="2.0"/><rect x="557.0" y="68.7" width="2.0" height="2.0"/><rect x="574.8" y="82.0" width="2.0" height="2.0"/><rect x="562.0" y="87.6" width="2.0" height="2.0"/><rect x="560.3" y="70.1" width="2.0" height="2.0"/><rect x="573.8" y="77.8" width="2.0" height="2.0"/><rect x="566.1" y="78.5" width="2.0" height="2.0"/><rect x="584.3" y="82.3" width="2.0" height="2.0"/><rect x="577.5" y="71.1" width="2.0" height="2.0"/><rect x="575.3" y="76.0" width="2.0" height="2.0"/><rect x="569.9" y="82.9" width="2.0" height="2.0"/><rect x="565.8" y="71.3" width="2.0" height="2.0"/><rect x="563.4" y="86.5" width="2.0" height="2.0"/><rect x="578.7" y="77.0" width="2.0" height="2.0"/><rect x="568.2" y="80.9" width="2.0" height="2.0"/><rect x="559.5" y="83.9" width="2.0" height="2.0"/><rect x="570.1" y="92.1" width="2.0" height="2.0"/><rect x="553.3" y="70.5" width="2.0" height="2.0"/><rect x="570.0" y="73.9" width="2.0" height="2.0"/><rect x="562.1" y="95.3" width="2.0" height="2.0"/><rect x="573.2" y="86.7" width="2.0" height="2.0"/><rect x="579.9" y="79.4" width="2.0" height="2.0"/><rect x="559.7" y="70.6" width="2.0" height="2.0"/><rect x="569.5" y="83.4" width="2.0" height="2.0"/><rect x="554.9" y="74.7" width="2.0" height="2.0"/><rect x="560.5" y="80.0" width="2.0" height="2.0"/><rect x="570.5" y="73.2" width="2.0" height="2.0"/><rect x="572.4" y="81.3" width="2.0" height="2.0"/><rect x="564.4" y="80.1" width="2.0" height="2.0"/><rect x="573.0" y="67.7" width="2.0" height="2.0"/><rect x="562.6" y="91.5" width="2.0" height="2.0"/><rect x="572.0" y="95.6" width="2.0" height="2.0"/><rect x="562.8" y="85.7" width="2.0" height="2.0"/><rect x="582.5" y="80.8" width="2.0" height="2.0"/><rect x="560.4" y="83.2" width="2.0" height="2.0"/><rect x="554.8" y="81.5" width="2.0" height="2.0"/><rect x="567.0" y="80.8" width="2.0" height="2.0"/><rect x="560.7" y="96.7" width="2.0" height="2.0"/><rect x="566.8" y="67.8" width="2.0" height="2.0"/><rect x="573.2" y="76.9" width="2.0" height="2.0"/><rect x="561.2" y="86.0" width="2.0" height="2.0"/><rect x="572.1" y="71.1" width="2.0" height="2.0"/><rect x="568.6" y="76.6" width="2.0" height="2.0"/><rect x="557.2" y="88.7" width="2.0" height="2.0"/></g>
<g fill="#d95319"><rect x="569.0" y="56.4" width="2.0" height="2.0"/><rect x="582.9" y="68.1" width="2.0" height="2.0"/><rect x="584.9" y="59.1" width="2.0" height="2.0"/><rect x="597.3" y="69.4" width="2.0" height="2.0"/><rect x="585.9" y="76.8" width="2.0" height="2.0"/><rect x="576.6" y="61.3" width="2.0" height="2.0"/><rect x="577.8" y="57.2" width="2.0" height="2.0"/><rect x="576.8" y="76.4" width="2.0" height="2.0"/><rect x="589.9" y="76.2" width="2.0" height="2.0"/><rect x="588.2" y="70.1" width="2.0" height="2.0"/><rect x="585.7" y="81.8" width="2.0" height="2.0"/><rect x="579.3" y="63.6" width="2.0" height="2.0"/><rect x="591.5" y="71.3" width="2.0" height="2.0"/><rect x="576.0" y="84.8" width="2.0" height="2.0"/><rect x="566.3" y="103.2" width="2.0" height="2.0"/><rect x="586.9" y="91.6" width="2.0" height="2.0"/><rect x="574.1" y="75.4" width="2.0" height="2.0"/><rect x="571.9" y="69.0" width="2.0" height="2.0"/><rect x="584.8" y="92.6" width="2.0" height="2.0"/><rect x="575.5" y="93.4" width="2.0" height="2.0"/><rect x="593.4" y="89.7" width="2.0" height="2.0"/><rect x="589.3" y="68.2" width="2.0" height="2.0"/><rect x="586.5" y="74.3" width="2.0" height="2.0"/><rect x="585.4" y="86.1" width="2.0" height="2.0"/><rect x="614.8" y="66.7" width="2.0" height="2.0"/><rect x="593.8" y="77.7" width="2.0" height="2.0"/><rect x="582.8" y="73.2" width="2.0" height="2.0"/><rect x="571.7" y="73.8" width="2.0" height="2.0"/><rect x="583.7" y="79.6" width="2.0" height="2.0"/><rect x="582.2" y="80.4" width="2.0" height="2.0"/><rect x="581.4" y="86.2" width="2.0" height="2.0"/><rect x="573.1" y="70.5" width="2.0" height="2.0"/><rect x="604.5" y="76.6" width="2.0" height="2.0"/><rect x="595.2" y="93.3" width="2.0" height="2.0"/><rect x="588.6" y="75.6" width="2.0" height="2.0"/><rect x="579.1" y="81.2" width="2.0" height="2.0"/><rect x="584.0" y="83.2" width="2.0" height="2.0"/><rect x="578.1" y="88.2" width="2.0" height="2.0"/><rect x="587.3" y="65.7" width="2.0" height="2.0"/><rect x="565.2" y="75.2" width="2.0" height="2.0"/><rect x="592.9" y="78.3" width="2.0" height="2.0"/><rect x="578.0" y="71.3" width="2.0" height="2.0"/><rect x="598.1" y="67.5" width="2.0" height="2.0"/><rect x="591.5" y="75.6" width="2.0" height="2.0"/><rect x="583.3" y="54.0" width="2.0" height="2.0"/><rect x="581.9" y="84.3" width="2.0" height="2.0"/><rect x="570.4" y="58.7" width="2.0" height="2.0"/><rect x="576.8" y="64.2" width="2.0" height="2.0"/><rect x="562.8" y="70.5" width="2.0" height="2.0"/><rect x="586.7" y="84.8" width="2.0" height="2.0"/><rect x="595.5" y="78.2" width="2.0" height="2.0"/><rect x="586.9" y="60.3" width="2.0" height="2.0"/><rect x="576.3" y="87.2" width="2.0" height="2.0"/><rect x="586.0" y="86.4" width="2.0" height="2.0"/><rect x="577.1" y="61.6" width="2.0" height="2.0"/><rect x="572.9" y="69.5" width="2.0" height="2.0"/><rect x="590.7" y="82.9" width="2.0" height="2.0"/><rect x="572.0" y="58.4" width="2.0" height="2.0"/><rect x="586.0" y="74.2" width="2.0" height="2.0"/><rect x="589.9" y="94.9" width="2.0" height="2.0"/><rect x="581.4" y="74.6" width="2.0" height="2.0"/><rect x="597.8" y="67.0" width="2.0" height="2.0"/><rect x="580.4" y="80.4" width="2.0" height="2.0"/><rect x="588.0" y="80.9" width="2.0" height="2.0"/><rect x="576.8" y="73.9" width="2.0" height="2.0"/><rect x="568.4" y="72.6" width="2.0" height="2.0"/><rect x="565.3" y="85.7" width="2.0" height="2.0"/><rect x="577.9" y="67.5" width="2.0" height="2.0"/><rect x="588.4" y="64.9" width="2.0" height="2.0"/><rect x="596.6" y="80.7" width="2.0" height="2.0"/><rect x="592.3" y="77.7" width="2.0" height="2.0"/><rect x="589.0" y="82.3" width="2.0" height="2.0"/><rect x="611.5" y="82.9" width="2.0" height="2.0"/><rect x="585.0" y="88.3" width="2.0" height="2.0"/><rect x="583.7" y="70.7" width="2.0" height="2.0"/><rect x="577.6" y="75.9" width="2.0" height="2.0"/><rect x="578.7" y="77.4" width="2.0" height="2.0"/><rect x="573.8" y="84.9" width="2.0" height="2.0"/><rect x="573.4" y="69.9" width="2.0" height="2.0"/><rect x="578.3" y="79.9" width="2.0" height="2.0"/><rect x="604.4" y="56.9" width="2.0" height="2.0"/><rect x="590.5" y="71.9" width="2.0" height="2.0"/><rect x="583.0" y="70.4" width="2.0" height="2.0"/><rect x="566.6" y="59.4" width="2.0" height="2.0"/><rect x="591.9" y="78.4" width="2.0" height="2.0"/><rect x="586.8" y="61.0" width="2.0" height="2.0"/><rect x="582.7" y="70.5" width="2.0" height="2.0"/><rect x="568.3" y="76.4" width="2.0" height="2.0"/><rect x="583.9" y="95.1" width="2.0" height="2.0"/><rect x="573.3" y="68.0" width="2.0" height="2.0"/><rect x="581.8" y="102.6" width="2.0" height="2.0"/><rect x="582.2" y="80.6" width="2.0" height="2.0"/><rect x="578.5" y="77.6" width="2.0" height="2.0"/><rect x="584.5" y="60.4" width="2.0" height="2.0"/><rect x="584.7" y="70.3" width="2.0" height="2.0"/><rect x="595.3" y="81.5" width="2.0" height="2.0"/><rect x="566.4" y="77.3" width="2.0" height="2.0"/><rect x="581.4" y="70.9" width="2.0" height="2.0"/><rect x="558.6" y="85.5" width="2.0" height="2.0"/><rect x="575.0" y="77.5" width="2.0" height="2.0"/><rect x="586.4" y="84.6" width="2.0" height="2.0"/><rect x="589.1" y="78.2" width="2.0" height="2.0"/><rect x="575.7" y="51.7" width="2.0" height="2.0"/><rect x="586.0" y="68.9" width="2.0" height="2.0"/><rect x="580.7" y="63.6" width="2.0" height="2.0"/><rect x="593.9" y="87.5" width="2.0" height="2.0"/><rect x="590.4" y="71.3" width="2.0" height="2.0"/><rect x="587.4" y="70.8" width="2.0" height="2.0"/><rect x="590.9" y="59.7" width="2.0" height="2.0"/><rect x="585.7" y="82.7" width="2.0" height="2.0"/><rect x="585.0" y="58.3" width="2.0" height="2.0"/><rect x="572.1" y="69.6" width="2.0" height="2.0"/><rect x="578.2" y="64.5" width="2.0" height="2.0"/><rect x="583.1" y="84.2" width="2.0" height="2.0"/><rect x="571.4" y="92.3" width="2.0" height="2.0"/><rect x="589.0" y="61.0" width="2.0" height="2.0"/><rect x="601.0" y="69.7" width="2.0" height="2.0"/><rect x="577.5" y="72.7" width="2.0" height="2.0"/><rect x="575.8" y="56.2" width="2.0" height="2.0"/><rect x="570.6" y="83.1" width="2.0" height="2.0"/><rect x="567.1" y="60.8" width="2.0" height="2.0"/><rect x="592.8" y="79.5" width="2.0" height="2.0"/><rect x="571.4" y="85.5" width="2.0" height="2.0"/><rect x="581.3" y="68.8" width="2.0" height="2.0"/><rect x="577.9" y="67.4" width="2.0" height="2.0"/><rect x="569.8" y="60.1" width="2.0" height="2.0"/><rect x="601.2" y="75.5" width="2.0" height="2.0"/><rect x="589.6" y="76.6" width="2.0" height="2.0"/><rect x="584.5" y="61.4" width="2.0" height="2.0"/><rect x="579.6" y="68.5" width="2.0" height="2.0"/><rect x="581.5" y="64.5" width="2.0" height="2.0"/><rect x="581.7" y="87.6" width="2.0" height="2.0"/><rect x="583.8" y="70.1" width="2.0" height="2.0"/><rect x="573.4" y="67.6" width="2.0" height="2.0"/><rect x="603.3" y="75.1" width="2.0" height="2.0"/><rect x="577.4" y="64.4" width="2.0" height="2.0"/><rect x="589.9" y="90.4" width="2.0" height="2.0"/><rect x="583.9" y="73.4" width="2.0" height="2.0"/><rect x="586.0" y="67.8" width="2.0" height="2.0"/><rect x="577.8" y="78.5" width="2.0" height="2.0"/><rect x="577.8" y="79.4" width="2.0" height="2.0"/><rect x="597.4" y="89.2" width="2.0" height="2.0"/><rect x="593.9" y="77.6" width="2.0" height="2.0"/><rect x="584.9" y="67.8" width="2.0" height="2.0"/><rect x="570.9" y="44.2" width="2.0" height="2.0"/><rect x="586.2" y="71.4" width="2.0" height="2.0"/><rect x="594.8" y="76.0" width="2.0" height="2.0"/><rect x="577.0" y="73.6" width="2.0" height="2.0"/><rect x="584.6" y="87.5" width="2.0" height="2.0"/></g>
<g fill="#0072bd"><rect x="438.7" y="199.1" width="2.0" height="2.0"/><rect x="443.6" y="187.8" width="2.0" height="2.0"/><rect x="446.1" y="189.4" width="2.0" height="2.0"/><rect x="443.0" y="180.9" width="2.0" height="2.0"/><rect x="444.7" y="202.4" width="2.0" height="2.0"/><rect x="448.7" y="186.7" width="2.0" height="2.0"/><rect x="448.1" y="192.2" width="2.0" height="2.0"/><rect x="444.0" y="193.2" width="2.0" height="2.0"/><rect x="441.3" y="185.5" width="2.0" height="2.0"/><rect x="438.2" y="195.6" width="2.0" height="2.0"/><rect x="446.4" y="205.9" width="2.0" height="2.0"/><rect x="438.4" y="196.0" width="2.0" height="2.0"/><rect x="437.8" y="195.8" width="2.0" height="2.0"/><rect x="443.2" y="193.8" width="2.0" height="2.0"/><rect x="444.2" y="193.6" width="2.0" height="2.0"/><rect x="443.0" y="202.2" width="2.0" height="2.0"/><rect x="444.4" y="185.0" width="2.0" height="2.0"/><rect x="439.8" y="197.4" width="2.0" height="2.0"/><rect x="437.9" y="191.8" width="2.0" height="2.0"/><rect x="447.4" y="191.4" width="2.0" height="2.0"/><rect x="443.2" y="194.6" width="2.0" height="2.0"/><rect x="440.0" y="188.2" width="2.0" height="2.0"/><rect x="439.5" y="193.6" width="2.0" height="2.0"/><rect x="441.1" y="194.8" width="2.0" height="2.0"/><rect x="440.0" y="192.4" width="2.0" height="2.0"/><rect x="438.1" y="177.3" width="2.0" height="2.0"/><rect x="438.9" y="183.7" width="2.0" height="2.0"/><rect x="440.6" y="193.2" width="2.0" height="2.0"/><rect x="446.4" y="198.8" width="2.0" height="2.0"/><rect x="441.9" y="203.6" width="2.0" height="2.0"/><rect x="441.2" y="182.0" width="2.0" height="2.0"/><rect x="439.9" y="190.4" width="2.0" height="2.0"/><rect x="445.7" y="203.3" width="2.0" height="2.0"/><rect x="440.5" y="193.9" width="2.0" height="2.0"/><rect x="448.5" y="195.6" width="2.0" height="2.0"/><rect x="445.7" y="187.4" width="2.0" height="2.0"/><rect x="441.7" y="184.1" width="2.0" height="2.0"/><rect x="447.8" y="179.5" width="2.0" height="2.0"/><rect x="444.6" y="191.5" width="2.0" height="2.0"/><rect x="444.6" y="181.0" width="2.0" height="2.0"/><rect x="446.4" y="200.5" width="2.0" height="2.0"/><rect x="446.2" y="186.4" width="2.0" height="2.0"/><rect x="440.9" y="192.6" width="2.0" height="2.0"/><rect x="448.2" y="197.9" width="2.0" height="2.0"/><rect x="441.8" y="204.1" width="2.0" height="2.0"/><rect x="439.7" y="182.2" width="2.0" height="2.0"/><rect x="442.1" y="184.2" width="2.0" height="2.0"/><rect x="440.1" y="196.1" width="2.0" height="2.0"/><rect x="442.9" y="194.4" width="2.0" height="2.0"/><rect x="448.8" y="204.4" width="2.0" height="2.0"/><rect x="439.3" y="189.7" width="2.0" height="2.0"/><rect x="443.4" y="188.7" width="2.0" height="2.0"/><rect x="445.2" y="192.2" width="2.0" height="2.0"/><rect x="443.5" y="196.1" width="2.0" height="2.0"/><rect x="440.9" y="199.9" width="2.0" height="2.0"/><rect x="446.8" y="190.1" width="2.0" height="2.0"/><rect x="447.3" y="193.2" width="2.0" height="2.0"/><rect x="441.0" y="189.7" width="2.0" height="2.0"/><rect x="446.6" y="188.7" width="2.0" height="2.0"/><rect x="447.1" y="191.9" width="2.0" height="2.0"/><rect x="440.5" y="183.4" width="2.0" height="2.0"/><rect x="440.2" y="192.0" width="2.0" height="2.0"/><rect x="442.9" y="187.4" width="2.0" height="2.0"/><rect x="445.8" y="192.3" width="2.0" height="2.0"/><rect x="443.6" y="183.1" width="2.0" height="2.0"/><rect x="447.8" y="191.1" width="2.0" height="2.0"/><rect x="441.0" y="193.7" width="2.0" height="2.0"/><rect x="439.0" y="188.5" width="2.0" height="2.0"/><rect x="440.9" y="188.6" width="2.0" height="2.0"/><rect x="440.8" y="191.7" width="2.0" height="2.0"/><rect x="439.7" y="190.8" width="2.0" height="2.0"/><rect x="444.9" y="181.4" width="2.0" height="2.0"/><rect x="447.3" y="188.6" width="2.0" height="2.0"/><rect x="442.8" y="188.3" width="2.0" height="2.0"/><rect x="443.2" y="194.1" width="2.0" height="2.0"/><rect x="444.5" y="181.9" width="2.0" height="2.0"/><rect x="441.9" y="191.4" width="2.0" height="2.0"/><rect x="442.0" y="184.8" width="2.0" height="2.0"/><rect x="443.0" y="188.9" width="2.0" height="2.0"/><rect x="440.9" y="186.5" width="2.0" height="2.0"/><rect x="440.2" y="194.9" width="2.0" height="2.0"/><rect x="439.8" y="192.6" width="2.0" height="2.0"/><rect x="448.0" y="182.6" width="2.0" height="2.0"/><rect x="447.9" y="188.9" width="2.0" height="2.0"/><rect x="439.5" y="178.1" width="2.0" height="2.0"/><rect x="440.3" y="188.3" width="2.0" height="2.0"/><rect x="449.6" y="194.2" width="2.0" height="2.0"/><rect x="444.9" y="203.5" width="2.0" height="2.0"/><rect x="442.5" y="190.4" width="2.0" height="2.0"/><rect x="444.5" y="187.3" width="2.0" height="2.0"/><rect x="449.9" y="201.1" width="2.0" height="2.0"/><rect x="438.7" y="182.5" width="2.0" height="2.0"/><rect x="445.5" y="191.8" width="2.0" height="2.0"/><rect x="448.0" y="193.5" width="2.0" height="2.0"/><rect x="443.7" y="198.4" width="2.0" height="2.0"/></g>
<g fill="#d95319"><rect x="418.2" y="184.4" width="2.0" height="2.0"/><rect x="417.2" y="190.4" width="2.0" height="2.0"/><rect x="419.5" y="194.6" width="2.0" height="2.0"/><rect x="420.8" y="188.3" width="2.0" height="2.0"/><rect x="414.9" y="198.3" width="2.0" height="2.0"/><rect x="423.9" y="189.4" width="2.0" height="2.0"/><rect x="421.4" y="183.9" width="2.0" height="2.0"/><rect x="411.9" y="195.9" width="2.0" height="2.0"/><rect x="420.3" y="196.6" width="2.0" height="2.0"/><rect x="419.9" y="190.9" width="2.0" height="2.0"/><rect x="419.9" y="190.6" width="2.0" height="2.0"/><rect x="420.4" y="199.4" width="2.0" height="2.0"/><rect x="423.4" y="186.7" width="2.0" height="2.0"/><rect x="422.7" y="182.9" width="2.0" height="2.0"/><rect x="420.9" y="191.7" width="2.0" height="2.0"/><rect x="419.8" y="186.8" width="2.0" height="2.0"/><rect x="422.7" y="185.8" width="2.0" height="2.0"/><rect x="422.3" y="194.9" width="2.0" height="2.0"/><rect x="420.7" y="172.4" width="2.0" height="2.0"/><rect x="422.3" y="193.3" width="2.0" height="2.0"/><rect x="421.1" y="193.1" width="2.0" height="2.0"/></g>
<g fill="#edb120"><rect x="436.4" y="195.2" width="2.0" height="2.0"/><rect x="435.7" y="197.7" width="2.0" height="2.0"/><rect x="426.8" y="194.9" width="2.0" height="2.0"/><rect x="430.9" y="184.5" width="2.0" height="2.0"/><rect x="435.2" y="193.4" width="2.0" height="2.0"/><rect x="437.6" y="189.8" width="2.0" height="2.0"/><rect x="432.2" y="184.8" width="2.0" height="2.0"/><rect x="424.9" y="191.0" width="2.0" height="2.0"/><rect x="431.0" y="188.3" width="2.0" height="2.0"/><rect x="437.1" y="196.3" width="2.0" height="2.0"/><rect x="435.5" y="192.0" width="2.0" height="2.0"/><rect x="434.2" y="186.9" width="2.0" height="2.0"/><rect x="436.5" y="192.4" width="2.0" height="2.0"/><rect x="433.1" y="192.5" width="2.0" height="2.0"/><rect x="437.7" y="190.9" width="2.0" height="2.0"/><rect x="425.3" y="187.0" width="2.0" height="2.0"/><rect x="430.6" y="186.1" width="2.0" height="2.0"/><rect x="432.0" y="192.4" width="2.0" height="2.0"/><rect x="433.3" y="194.4" width="2.0" height="2.0"/><rect x="434.2" y="193.3" width="2.0" height="2.0"/><rect x="437.4" y="189.3" width="2.0" height="2.0"/><rect x="427.6" y="172.1" width="2.0" height="2.0"/><rect x="427.3" y="184.3" width="2.0" height="2.0"/><rect x="436.2" y="192.9" width="2.0" height="2.0"/><rect x="432.4" y="193.1" width="2.0" height="2.0"/><rect x="432.9" y="188.1" width="2.0" height="2.0"/><rect x="434.9" y="198.0" width="2.0" height="2.0"/><rect x="437.1" y="183.8" width="2.0" height="2.0"/><rect x="435.3" y="189.8" width="2.0" height="2.0"/><rect x="429.9" y="189.6" width="2.0" height="2.0"/><rect x="431.5" y="202.1" width="2.0" height="2.0"/><rect x="437.3" y="181.4" width="2.0" height="2.0"/><rect x="436.8" y="186.3" width="2.0" height="2.0"/><rect x="437.5" y="192.2" width="2.0" height="2.0"/><rect x="428.7" y="180.8" width="2.0" height="2.0"/><rect x="429.6" y="185.8" width="2.0" height="2.0"/><rect x="436.6" y="194.4" width="2.0" height="2.0"/><rect x="432.1" y="196.9" width="2.0" height="2.0"/><rect x="435.2" y="196.3" width="2.0" height="2.0"/><rect x="426.8" y="191.0" width="2.0" height="2.0"/><rect x="434.3" y="191.4" width="2.0" height="2.0"/><rect x="425.7" y="192.0" width="2.0" height="2.0"/><rect x="435.7" y="196.5" width="2.0" height="2.0"/><rect x="435.5" y="184.1" width="2.0" height="2.0"/><rect x="432.6" y="197.7" width="2.0" height="2.0"/><rect x="430.4" y="186.5" width="2.0" height="2.0"/><rect x="430.7" y="186.0" width="2.0" height="2.0"/><rect x="433.8" y="187.1" width="2.0" height="2.0"/><rect x="426.6" y="195.0" width="2.0" height="2.0"/><rect x="429.3" y="189.3" width="2.0" height="2.0"/><rect x="436.5" y="185.8" width="2.0" height="2.0"/><rect x="426.3" y="192.2" width="2.0" height="2.0"/><rect x="433.7" y="189.2" width="2.0" height="2.0"/><rect x="434.2" y="189.7" width="2.0" height="2.0"/><rect x="429.7" y="190.0" width="2.0" height="2.0"/><rect x="427.5" y="177.9" width="2.0" height="2.0"/><rect x="426.2" y="196.3" width="2.0" height="2.0"/><rect x="434.5" y="193.5" width="2.0" height="2.0"/><rect x="432.6" y="209.7" width="2.0" height="2.0"/><rect x="427.3" y="190.7" width="2.0" height="2.0"/><rect x="436.6" y="189.8" width="2.0" height="2.0"/><rect x="430.4" y="192.9" width="2.0" height="2.0"/><rect x="436.3" y="179.4" width="2.0" height="2.0"/><rect x="428.3" y="205.1" width="2.0" height="2.0"/><rect x="436.8" y="186.3" width="2.0" height="2.0"/><rect x="431.3" y="193.7" width="2.0" height="2.0"/><rect x="433.8" y="188.5" width="2.0" height="2.0"/><rect x="436.7" y="185.2" width="2.0" height="2.0"/><rect x="427.9" y="188.7" width="2.0" height="2.0"/><rect x="437.7" y="184.1" width="2.0" height="2.0"/><rect x="426.2" y="192.4" width="2.0" height="2.0"/><rect x="427.6" y="188.5" width="2.0" height="2.0"/><rect x="436.6" y="183.1" width="2.0" height="2.0"/><rect x="430.5" y="188.5" width="2.0" height="2.0"/><rect x="436.7" y="175.7" width="2.0" height="2.0"/></g>
<g fill="#7e2f8e"><rect x="451.2" y="192.7" width="2.0" height="2.0"/><rect x="450.1" y="201.1" width="2.0" height="2.0"/><rect x="454.8" y="182.1" width="2.0" height="2.0"/><rect x="452.6" y="189.0" width="2.0" height="2.0"/><rect x="454.0" y="190.4" width="2.0" height="2.0"/><rect x="451.3" y="179.8" width="2.0" height="2.0"/><rect x="469.9" y="195.8" width="2.0" height="2.0"/><rect x="452.0" y="195.8" width="2.0" height="2.0"/><rect x="454.7" y="188.5" width="2.0" height="2.0"/><rect x="464.1" y="192.6" width="2.0" height="2.0"/><rect x="457.2" y="187.1" width="2.0" height="2.0"/><rect x="450.0" y="185.6" width="2.0" height="2.0"/><rect x="452.4" y="182.5" width="2.0" height="2.0"/><rect x="451.5" y="193.6" width="2.0" height="2.0"/><rect x="455.2" y="188.2" width="2.0" height="2.0"/><rect x="459.1" y="188.6" width="2.0" height="2.0"/><rect x="451.5" y="195.3" width="2.0" height="2.0"/><rect x="454.8" y="185.0" width="2.0" height="2.0"/><rect x="454.0" y="189.8" width="2.0" height="2.0"/><rect x="453.1" y="190.6" width="2.0" height="2.0"/><rect x="469.9" y="186.4" width="2.0" height="2.0"/><rect x="456.3" y="187.7" width="2.0" height="2.0"/><rect x="451.9" y="181.8" width="2.0" height="2.0"/><rect x="452.1" y="183.7" width="2.0" height="2.0"/><rect x="463.2" y="174.1" width="2.0" height="2.0"/><rect x="461.6" y="191.9" width="2.0" height="2.0"/><rect x="452.7" y="186.0" width="2.0" height="2.0"/><rect x="450.7" y="205.8" width="2.0" height="2.0"/><rect x="456.2" y="188.9" width="2.0" height="2.0"/><rect x="452.6" y="189.2" width="2.0" height="2.0"/><rect x="450.5" y="194.9" width="2.0" height="2.0"/><rect x="451.8" y="200.0" width="2.0" height="2.0"/><rect x="472.6" y="202.6" width="2.0" height="2.0"/><rect x="450.1" y="190.9" width="2.0" height="2.0"/><rect x="465.0" y="184.5" width="2.0" height="2.0"/><rect x="453.2" y="198.0" width="2.0" height="2.0"/><rect x="452.3" y="189.2" width="2.0" height="2.0"/><rect x="459.2" y="213.6" width="2.0" height="2.0"/><rect x="452.4" y="185.0" width="2.0" height="2.0"/><rect x="457.7" y="197.5" width="2.0" height="2.0"/><rect x="450.7" y="197.8" width="2.0" height="2.0"/><rect x="460.0" y="190.3" width="2.0" height="2.0"/><rect x="454.2" y="174.9" width="2.0" height="2.0"/><rect x="454.4" y="191.4" width="2.0" height="2.0"/><rect x="451.8" y="200.0" width="2.0" height="2.0"/><rect x="452.9" y="190.6" width="2.0" height="2.0"/><rect x="459.4" y="198.0" width="2.0" height="2.0"/><rect x="460.3" y="192.9" width="2.0" height="2.0"/><rect x="454.2" y="182.2" width="2.0" height="2.0"/><rect x="471.7" y="185.8" width="2.0" height="2.0"/><rect x="455.3" y="191.8" width="2.0" height="2.0"/><rect x="452.7" y="194.5" width="2.0" height="2.0"/><rect x="459.9" y="192.5" width="2.0" height="2.0"/><rect x="450.8" y="200.8" width="2.0" height="2.0"/></g>
<g fill="#0072bd"><rect x="569.0" y="173.7" width="2.0" height="2.0"/><rect x="584.9" y="176.3" width="2.0" height="2.0"/><rect x="597.3" y="186.7" width="2.0" height="2.0"/><rect x="576.6" y="178.6" width="2.0" height="2.0"/><rect x="577.8" y="174.5" width="2.0" height="2.0"/><rect x="576.8" y="193.7" width="2.0" height="2.0"/><rect x="589.9" y="193.5" width="2.0" height="2.0"/><rect x="588.2" y="187.4" width="2.0" height="2.0"/><rect x="579.3" y="180.8" width="2.0" height="2.0"/><rect x="566.3" y="220.6" width="2.0" height="2.0"/><rect x="586.9" y="209.0" width="2.0" height="2.0"/><rect x="571.9" y="186.3" width="2.0" height="2.0"/><rect x="584.8" y="210.0" width="2.0" height="2.0"/><rect x="575.5" y="210.8" width="2.0" height="2.0"/><rect x="593.4" y="207.0" width="2.0" height="2.0"/><rect x="589.3" y="185.5" width="2.0" height="2.0"/><rect x="586.5" y="191.6" width="2.0" height="2.0"/><rect x="585.4" y="203.4" width="2.0" height="2.0"/><rect x="582.8" y="190.5" width="2.0" height="2.0"/><rect x="571.7" y="191.1" width="2.0" height="2.0"/><rect x="582.2" y="197.7" width="2.0" height="2.0"/><rect x="581.4" y="203.5" width="2.0" height="2.0"/><rect x="573.1" y="187.8" width="2.0" height="2.0"/><rect x="579.1" y="198.6" width="2.0" height="2.0"/><rect x="578.1" y="205.6" width="2.0" height="2.0"/><rect x="565.2" y="192.5" width="2.0" height="2.0"/><rect x="578.0" y="188.6" width="2.0" height="2.0"/><rect x="570.4" y="176.0" width="2.0" height="2.0"/><rect x="576.8" y="181.5" width="2.0" height="2.0"/><rect x="562.8" y="187.8" width="2.0" height="2.0"/><rect x="576.3" y="204.6" width="2.0" height="2.0"/><rect x="577.1" y="178.9" width="2.0" height="2.0"/><rect x="572.9" y="186.8" width="2.0" height="2.0"/><rect x="572.0" y="175.7" width="2.0" height="2.0"/><rect x="586.0" y="191.6" width="2.0" height="2.0"/><rect x="581.4" y="191.9" width="2.0" height="2.0"/><rect x="580.4" y="197.7" width="2.0" height="2.0"/><rect x="568.4" y="190.0" width="2.0" height="2.0"/><rect x="565.3" y="203.1" width="2.0" height="2.0"/><rect x="577.9" y="184.8" width="2.0" height="2.0"/><rect x="585.0" y="205.6" width="2.0" height="2.0"/><rect x="583.7" y="188.1" width="2.0" height="2.0"/><rect x="577.6" y="193.2" width="2.0" height="2.0"/><rect x="573.8" y="202.2" width="2.0" height="2.0"/><rect x="573.4" y="187.2" width="2.0" height="2.0"/><rect x="578.3" y="197.3" width="2.0" height="2.0"/><rect x="590.5" y="189.2" width="2.0" height="2.0"/><rect x="566.6" y="176.7" width="2.0" height="2.0"/><rect x="591.9" y="195.7" width="2.0" height="2.0"/><rect x="586.8" y="178.3" width="2.0" height="2.0"/><rect x="582.7" y="187.8" width="2.0" height="2.0"/><rect x="568.3" y="193.7" width="2.0" height="2.0"/><rect x="573.3" y="185.3" width="2.0" height="2.0"/><rect x="581.8" y="220.0" width="2.0" height="2.0"/><rect x="578.5" y="194.9" width="2.0" height="2.0"/><rect x="584.5" y="177.6" width="2.0" height="2.0"/><rect x="566.4" y="194.7" width="2.0" height="2.0"/><rect x="558.6" y="202.9" width="2.0" height="2.0"/><rect x="575.0" y="194.8" width="2.0" height="2.0"/><rect x="586.4" y="202.0" width="2.0" height="2.0"/><rect x="575.7" y="169.0" width="2.0" height="2.0"/><rect x="580.7" y="180.9" width="2.0" height="2.0"/><rect x="590.4" y="188.6" width="2.0" height="2.0"/><rect x="587.4" y="188.1" width="2.0" height="2.0"/><rect x="585.7" y="200.0" width="2.0" height="2.0"/><rect x="585.0" y="175.6" width="2.0" height="2.0"/><rect x="572.1" y="186.9" width="2.0" height="2.0"/><rect x="578.2" y="181.8" width="2.0" height="2.0"/><rect x="571.4" y="209.6" width="2.0" height="2.0"/><rect x="589.0" y="178.3" width="2.0" height="2.0"/><rect x="577.5" y="190.0" width="2.0" height="2.0"/><rect x="575.8" y="173.4" width="2.0" height="2.0"/><rect x="570.6" y="200.5" width="2.0" height="2.0"/><rect x="567.1" y="178.1" width="2.0" height="2.0"/><rect x="571.4" y="202.9" width="2.0" height="2.0"/><rect x="581.3" y="186.1" width="2.0" height="2.0"/><rect x="577.9" y="184.7" width="2.0" height="2.0"/><rect x="569.8" y="177.3" width="2.0" height="2.0"/><rect x="589.6" y="193.9" width="2.0" height="2.0"/><rect x="584.5" y="178.7" width="2.0" height="2.0"/><rect x="579.6" y="185.8" width="2.0" height="2.0"/><rect x="581.5" y="181.8" width="2.0" height="2.0"/><rect x="581.7" y="204.9" width="2.0" height="2.0"/><rect x="583.8" y="187.4" width="2.0" height="2.0"/><rect x="573.4" y="184.9" width="2.0" height="2.0"/><rect x="577.4" y="181.7" width="2.0" height="2.0"/><rect x="586.0" y="185.1" width="2.0" height="2.0"/><rect x="577.8" y="195.9" width="2.0" height="2.0"/><rect x="577.8" y="196.8" width="2.0" height="2.0"/><rect x="593.9" y="195.0" width="2.0" height="2.0"/><rect x="584.9" y="185.1" width="2.0" height="2.0"/><rect x="570.9" y="161.4" width="2.0" height="2.0"/><rect x="586.2" y="188.7" width="2.0" height="2.0"/><rect x="577.0" y="190.9" width="2.0" height="2.0"/><rect x="584.6" y="204.8" width="2.0" height="2.0"/></g>
<g fill="#d95319"><rect x="559.4" y="201.2" width="2.0" height="2.0"/><rect x="570.5" y="184.7" width="2.0" height="2.0"/><rect x="554.7" y="193.8" width="2.0" height="2.0"/><rect x="555.1" y="192.3" width="2.0" height="2.0"/><rect x="559.5" y="186.2" width="2.0" height="2.0"/><rect x="559.8" y="207.4" width="2.0" height="2.0"/><rect x="550.1" y="196.5" width="2.0" height="2.0"/><rect x="546.6" y="218.1" width="2.0" height="2.0"/><rect x="552.3" y="184.7" width="2.0" height="2.0"/><rect x="557.0" y="192.2" width="2.0" height="2.0"/><rect x="555.4" y="192.1" width="2.0" height="2.0"/><rect x="562.5" y="174.4" width="2.0" height="2.0"/><rect x="558.4" y="193.2" width="2.0" height="2.0"/><rect x="557.0" y="186.0" width="2.0" height="2.0"/><rect x="562.0" y="205.0" width="2.0" height="2.0"/><rect x="559.7" y="187.9" width="2.0" height="2.0"/><rect x="560.5" y="197.4" width="2.0" height="2.0"/><rect x="564.4" y="197.4" width="2.0" height="2.0"/><rect x="560.7" y="214.1" width="2.0" height="2.0"/><rect x="561.2" y="203.3" width="2.0" height="2.0"/><rect x="557.2" y="206.1" width="2.0" height="2.0"/></g>
<g fill="#edb120"><rect x="575.7" y="192.5" width="2.0" height="2.0"/><rect x="571.0" y="195.2" width="2.0" height="2.0"/><rect x="565.6" y="188.0" width="2.0" height="2.0"/><rect x="569.5" y="199.6" width="2.0" height="2.0"/><rect x="573.0" y="180.4" width="2.0" height="2.0"/><rect x="569.6" y="193.6" width="2.0" height="2.0"/><rect x="562.9" y="199.5" width="2.0" height="2.0"/><rect x="562.1" y="194.4" width="2.0" height="2.0"/><rect x="564.1" y="187.9" width="2.0" height="2.0"/><rect x="579.8" y="183.2" width="2.0" height="2.0"/><rect x="579.0" y="196.8" width="2.0" height="2.0"/><rect x="573.4" y="187.8" width="2.0" height="2.0"/><rect x="574.0" y="186.7" width="2.0" height="2.0"/><rect x="572.3" y="200.3" width="2.0" height="2.0"/><rect x="571.2" y="197.6" width="2.0" height="2.0"/><rect x="568.3" y="184.6" width="2.0" height="2.0"/><rect x="568.9" y="182.3" width="2.0" height="2.0"/><rect x="586.3" y="206.8" width="2.0" height="2.0"/><rect x="565.9" y="202.2" width="2.0" height="2.0"/><rect x="565.7" y="211.0" width="2.0" height="2.0"/><rect x="573.0" y="192.5" width="2.0" height="2.0"/><rect x="567.5" y="206.7" width="2.0" height="2.0"/><rect x="564.5" y="203.7" width="2.0" height="2.0"/><rect x="573.9" y="172.6" width="2.0" height="2.0"/><rect x="569.2" y="200.5" width="2.0" height="2.0"/><rect x="574.4" y="184.9" width="2.0" height="2.0"/><rect x="566.0" y="206.7" width="2.0" height="2.0"/><rect x="576.4" y="201.6" width="2.0" height="2.0"/><rect x="570.5" y="190.3" width="2.0" height="2.0"/><rect x="560.0" y="207.2" width="2.0" height="2.0"/><rect x="567.6" y="209.1" width="2.0" height="2.0"/><rect x="571.7" y="183.5" width="2.0" height="2.0"/><rect x="589.2" y="181.9" width="2.0" height="2.0"/><rect x="571.6" y="193.1" width="2.0" height="2.0"/><rect x="567.0" y="192.6" width="2.0" height="2.0"/><rect x="563.9" y="200.3" width="2.0" height="2.0"/><rect x="579.5" y="203.0" width="2.0" height="2.0"/><rect x="567.4" y="204.9" width="2.0" height="2.0"/><rect x="576.2" y="185.2" width="2.0" height="2.0"/><rect x="580.3" y="214.8" width="2.0" height="2.0"/><rect x="574.8" y="199.4" width="2.0" height="2.0"/><rect x="560.3" y="187.4" width="2.0" height="2.0"/><rect x="573.8" y="195.1" width="2.0" height="2.0"/><rect x="566.1" y="195.9" width="2.0" height="2.0"/><rect x="584.3" y="199.6" width="2.0" height="2.0"/><rect x="577.5" y="188.4" width="2.0" height="2.0"/><rect x="575.3" y="193.4" width="2.0" height="2.0"/><rect x="569.9" y="200.2" width="2.0" height="2.0"/><rect x="565.8" y="188.7" width="2.0" height="2.0"/><rect x="563.4" y="203.9" width="2.0" height="2.0"/><rect x="578.7" y="194.3" width="2.0" height="2.0"/><rect x="568.2" y="198.2" width="2.0" height="2.0"/><rect x="559.5" y="201.3" width="2.0" height="2.0"/><rect x="570.1" y="209.5" width="2.0" height="2.0"/><rect x="553.3" y="187.8" width="2.0" height="2.0"/><rect x="570.0" y="191.2" width="2.0" height="2.0"/><rect x="562.1" y="212.7" width="2.0" height="2.0"/><rect x="573.2" y="204.1" width="2.0" height="2.0"/><rect x="579.9" y="196.7" width="2.0" height="2.0"/><rect x="569.5" y="200.7" width="2.0" height="2.0"/><rect x="554.9" y="192.0" width="2.0" height="2.0"/><rect x="570.5" y="190.5" width="2.0" height="2.0"/><rect x="572.4" y="198.6" width="2.0" height="2.0"/><rect x="573.0" y="185.0" width="2.0" height="2.0"/><rect x="562.6" y="208.9" width="2.0" height="2.0"/><rect x="572.0" y="213.0" width="2.0" height="2.0"/><rect x="562.8" y="203.0" width="2.0" height="2.0"/><rect x="582.5" y="198.1" width="2.0" height="2.0"/><rect x="560.4" y="200.6" width="2.0" height="2.0"/><rect x="554.8" y="198.8" width="2.0" height="2.0"/><rect x="567.0" y="198.1" width="2.0" height="2.0"/><rect x="566.8" y="185.1" width="2.0" height="2.0"/><rect x="573.2" y="194.2" width="2.0" height="2.0"/><rect x="572.1" y="188.4" width="2.0" height="2.0"/><rect x="568.6" y="193.9" width="2.0" height="2.0"/></g>
<g fill="#7e2f8e"><rect x="582.9" y="185.4" width="2.0" height="2.0"/><rect x="585.9" y="194.2" width="2.0" height="2.0"/><rect x="585.7" y="199.2" width="2.0" height="2.0"/><rect x="591.5" y="188.6" width="2.0" height="2.0"/><rect x="576.0" y="202.1" width="2.0" height="2.0"/><rect x="574.1" y="192.7" width="2.0" height="2.0"/><rect x="614.8" y="184.0" width="2.0" height="2.0"/><rect x="593.8" y="195.0" width="2.0" height="2.0"/><rect x="583.7" y="196.9" width="2.0" height="2.0"/><rect x="604.5" y="193.9" width="2.0" height="2.0"/><rect x="595.2" y="210.7" width="2.0" height="2.0"/><rect x="588.6" y="192.9" width="2.0" height="2.0"/><rect x="584.0" y="200.5" width="2.0" height="2.0"/><rect x="587.3" y="183.0" width="2.0" height="2.0"/><rect x="592.9" y="195.7" width="2.0" height="2.0"/><rect x="598.1" y="184.8" width="2.0" height="2.0"/><rect x="591.5" y="192.9" width="2.0" height="2.0"/><rect x="583.3" y="171.2" width="2.0" height="2.0"/><rect x="581.9" y="201.6" width="2.0" height="2.0"/><rect x="586.7" y="202.1" width="2.0" height="2.0"/><rect x="595.5" y="195.5" width="2.0" height="2.0"/><rect x="586.9" y="177.6" width="2.0" height="2.0"/><rect x="586.0" y="203.8" width="2.0" height="2.0"/><rect x="590.7" y="200.3" width="2.0" height="2.0"/><rect x="589.9" y="212.3" width="2.0" height="2.0"/><rect x="597.8" y="184.3" width="2.0" height="2.0"/><rect x="588.0" y="198.2" width="2.0" height="2.0"/><rect x="576.8" y="191.3" width="2.0" height="2.0"/><rect x="588.4" y="182.2" width="2.0" height="2.0"/><rect x="596.6" y="198.1" width="2.0" height="2.0"/><rect x="592.3" y="195.1" width="2.0" height="2.0"/><rect x="589.0" y="199.7" width="2.0" height="2.0"/><rect x="611.5" y="200.3" width="2.0" height="2.0"/><rect x="578.7" y="194.7" width="2.0" height="2.0"/><rect x="604.4" y="174.1" width="2.0" height="2.0"/><rect x="583.0" y="187.7" width="2.0" height="2.0"/><rect x="583.9" y="212.5" width="2.0" height="2.0"/><rect x="582.2" y="197.9" width="2.0" height="2.0"/><rect x="584.7" y="187.6" width="2.0" height="2.0"/><rect x="595.3" y="198.8" width="2.0" height="2.0"/><rect x="581.4" y="188.2" width="2.0" height="2.0"/><rect x="589.1" y="195.5" width="2.0" height="2.0"/><rect x="586.0" y="186.2" width="2.0" height="2.0"/><rect x="593.9" y="204.9" width="2.0" height="2.0"/><rect x="590.9" y="176.9" width="2.0" height="2.0"/><rect x="583.1" y="201.6" width="2.0" height="2.0"/><rect x="601.0" y="187.0" width="2.0" height="2.0"/><rect x="592.8" y="196.9" width="2.0" height="2.0"/><rect x="601.2" y="192.9" width="2.0" height="2.0"/><rect x="603.3" y="192.4" width="2.0" height="2.0"/><rect x="589.9" y="207.8" width="2.0" height="2.0"/><rect x="583.9" y="190.7" width="2.0" height="2.0"/><rect x="597.4" y="206.6" width="2.0" height="2.0"/><rect x="594.8" y="193.3" width="2.0" height="2.0"/></g>
<g fill="#0072bd"><rect x="443.6" y="310.1" width="2.0" height="2.0"/><rect x="446.1" y="298.2" width="2.0" height="2.0"/><rect x="450.1" y="326.3" width="2.0" height="2.0"/><rect x="443.0" y="299.3" width="2.0" height="2.0"/><rect x="444.7" y="319.8" width="2.0" height="2.0"/><rect x="448.7" y="292.7" width="2.0" height="2.0"/><rect x="448.1" y="306.4" width="2.0" height="2.0"/><rect x="444.0" y="308.1" width="2.0" height="2.0"/><rect x="441.3" y="310.3" width="2.0" height="2.0"/><rect x="446.4" y="288.1" width="2.0" height="2.0"/><rect x="443.2" y="321.6" width="2.0" height="2.0"/><rect x="444.2" y="318.2" width="2.0" height="2.0"/><rect x="443.0" y="315.0" width="2.0" height="2.0"/><rect x="444.4" y="299.3" width="2.0" height="2.0"/><rect x="439.8" y="323.6" width="2.0" height="2.0"/><rect x="447.4" y="293.0" width="2.0" height="2.0"/><rect x="443.2" y="323.4" width="2.0" height="2.0"/><rect x="440.0" y="323.3" width="2.0" height="2.0"/><rect x="439.5" y="301.5" width="2.0" height="2.0"/><rect x="450.0" y="284.6" width="2.0" height="2.0"/><rect x="441.1" y="292.4" width="2.0" height="2.0"/><rect x="440.0" y="328.4" width="2.0" height="2.0"/><rect x="438.9" y="337.0" width="2.0" height="2.0"/><rect x="440.6" y="308.1" width="2.0" height="2.0"/><rect x="446.4" y="331.9" width="2.0" height="2.0"/><rect x="441.9" y="324.0" width="2.0" height="2.0"/><rect x="441.2" y="299.3" width="2.0" height="2.0"/><rect x="439.9" y="330.2" width="2.0" height="2.0"/><rect x="445.7" y="315.2" width="2.0" height="2.0"/><rect x="440.5" y="305.9" width="2.0" height="2.0"/><rect x="448.5" y="309.6" width="2.0" height="2.0"/><rect x="445.7" y="286.1" width="2.0" height="2.0"/><rect x="441.7" y="316.4" width="2.0" height="2.0"/><rect x="450.7" y="309.7" width="2.0" height="2.0"/><rect x="447.8" y="324.3" width="2.0" height="2.0"/><rect x="444.6" y="306.1" width="2.0" height="2.0"/><rect x="444.6" y="319.2" width="2.0" height="2.0"/><rect x="450.5" y="300.5" width="2.0" height="2.0"/><rect x="446.4" y="321.0" width="2.0" height="2.0"/><rect x="446.2" y="313.1" width="2.0" height="2.0"/><rect x="440.9" y="296.8" width="2.0" height="2.0"/><rect x="450.1" y="306.9" width="2.0" height="2.0"/><rect x="448.2" y="313.0" width="2.0" height="2.0"/><rect x="441.8" y="299.5" width="2.0" height="2.0"/><rect x="439.7" y="300.4" width="2.0" height="2.0"/><rect x="442.1" y="329.7" width="2.0" height="2.0"/><rect x="440.1" y="300.2" width="2.0" height="2.0"/><rect x="442.9" y="329.2" width="2.0" height="2.0"/><rect x="448.8" y="319.3" width="2.0" height="2.0"/><rect x="439.3" y="300.6" width="2.0" height="2.0"/><rect x="443.4" y="330.8" width="2.0" height="2.0"/><rect x="445.2" y="308.4" width="2.0" height="2.0"/><rect x="443.5" y="310.8" width="2.0" height="2.0"/><rect x="440.9" y="301.8" width="2.0" height="2.0"/><rect x="446.8" y="321.1" width="2.0" height="2.0"/><rect x="447.3" y="305.0" width="2.0" height="2.0"/><rect x="450.7" y="305.3" width="2.0" height="2.0"/><rect x="441.0" y="284.3" width="2.0" height="2.0"/><rect x="446.6" y="299.3" width="2.0" height="2.0"/><rect x="447.1" y="324.7" width="2.0" height="2.0"/><rect x="440.5" y="294.5" width="2.0" height="2.0"/><rect x="440.2" y="306.9" width="2.0" height="2.0"/><rect x="442.9" y="328.0" width="2.0" height="2.0"/><rect x="445.8" y="301.9" width="2.0" height="2.0"/><rect x="443.6" y="292.9" width="2.0" height="2.0"/><rect x="447.8" y="326.3" width="2.0" height="2.0"/><rect x="441.0" y="314.6" width="2.0" height="2.0"/><rect x="439.0" y="315.6" width="2.0" height="2.0"/><rect x="440.9" y="314.4" width="2.0" height="2.0"/><rect x="440.8" y="307.9" width="2.0" height="2.0"/><rect x="439.7" y="334.3" width="2.0" height="2.0"/><rect x="444.9" y="318.4" width="2.0" height="2.0"/><rect x="447.3" y="313.5" width="2.0" height="2.0"/><rect x="442.8" y="321.2" width="2.0" height="2.0"/><rect x="443.2" y="316.0" width="2.0" height="2.0"/><rect x="444.5" y="318.2" width="2.0" height="2.0"/><rect x="441.9" y="329.0" width="2.0" height="2.0"/><rect x="442.0" y="315.7" width="2.0" height="2.0"/><rect x="443.0" y="317.1" width="2.0" height="2.0"/><rect x="440.9" y="308.3" width="2.0" height="2.0"/><rect x="440.2" y="301.9" width="2.0" height="2.0"/><rect x="439.8" y="321.7" width="2.0" height="2.0"/><rect x="448.0" y="318.3" width="2.0" height="2.0"/><rect x="447.9" y="306.0" width="2.0" height="2.0"/><rect x="439.5" y="295.7" width="2.0" height="2.0"/><rect x="440.3" y="312.9" width="2.0" height="2.0"/><rect x="449.6" y="318.5" width="2.0" height="2.0"/><rect x="444.9" y="291.9" width="2.0" height="2.0"/><rect x="442.5" y="290.1" width="2.0" height="2.0"/><rect x="444.5" y="309.9" width="2.0" height="2.0"/><rect x="449.9" y="304.7" width="2.0" height="2.0"/><rect x="445.5" y="310.7" width="2.0" height="2.0"/><rect x="450.8" y="288.2" width="2.0" height="2.0"/><rect x="448.0" y="296.9" width="2.0" height="2.0"/><rect x="443.7" y="312.2" width="2.0" height="2.0"/></g>
<g fill="#d95319"><rect x="426.8" y="333.1" width="2.0" height="2.0"/><rect x="430.9" y="306.4" width="2.0" height="2.0"/><rect x="424.9" y="307.8" width="2.0" height="2.0"/><rect x="431.0" y="306.1" width="2.0" height="2.0"/><rect x="425.3" y="314.3" width="2.0" height="2.0"/><rect x="430.6" y="308.2" width="2.0" height="2.0"/><rect x="423.9" y="323.5" width="2.0" height="2.0"/><rect x="427.6" y="318.3" width="2.0" height="2.0"/><rect x="427.3" y="330.6" width="2.0" height="2.0"/><rect x="429.9" y="314.0" width="2.0" height="2.0"/><rect x="428.7" y="315.0" width="2.0" height="2.0"/><rect x="429.6" y="314.4" width="2.0" height="2.0"/><rect x="423.4" y="298.4" width="2.0" height="2.0"/><rect x="426.8" y="329.6" width="2.0" height="2.0"/><rect x="422.7" y="301.6" width="2.0" height="2.0"/><rect x="425.7" y="293.1" width="2.0" height="2.0"/><rect x="430.4" y="293.9" width="2.0" height="2.0"/><rect x="430.7" y="310.0" width="2.0" height="2.0"/><rect x="426.6" y="326.6" width="2.0" height="2.0"/><rect x="429.3" y="324.1" width="2.0" height="2.0"/><rect x="426.3" y="332.5" width="2.0" height="2.0"/><rect x="429.7" y="311.2" width="2.0" height="2.0"/><rect x="427.5" y="332.6" width="2.0" height="2.0"/><rect x="426.2" y="301.9" width="2.0" height="2.0"/><rect x="427.3" y="329.8" width="2.0" height="2.0"/><rect x="422.7" y="315.4" width="2.0" height="2.0"/><rect x="430.4" y="313.5" width="2.0" height="2.0"/><rect x="422.3" y="308.3" width="2.0" height="2.0"/><rect x="428.3" y="310.9" width="2.0" height="2.0"/><rect x="427.9" y="315.1" width="2.0" height="2.0"/><rect x="426.2" y="328.4" width="2.0" height="2.0"/><rect x="427.6" y="314.3" width="2.0" height="2.0"/><rect x="422.3" y="312.1" width="2.0" height="2.0"/><rect x="430.5" y="302.2" width="2.0" height="2.0"/></g>
<g fill="#edb120"></g>
<g fill="#7e2f8e"><rect x="438.7" y="291.8" width="2.0" height="2.0"/><rect x="436.4" y="315.4" width="2.0" height="2.0"/><rect x="435.7" y="309.3" width="2.0" height="2.0"/><rect x="438.2" y="337.5" width="2.0" height="2.0"/><rect x="435.2" y="295.5" width="2.0" height="2.0"/><rect x="437.6" y="310.7" width="2.0" height="2.0"/><rect x="432.2" y="308.5" width="2.0" height="2.0"/><rect x="438.4" y="296.0" width="2.0" height="2.0"/><rect x="437.8" y="320.2" width="2.0" height="2.0"/><rect x="437.9" y="323.4" width="2.0" height="2.0"/><rect x="437.1" y="311.7" width="2.0" height="2.0"/><rect x="435.5" y="312.6" width="2.0" height="2.0"/><rect x="438.1" y="299.4" width="2.0" height="2.0"/><rect x="434.2" y="297.7" width="2.0" height="2.0"/><rect x="436.5" y="286.6" width="2.0" height="2.0"/><rect x="433.1" y="303.4" width="2.0" height="2.0"/><rect x="437.7" y="308.5" width="2.0" height="2.0"/><rect x="432.0" y="308.7" width="2.0" height="2.0"/><rect x="433.3" y="329.6" width="2.0" height="2.0"/><rect x="434.2" y="319.7" width="2.0" height="2.0"/><rect x="437.4" y="288.3" width="2.0" height="2.0"/><rect x="436.2" y="317.4" width="2.0" height="2.0"/><rect x="432.4" y="299.9" width="2.0" height="2.0"/><rect x="432.9" y="308.7" width="2.0" height="2.0"/><rect x="434.9" y="315.8" width="2.0" height="2.0"/><rect x="437.1" y="304.2" width="2.0" height="2.0"/><rect x="435.3" y="293.1" width="2.0" height="2.0"/><rect x="431.5" y="301.1" width="2.0" height="2.0"/><rect x="437.3" y="308.6" width="2.0" height="2.0"/><rect x="436.8" y="293.7" width="2.0" height="2.0"/><rect x="437.5" y="307.5" width="2.0" height="2.0"/><rect x="436.6" y="309.2" width="2.0" height="2.0"/><rect x="432.1" y="295.4" width="2.0" height="2.0"/><rect x="435.2" y="295.4" width="2.0" height="2.0"/><rect x="434.3" y="306.7" width="2.0" height="2.0"/><rect x="435.7" y="304.7" width="2.0" height="2.0"/><rect x="435.5" y="295.8" width="2.0" height="2.0"/><rect x="432.6" y="316.0" width="2.0" height="2.0"/><rect x="433.8" y="309.3" width="2.0" height="2.0"/><rect x="436.5" y="312.4" width="2.0" height="2.0"/><rect x="433.7" y="306.1" width="2.0" height="2.0"/><rect x="434.2" y="312.5" width="2.0" height="2.0"/><rect x="434.5" y="322.6" width="2.0" height="2.0"/><rect x="432.6" y="312.5" width="2.0" height="2.0"/><rect x="436.6" y="320.3" width="2.0" height="2.0"/><rect x="436.3" y="317.0" width="2.0" height="2.0"/><rect x="436.8" y="324.5" width="2.0" height="2.0"/><rect x="431.3" y="320.7" width="2.0" height="2.0"/><rect x="433.8" y="297.3" width="2.0" height="2.0"/><rect x="436.7" y="306.7" width="2.0" height="2.0"/><rect x="437.7" y="315.0" width="2.0" height="2.0"/><rect x="438.7" y="326.0" width="2.0" height="2.0"/><rect x="436.6" y="311.7" width="2.0" height="2.0"/><rect x="436.7" y="313.9" width="2.0" height="2.0"/></g>
<g fill="#77ac30"><rect x="451.2" y="308.3" width="2.0" height="2.0"/><rect x="454.8" y="295.5" width="2.0" height="2.0"/><rect x="452.6" y="336.1" width="2.0" height="2.0"/><rect x="454.0" y="306.3" width="2.0" height="2.0"/><rect x="451.3" y="315.9" width="2.0" height="2.0"/><rect x="469.9" y="310.7" width="2.0" height="2.0"/><rect x="452.0" y="319.1" width="2.0" height="2.0"/><rect x="454.7" y="314.0" width="2.0" height="2.0"/><rect x="464.1" y="298.1" width="2.0" height="2.0"/><rect x="457.2" y="324.1" width="2.0" height="2.0"/><rect x="452.4" y="288.9" width="2.0" height="2.0"/><rect x="451.5" y="293.1" width="2.0" height="2.0"/><rect x="455.2" y="301.3" width="2.0" height="2.0"/><rect x="459.1" y="286.1" width="2.0" height="2.0"/><rect x="451.5" y="316.8" width="2.0" height="2.0"/><rect x="454.8" y="302.3" width="2.0" height="2.0"/><rect x="454.0" y="305.4" width="2.0" height="2.0"/><rect x="453.1" y="280.9" width="2.0" height="2.0"/><rect x="469.9" y="293.2" width="2.0" height="2.0"/><rect x="456.3" y="288.4" width="2.0" height="2.0"/><rect x="451.9" y="302.0" width="2.0" height="2.0"/><rect x="452.1" y="312.2" width="2.0" height="2.0"/><rect x="463.2" y="302.7" width="2.0" height="2.0"/><rect x="461.6" y="319.6" width="2.0" height="2.0"/><rect x="452.7" y="320.8" width="2.0" height="2.0"/><rect x="456.2" y="293.8" width="2.0" height="2.0"/><rect x="452.6" y="326.8" width="2.0" height="2.0"/><rect x="451.8" y="308.7" width="2.0" height="2.0"/><rect x="472.6" y="308.2" width="2.0" height="2.0"/><rect x="465.0" y="331.1" width="2.0" height="2.0"/><rect x="453.2" y="311.0" width="2.0" height="2.0"/><rect x="452.3" y="306.2" width="2.0" height="2.0"/><rect x="459.2" y="301.8" width="2.0" height="2.0"/><rect x="452.4" y="309.5" width="2.0" height="2.0"/><rect x="457.7" y="305.9" width="2.0" height="2.0"/><rect x="460.0" y="315.6" width="2.0" height="2.0"/><rect x="454.2" y="325.6" width="2.0" height="2.0"/><rect x="454.4" y="314.6" width="2.0" height="2.0"/><rect x="451.8" y="312.5" width="2.0" height="2.0"/><rect x="452.9" y="314.8" width="2.0" height="2.0"/><rect x="459.4" y="306.8" width="2.0" height="2.0"/><rect x="460.3" y="323.3" width="2.0" height="2.0"/><rect x="454.2" y="300.7" width="2.0" height="2.0"/><rect x="471.7" y="317.8" width="2.0" height="2.0"/><rect x="455.3" y="323.7" width="2.0" height="2.0"/><rect x="452.7" y="309.8" width="2.0" height="2.0"/><rect x="459.9" y="317.2" width="2.0" height="2.0"/></g>
<g fill="#4dbeee"><rect x="418.2" y="309.1" width="2.0" height="2.0"/><rect x="417.2" y="295.7" width="2.0" height="2.0"/><rect x="419.5" y="302.9" width="2.0" height="2.0"/><rect x="420.8" y="317.1" width="2.0" height="2.0"/><rect x="414.9" y="293.4" width="2.0" height="2.0"/><rect x="421.4" y="309.8" width="2.0" height="2.0"/><rect x="411.9" y="306.0" width="2.0" height="2.0"/><rect x="420.3" y="310.9" width="2.0" height="2.0"/><rect x="419.9" y="328.5" width="2.0" height="2.0"/><rect x="419.9" y="289.2" width="2.0" height="2.0"/><rect x="420.4" y="299.1" width="2.0" height="2.0"/><rect x="420.9" y="312.9" width="2.0" height="2.0"/><rect x="419.8" y="301.4" width="2.0" height="2.0"/><rect x="420.7" y="308.1" width="2.0" height="2.0"/><rect x="421.1" y="314.6" width="2.0" height="2.0"/></g>
<g fill="#0072bd"><rect x="584.9" y="293.6" width="2.0" height="2.0"/><rect x="597.3" y="304.0" width="2.0" height="2.0"/><rect x="585.9" y="311.5" width="2.0" height="2.0"/><rect x="576.6" y="295.8" width="2.0" height="2.0"/><rect x="577.8" y="291.7" width="2.0" height="2.0"/><rect x="576.8" y="311.0" width="2.0" height="2.0"/><rect x="589.9" y="310.8" width="2.0" height="2.0"/><rect x="588.2" y="304.7" width="2.0" height="2.0"/><rect x="579.3" y="298.1" width="2.0" height="2.0"/><rect x="586.9" y="326.4" width="2.0" height="2.0"/><rect x="575.5" y="328.2" width="2.0" height="2.0"/><rect x="593.4" y="324.4" width="2.0" height="2.0"/><rect x="589.3" y="302.7" width="2.0" height="2.0"/><rect x="586.5" y="308.9" width="2.0" height="2.0"/><rect x="585.4" y="320.8" width="2.0" height="2.0"/><rect x="571.7" y="308.4" width="2.0" height="2.0"/><rect x="582.2" y="315.1" width="2.0" height="2.0"/><rect x="581.4" y="320.9" width="2.0" height="2.0"/><rect x="573.1" y="305.1" width="2.0" height="2.0"/><rect x="588.6" y="310.2" width="2.0" height="2.0"/><rect x="579.1" y="315.9" width="2.0" height="2.0"/><rect x="578.1" y="323.0" width="2.0" height="2.0"/><rect x="578.0" y="305.9" width="2.0" height="2.0"/><rect x="570.4" y="293.2" width="2.0" height="2.0"/><rect x="576.8" y="298.7" width="2.0" height="2.0"/><rect x="562.8" y="305.1" width="2.0" height="2.0"/><rect x="576.3" y="322.0" width="2.0" height="2.0"/><rect x="577.1" y="296.1" width="2.0" height="2.0"/><rect x="572.9" y="304.1" width="2.0" height="2.0"/><rect x="572.0" y="292.9" width="2.0" height="2.0"/><rect x="586.0" y="308.9" width="2.0" height="2.0"/><rect x="581.4" y="309.2" width="2.0" height="2.0"/><rect x="580.4" y="315.1" width="2.0" height="2.0"/><rect x="576.8" y="308.6" width="2.0" height="2.0"/><rect x="568.4" y="307.3" width="2.0" height="2.0"/><rect x="565.3" y="320.5" width="2.0" height="2.0"/><rect x="577.9" y="302.1" width="2.0" height="2.0"/><rect x="592.3" y="312.4" width="2.0" height="2.0"/><rect x="585.0" y="323.0" width="2.0" height="2.0"/><rect x="583.7" y="305.3" width="2.0" height="2.0"/><rect x="577.6" y="310.5" width="2.0" height="2.0"/><rect x="578.7" y="312.0" width="2.0" height="2.0"/><rect x="573.8" y="319.6" width="2.0" height="2.0"/><rect x="573.4" y="304.5" width="2.0" height="2.0"/><rect x="578.3" y="314.6" width="2.0" height="2.0"/><rect x="590.5" y="306.5" width="2.0" height="2.0"/><rect x="566.6" y="293.9" width="2.0" height="2.0"/><rect x="591.9" y="313.0" width="2.0" height="2.0"/><rect x="586.8" y="295.5" width="2.0" height="2.0"/><rect x="582.7" y="305.1" width="2.0" height="2.0"/><rect x="568.3" y="311.0" width="2.0" height="2.0"/><rect x="573.3" y="302.6" width="2.0" height="2.0"/><rect x="581.8" y="337.5" width="2.0" height="2.0"/><rect x="578.5" y="312.2" width="2.0" height="2.0"/><rect x="584.5" y="294.8" width="2.0" height="2.0"/><rect x="566.4" y="312.0" width="2.0" height="2.0"/><rect x="581.4" y="305.5" width="2.0" height="2.0"/><rect x="558.6" y="320.2" width="2.0" height="2.0"/><rect x="575.0" y="312.1" width="2.0" height="2.0"/><rect x="586.4" y="319.3" width="2.0" height="2.0"/><rect x="575.7" y="286.1" width="2.0" height="2.0"/><rect x="580.7" y="298.1" width="2.0" height="2.0"/><rect x="590.4" y="305.9" width="2.0" height="2.0"/><rect x="587.4" y="305.4" width="2.0" height="2.0"/><rect x="585.7" y="317.4" width="2.0" height="2.0"/><rect x="585.0" y="292.8" width="2.0" height="2.0"/><rect x="572.1" y="304.2" width="2.0" height="2.0"/><rect x="578.2" y="299.0" width="2.0" height="2.0"/><rect x="571.4" y="327.0" width="2.0" height="2.0"/><rect x="589.0" y="295.5" width="2.0" height="2.0"/><rect x="577.5" y="307.3" width="2.0" height="2.0"/><rect x="575.8" y="290.6" width="2.0" height="2.0"/><rect x="570.6" y="317.8" width="2.0" height="2.0"/><rect x="567.1" y="295.3" width="2.0" height="2.0"/><rect x="571.4" y="320.3" width="2.0" height="2.0"/><rect x="581.3" y="303.3" width="2.0" height="2.0"/><rect x="577.9" y="301.9" width="2.0" height="2.0"/><rect x="569.8" y="294.5" width="2.0" height="2.0"/><rect x="589.6" y="311.2" width="2.0" height="2.0"/><rect x="584.5" y="295.9" width="2.0" height="2.0"/><rect x="579.6" y="303.1" width="2.0" height="2.0"/><rect x="581.5" y="299.0" width="2.0" height="2.0"/><rect x="581.7" y="322.3" width="2.0" height="2.0"/><rect x="583.8" y="304.7" width="2.0" height="2.0"/><rect x="573.4" y="302.1" width="2.0" height="2.0"/><rect x="577.4" y="298.9" width="2.0" height="2.0"/><rect x="586.0" y="302.3" width="2.0" height="2.0"/><rect x="577.8" y="313.2" width="2.0" height="2.0"/><rect x="577.8" y="314.1" width="2.0" height="2.0"/><rect x="593.9" y="312.3" width="2.0" height="2.0"/><rect x="584.9" y="302.4" width="2.0" height="2.0"/><rect x="586.2" y="306.0" width="2.0" height="2.0"/><rect x="594.8" y="310.7" width="2.0" height="2.0"/><rect x="577.0" y="308.2" width="2.0" height="2.0"/><rect x="584.6" y="322.2" width="2.0" height="2.0"/></g>
<g fill="#d95319"><rect x="565.6" y="305.3" width="2.0" height="2.0"/><rect x="569.5" y="316.9" width="2.0" height="2.0"/><rect x="562.1" y="311.8" width="2.0" height="2.0"/><rect x="564.1" y="305.2" width="2.0" height="2.0"/><rect x="568.3" y="301.9" width="2.0" height="2.0"/><rect x="568.9" y="299.6" width="2.0" height="2.0"/><rect x="559.8" y="324.8" width="2.0" height="2.0"/><rect x="567.5" y="324.1" width="2.0" height="2.0"/><rect x="564.5" y="321.1" width="2.0" height="2.0"/><rect x="560.0" y="324.6" width="2.0" height="2.0"/><rect x="567.0" y="309.9" width="2.0" height="2.0"/><rect x="563.9" y="317.6" width="2.0" height="2.0"/><rect x="558.4" y="310.5" width="2.0" height="2.0"/><rect x="580.3" y="332.2" width="2.0" height="2.0"/><rect x="557.0" y="303.3" width="2.0" height="2.0"/><rect x="560.3" y="304.7" width="2.0" height="2.0"/><rect x="577.5" y="305.7" width="2.0" height="2.0"/><rect x="575.3" y="310.7" width="2.0" height="2.0"/><rect x="565.8" y="305.9" width="2.0" height="2.0"/><rect x="563.4" y="321.2" width="2.0" height="2.0"/><rect x="568.2" y="315.6" width="2.0" height="2.0"/><rect x="553.3" y="305.1" width="2.0" height="2.0"/><rect x="570.0" y="308.5" width="2.0" height="2.0"/><rect x="562.1" y="330.1" width="2.0" height="2.0"/><rect x="569.5" y="318.1" width="2.0" height="2.0"/><rect x="560.5" y="314.7" width="2.0" height="2.0"/><rect x="570.5" y="307.8" width="2.0" height="2.0"/><rect x="564.4" y="314.8" width="2.0" height="2.0"/><rect x="573.0" y="302.3" width="2.0" height="2.0"/><rect x="560.4" y="317.9" width="2.0" height="2.0"/><rect x="567.0" y="315.4" width="2.0" height="2.0"/><rect x="566.8" y="302.4" width="2.0" height="2.0"/><rect x="561.2" y="320.7" width="2.0" height="2.0"/><rect x="572.1" y="305.7" width="2.0" height="2.0"/></g>
<g fill="#edb120"></g>
<g fill="#7e2f8e"><rect x="569.0" y="290.9" width="2.0" height="2.0"/><rect x="575.7" y="309.8" width="2.0" height="2.0"/><rect x="571.0" y="312.5" width="2.0" height="2.0"/><rect x="566.3" y="338.1" width="2.0" height="2.0"/><rect x="573.0" y="297.6" width="2.0" height="2.0"/><rect x="569.6" y="310.9" width="2.0" height="2.0"/><rect x="562.9" y="316.8" width="2.0" height="2.0"/><rect x="571.9" y="303.5" width="2.0" height="2.0"/><rect x="584.8" y="327.4" width="2.0" height="2.0"/><rect x="582.8" y="307.8" width="2.0" height="2.0"/><rect x="579.8" y="300.4" width="2.0" height="2.0"/><rect x="579.0" y="314.1" width="2.0" height="2.0"/><rect x="565.2" y="309.8" width="2.0" height="2.0"/><rect x="573.4" y="305.1" width="2.0" height="2.0"/><rect x="574.0" y="304.0" width="2.0" height="2.0"/><rect x="572.3" y="317.6" width="2.0" height="2.0"/><rect x="571.2" y="314.9" width="2.0" height="2.0"/><rect x="586.3" y="324.2" width="2.0" height="2.0"/><rect x="565.9" y="319.6" width="2.0" height="2.0"/><rect x="565.7" y="328.4" width="2.0" height="2.0"/><rect x="573.0" y="309.9" width="2.0" height="2.0"/><rect x="573.9" y="289.8" width="2.0" height="2.0"/><rect x="569.2" y="317.9" width="2.0" height="2.0"/><rect x="574.4" y="302.1" width="2.0" height="2.0"/><rect x="566.0" y="324.0" width="2.0" height="2.0"/><rect x="576.4" y="318.9" width="2.0" height="2.0"/><rect x="570.5" y="307.6" width="2.0" height="2.0"/><rect x="567.6" y="326.5" width="2.0" height="2.0"/><rect x="571.7" y="300.8" width="2.0" height="2.0"/><rect x="589.2" y="299.1" width="2.0" height="2.0"/><rect x="571.6" y="310.4" width="2.0" height="2.0"/><rect x="579.5" y="320.3" width="2.0" height="2.0"/><rect x="567.4" y="322.3" width="2.0" height="2.0"/><rect x="576.2" y="302.5" width="2.0" height="2.0"/><rect x="574.8" y="316.7" width="2.0" height="2.0"/><rect x="573.8" y="312.4" width="2.0" height="2.0"/><rect x="566.1" y="313.2" width="2.0" height="2.0"/><rect x="584.3" y="317.0" width="2.0" height="2.0"/><rect x="569.9" y="317.6" width="2.0" height="2.0"/><rect x="578.7" y="311.7" width="2.0" height="2.0"/><rect x="559.5" y="318.6" width="2.0" height="2.0"/><rect x="570.1" y="326.9" width="2.0" height="2.0"/><rect x="573.2" y="321.4" width="2.0" height="2.0"/><rect x="579.9" y="314.0" width="2.0" height="2.0"/><rect x="554.9" y="309.3" width="2.0" height="2.0"/><rect x="572.4" y="316.0" width="2.0" height="2.0"/><rect x="562.6" y="326.3" width="2.0" height="2.0"/><rect x="572.0" y="330.4" width="2.0" height="2.0"/><rect x="562.8" y="320.4" width="2.0" height="2.0"/><rect x="582.5" y="315.4" width="2.0" height="2.0"/><rect x="554.8" y="316.2" width="2.0" height="2.0"/><rect x="570.9" y="278.6" width="2.0" height="2.0"/><rect x="573.2" y="311.5" width="2.0" height="2.0"/><rect x="568.6" y="311.2" width="2.0" height="2.0"/></g>
<g fill="#77ac30"><rect x="582.9" y="302.7" width="2.0" height="2.0"/><rect x="585.7" y="316.5" width="2.0" height="2.0"/><rect x="591.5" y="305.9" width="2.0" height="2.0"/><rect x="576.0" y="319.5" width="2.0" height="2.0"/><rect x="574.1" y="310.0" width="2.0" height="2.0"/><rect x="614.8" y="301.2" width="2.0" height="2.0"/><rect x="593.8" y="312.3" width="2.0" height="2.0"/><rect x="583.7" y="314.3" width="2.0" height="2.0"/><rect x="604.5" y="311.2" width="2.0" height="2.0"/><rect x="595.2" y="328.1" width="2.0" height="2.0"/><rect x="584.0" y="317.9" width="2.0" height="2.0"/><rect x="587.3" y="300.2" width="2.0" height="2.0"/><rect x="592.9" y="313.0" width="2.0" height="2.0"/><rect x="598.1" y="302.0" width="2.0" height="2.0"/><rect x="591.5" y="310.2" width="2.0" height="2.0"/><rect x="583.3" y="288.4" width="2.0" height="2.0"/><rect x="581.9" y="319.0" width="2.0" height="2.0"/><rect x="586.7" y="319.5" width="2.0" height="2.0"/><rect x="595.5" y="312.8" width="2.0" height="2.0"/><rect x="586.9" y="294.8" width="2.0" height="2.0"/><rect x="586.0" y="321.1" width="2.0" height="2.0"/><rect x="590.7" y="317.6" width="2.0" height="2.0"/><rect x="589.9" y="329.7" width="2.0" height="2.0"/><rect x="597.8" y="301.5" width="2.0" height="2.0"/><rect x="588.0" y="315.6" width="2.0" height="2.0"/><rect x="588.4" y="299.4" width="2.0" height="2.0"/><rect x="596.6" y="315.4" width="2.0" height="2.0"/><rect x="589.0" y="317.0" width="2.0" height="2.0"/><rect x="611.5" y="317.6" width="2.0" height="2.0"/><rect x="604.4" y="291.3" width="2.0" height="2.0"/><rect x="583.0" y="304.9" width="2.0" height="2.0"/><rect x="583.9" y="329.9" width="2.0" height="2.0"/><rect x="582.2" y="315.3" width="2.0" height="2.0"/><rect x="584.7" y="304.8" width="2.0" height="2.0"/><rect x="595.3" y="316.2" width="2.0" height="2.0"/><rect x="589.1" y="312.8" width="2.0" height="2.0"/><rect x="586.0" y="303.5" width="2.0" height="2.0"/><rect x="593.9" y="322.3" width="2.0" height="2.0"/><rect x="590.9" y="294.2" width="2.0" height="2.0"/><rect x="583.1" y="319.0" width="2.0" height="2.0"/><rect x="601.0" y="304.3" width="2.0" height="2.0"/><rect x="592.8" y="314.2" width="2.0" height="2.0"/><rect x="601.2" y="310.2" width="2.0" height="2.0"/><rect x="603.3" y="309.8" width="2.0" height="2.0"/><rect x="589.9" y="325.2" width="2.0" height="2.0"/><rect x="583.9" y="308.0" width="2.0" height="2.0"/><rect x="597.4" y="324.0" width="2.0" height="2.0"/></g>
<g fill="#4dbeee"><rect x="559.4" y="318.6" width="2.0" height="2.0"/><rect x="570.5" y="302.0" width="2.0" height="2.0"/><rect x="554.7" y="311.1" width="2.0" height="2.0"/><rect x="555.1" y="309.6" width="2.0" height="2.0"/><rect x="559.5" y="303.5" width="2.0" height="2.0"/><rect x="550.1" y="313.8" width="2.0" height="2.0"/><rect x="546.6" y="335.6" width="2.0" height="2.0"/><rect x="552.3" y="302.0" width="2.0" height="2.0"/><rect x="557.0" y="309.5" width="2.0" height="2.0"/><rect x="555.4" y="309.4" width="2.0" height="2.0"/><rect x="562.5" y="291.6" width="2.0" height="2.0"/><rect x="562.0" y="322.4" width="2.0" height="2.0"/><rect x="559.7" y="305.2" width="2.0" height="2.0"/><rect x="560.7" y="331.6" width="2.0" height="2.0"/><rect x="557.2" y="323.5" width="2.0" height="2.0"/></g>
<g fill="#0072bd"><rect x="388.6" y="80.9" width="2.0" height="2.0"/><rect x="389.8" y="87.6" width="2.0" height="2.0"/></g>
<g fill="#d95319"><rect x="446.7" y="51.5" width="2.0" height="2.0"/><rect x="441.1" y="111.1" width="2.0" height="2.0"/><rect x="476.6" y="79.5" width="2.0" height="2.0"/></g>
<g fill="#d95319"><rect x="388.6" y="198.2" width="2.0" height="2.0"/><rect x="389.8" y="205.0" width="2.0" height="2.0"/></g>
<g fill="#0072bd"><rect x="441.1" y="228.5" width="2.0" height="2.0"/></g>
<g fill="#7e2f8e"><rect x="446.7" y="168.8" width="2.0" height="2.0"/><rect x="476.6" y="196.8" width="2.0" height="2.0"/></g>
<g fill="#edb120"><rect x="390.3" y="317.3" width="2.0" height="2.0"/><rect x="389.2" y="321.9" width="2.0" height="2.0"/></g>
<g fill="#0072bd"><rect x="441.0" y="354.5" width="2.0" height="2.0"/></g>
<g fill="#d95319"><rect x="574.8" y="119.7" width="2.0" height="2.0"/><rect x="597.0" y="44.6" width="2.0" height="2.0"/></g>
<g fill="#0072bd"><rect x="584.4" y="44.6" width="2.0" height="2.0"/></g>
<g fill="#0072bd"><rect x="574.8" y="237.2" width="2.0" height="2.0"/><rect x="597.0" y="161.8" width="2.0" height="2.0"/></g>
<g fill="#0072bd"><rect x="574.8" y="354.8" width="2.0" height="2.0"/><rect x="597.0" y="278.9" width="2.0" height="2.0"/></g>
<g fill="#edb120"><rect x="545.8" y="317.3" width="2.0" height="2.0"/><rect x="546.7" y="321.7" width="2.0" height="2.0"/></g>
<rect x="635.8" y="111.0" width="34.2" height="12.8" fill="#fff" stroke="#b0b0b0" stroke-width="0.55"/>
<rect x="643.7" y="114.0" width="1.8" height="1.8" fill="#0072bd"/>
<text x="652.9" y="116.8" font-size="5.4" fill="#444" stroke="#444" stroke-width="0.12" textLength="15.6" lengthAdjust="spacingAndGlyphs">Group 1</text>
<rect x="643.7" y="119.5" width="1.8" height="1.8" fill="#d95319"/>
<text x="652.9" y="122.3" font-size="5.4" fill="#444" stroke="#444" stroke-width="0.12" textLength="15.6" lengthAdjust="spacingAndGlyphs">Group 2</text>
<rect x="636.0" y="215.3" width="34.3" height="24.2" fill="#fff" stroke="#b0b0b0" stroke-width="0.55"/>
<rect x="643.7" y="218.4" width="1.8" height="1.8" fill="#0072bd"/>
<text x="652.9" y="221.2" font-size="5.4" fill="#444" stroke="#444" stroke-width="0.12" textLength="15.6" lengthAdjust="spacingAndGlyphs">Group 1</text>
<rect x="643.7" y="224.0" width="1.8" height="1.8" fill="#d95319"/>
<text x="652.9" y="226.8" font-size="5.4" fill="#444" stroke="#444" stroke-width="0.12" textLength="15.6" lengthAdjust="spacingAndGlyphs">Group 2</text>
<rect x="643.7" y="229.5" width="1.8" height="1.8" fill="#edb120"/>
<text x="652.9" y="232.3" font-size="5.4" fill="#444" stroke="#444" stroke-width="0.12" textLength="15.6" lengthAdjust="spacingAndGlyphs">Group 3</text>
<rect x="643.7" y="235.1" width="1.8" height="1.8" fill="#7e2f8e"/>
<text x="652.9" y="237.9" font-size="5.4" fill="#444" stroke="#444" stroke-width="0.12" textLength="15.6" lengthAdjust="spacingAndGlyphs">Group 4</text>
<rect x="636.3" y="321.0" width="34.0" height="35.6" fill="#fff" stroke="#b0b0b0" stroke-width="0.55"/>
<rect x="643.7" y="323.6" width="1.8" height="1.8" fill="#0072bd"/>
<text x="652.9" y="326.4" font-size="5.4" fill="#444" stroke="#444" stroke-width="0.12" textLength="15.6" lengthAdjust="spacingAndGlyphs">Group 1</text>
<rect x="643.7" y="329.3" width="1.8" height="1.8" fill="#d95319"/>
<text x="652.9" y="332.1" font-size="5.4" fill="#444" stroke="#444" stroke-width="0.12" textLength="15.6" lengthAdjust="spacingAndGlyphs">Group 2</text>
<rect x="643.7" y="334.9" width="1.8" height="1.8" fill="#edb120"/>
<text x="652.9" y="337.7" font-size="5.4" fill="#444" stroke="#444" stroke-width="0.12" textLength="15.6" lengthAdjust="spacingAndGlyphs">Group 3</text>
<rect x="643.7" y="340.6" width="1.8" height="1.8" fill="#7e2f8e"/>
<text x="652.9" y="343.4" font-size="5.4" fill="#444" stroke="#444" stroke-width="0.12" textLength="15.6" lengthAdjust="spacingAndGlyphs">Group 4</text>
<rect x="643.7" y="346.2" width="1.8" height="1.8" fill="#77ac30"/>
<text x="652.9" y="349.0" font-size="5.4" fill="#444" stroke="#444" stroke-width="0.12" textLength="15.6" lengthAdjust="spacingAndGlyphs">Group 5</text>
<rect x="643.7" y="351.9" width="1.8" height="1.8" fill="#4dbeee"/>
<text x="652.9" y="354.7" font-size="5.4" fill="#444" stroke="#444" stroke-width="0.12" textLength="15.6" lengthAdjust="spacingAndGlyphs">Group 6</text>
<path d="M397.6 200.1H467.4V197.1L478.3 202.3L467.4 207.6V204.5H397.6Z" fill="#4ab6ea"/>
<path d="M539.9 200.0H608.8V197.2L619.8 202.3L608.8 207.4V204.6H539.9Z" fill="#c81e1e"/>
<text x="405.5" y="156.0" font-size="12.1" fill="#4ab6ea" font-weight="bold" textLength="65.7" lengthAdjust="spacingAndGlyphs">Body Activity</text>
<text x="424.3" y="170.0" font-size="12.1" fill="#4ab6ea" font-weight="bold" textLength="26.7" lengthAdjust="spacingAndGlyphs">Index</text>
<text x="542.4" y="156.2" font-size="12.1" fill="#c0282a" font-weight="bold" textLength="71.2" lengthAdjust="spacingAndGlyphs">Metabolomics</text>
<text x="564.3" y="170.0" font-size="12.1" fill="#c0282a" font-weight="bold" textLength="27.7" lengthAdjust="spacingAndGlyphs">Index</text>
</svg></body></html>
